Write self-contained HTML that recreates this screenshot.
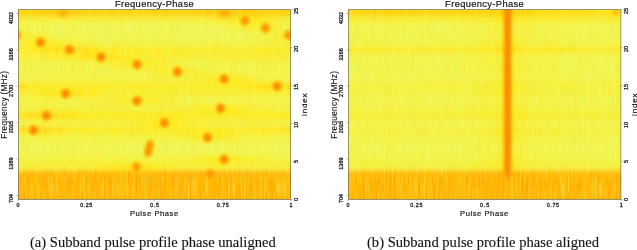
<!DOCTYPE html>
<html><head><meta charset="utf-8"><title>Subband pulse profile</title>
<style>
html,body{margin:0;padding:0;background:#fff;width:637px;height:250px;overflow:hidden}
svg{display:block;position:absolute;left:0;top:0}
.tx{will-change:transform}
.tx text{font-family:"Liberation Sans",sans-serif}
.tx .b{fill:#111;stroke:#111;stroke-width:.18px}
.tx .c{fill:#111;stroke:#111;stroke-width:.1px}
.tx .s{fill:#111;stroke:#111;stroke-width:.26px}
.tx line{stroke:#888;stroke-width:.6px}
.cap{will-change:transform;-webkit-text-stroke:0.12px #111;position:absolute;top:232px;font-family:"Liberation Serif",serif;font-size:14.58px;color:#111;white-space:nowrap;line-height:20px}
</style></head><body>
<svg width="637" height="250" viewBox="0 0 637 250">
<defs>
<filter id="vb" x="-2%" y="-10%" width="104%" height="120%"><feGaussianBlur stdDeviation="0.3 2.2"/></filter>
<linearGradient id="ln"><stop offset="0" stop-color="#ffc000" stop-opacity="0"/><stop offset="0.2" stop-color="#ffb000" stop-opacity="0.3"/><stop offset="0.33" stop-color="#fd9800" stop-opacity="0.8"/><stop offset="0.43" stop-color="#fb8c00"/><stop offset="0.57" stop-color="#fb8c00"/><stop offset="0.67" stop-color="#fd9800" stop-opacity="0.8"/><stop offset="0.8" stop-color="#ffb000" stop-opacity="0.3"/><stop offset="1" stop-color="#ffc000" stop-opacity="0"/></linearGradient>
<radialGradient id="bl"><stop offset="0" stop-color="#fa8a00"/><stop offset="0.28" stop-color="#fb9000" stop-opacity="0.95"/><stop offset="0.5" stop-color="#fda400" stop-opacity="0.7"/><stop offset="0.7" stop-color="#ffb800" stop-opacity="0.38"/><stop offset="0.86" stop-color="#ffc800" stop-opacity="0.13"/><stop offset="1" stop-color="#ffd000" stop-opacity="0"/></radialGradient>
<linearGradient id="bmg" x1="0" y1="0" x2="0" y2="1"><stop offset="0" stop-color="#fff" stop-opacity="0"/><stop offset="0.25" stop-color="#fff" stop-opacity="1"/></linearGradient><mask id="bm" maskUnits="userSpaceOnUse" x="0" y="0" width="637" height="250"><rect x="0" y="169.4" width="637" height="30.2" fill="url(#bmg)"/></mask>
<clipPath id="ca"><rect x="18.0" y="9.6" width="273.0" height="190.0"/></clipPath>
<clipPath id="cb"><rect x="348.0" y="9.6" width="273.2" height="190.0"/></clipPath>
<linearGradient id="a0"><stop offset="0.0%" stop-color="#ffd20d"/><stop offset="1.1%" stop-color="#ffd60f"/><stop offset="2.2%" stop-color="#ffd60f"/><stop offset="3.3%" stop-color="#ffd710"/><stop offset="4.4%" stop-color="#ffd40e"/><stop offset="5.5%" stop-color="#ffd10c"/><stop offset="6.6%" stop-color="#ffd30d"/><stop offset="7.7%" stop-color="#ffd20d"/><stop offset="8.8%" stop-color="#ffd30d"/><stop offset="9.9%" stop-color="#ffcd0a"/><stop offset="11.0%" stop-color="#ffd00c"/><stop offset="12.1%" stop-color="#ffcf0b"/><stop offset="13.2%" stop-color="#ffd10c"/><stop offset="14.3%" stop-color="#ffcf0b"/><stop offset="15.4%" stop-color="#ffd00b"/><stop offset="16.5%" stop-color="#ffce0a"/><stop offset="17.6%" stop-color="#ffce0a"/><stop offset="18.7%" stop-color="#ffcb08"/><stop offset="19.8%" stop-color="#ffcc09"/><stop offset="20.9%" stop-color="#ffcd0a"/><stop offset="22.0%" stop-color="#ffd40e"/><stop offset="23.1%" stop-color="#ffd00b"/><stop offset="24.2%" stop-color="#ffd20d"/><stop offset="25.3%" stop-color="#ffd10c"/><stop offset="26.4%" stop-color="#ffd710"/><stop offset="27.5%" stop-color="#ffd00c"/><stop offset="28.6%" stop-color="#ffd00b"/><stop offset="29.7%" stop-color="#ffd60f"/><stop offset="30.8%" stop-color="#ffd60f"/><stop offset="31.9%" stop-color="#ffd50e"/><stop offset="33.0%" stop-color="#ffd50f"/><stop offset="34.1%" stop-color="#ffd40e"/><stop offset="35.2%" stop-color="#ffd00c"/><stop offset="36.3%" stop-color="#ffd50e"/><stop offset="37.4%" stop-color="#ffd40e"/><stop offset="38.5%" stop-color="#ffd40e"/><stop offset="39.6%" stop-color="#ffd50e"/><stop offset="40.7%" stop-color="#ffd30d"/><stop offset="41.8%" stop-color="#ffd40e"/><stop offset="42.9%" stop-color="#ffd911"/><stop offset="44.0%" stop-color="#ffd50f"/><stop offset="45.1%" stop-color="#ffd60f"/><stop offset="46.2%" stop-color="#ffd30d"/><stop offset="47.3%" stop-color="#ffd50f"/><stop offset="48.4%" stop-color="#ffd60f"/><stop offset="49.5%" stop-color="#ffd60f"/><stop offset="50.5%" stop-color="#ffd30d"/><stop offset="51.6%" stop-color="#ffd60f"/><stop offset="52.7%" stop-color="#ffd60f"/><stop offset="53.8%" stop-color="#ffd30d"/><stop offset="54.9%" stop-color="#ffd10c"/><stop offset="56.0%" stop-color="#ffd60f"/><stop offset="57.1%" stop-color="#ffd50f"/><stop offset="58.2%" stop-color="#ffd60f"/><stop offset="59.3%" stop-color="#ffd710"/><stop offset="60.4%" stop-color="#ffd40e"/><stop offset="61.5%" stop-color="#ffd20d"/><stop offset="62.6%" stop-color="#ffd60f"/><stop offset="63.7%" stop-color="#ffd20c"/><stop offset="64.8%" stop-color="#ffd20c"/><stop offset="65.9%" stop-color="#ffd30d"/><stop offset="67.0%" stop-color="#ffd40e"/><stop offset="68.1%" stop-color="#ffd20d"/><stop offset="69.2%" stop-color="#ffce0b"/><stop offset="70.3%" stop-color="#ffd20d"/><stop offset="71.4%" stop-color="#ffd00b"/><stop offset="72.5%" stop-color="#ffce0a"/><stop offset="73.6%" stop-color="#ffcc09"/><stop offset="74.7%" stop-color="#ffcd0a"/><stop offset="75.8%" stop-color="#ffce0a"/><stop offset="76.9%" stop-color="#ffcd09"/><stop offset="78.0%" stop-color="#ffcc09"/><stop offset="79.1%" stop-color="#ffcb08"/><stop offset="80.2%" stop-color="#ffcc09"/><stop offset="81.3%" stop-color="#ffd20d"/><stop offset="82.4%" stop-color="#ffcf0b"/><stop offset="83.5%" stop-color="#ffd00b"/><stop offset="84.6%" stop-color="#ffd10c"/><stop offset="85.7%" stop-color="#ffd10c"/><stop offset="86.8%" stop-color="#ffd20d"/><stop offset="87.9%" stop-color="#ffcf0b"/><stop offset="89.0%" stop-color="#ffd20d"/><stop offset="90.1%" stop-color="#ffd00c"/><stop offset="91.2%" stop-color="#ffd30e"/><stop offset="92.3%" stop-color="#ffd40e"/><stop offset="93.4%" stop-color="#ffd40e"/><stop offset="94.5%" stop-color="#ffd60f"/><stop offset="95.6%" stop-color="#ffd20d"/><stop offset="96.7%" stop-color="#ffd20c"/><stop offset="97.8%" stop-color="#ffd20d"/><stop offset="98.9%" stop-color="#ffd50f"/><stop offset="100.0%" stop-color="#ffd60f"/></linearGradient>
<linearGradient id="a1"><stop offset="0.0%" stop-color="#f6ef39"/><stop offset="1.1%" stop-color="#f4f242"/><stop offset="2.2%" stop-color="#f4f141"/><stop offset="3.3%" stop-color="#f4f13f"/><stop offset="4.4%" stop-color="#f4f141"/><stop offset="5.5%" stop-color="#f6f03a"/><stop offset="6.6%" stop-color="#f2f347"/><stop offset="7.7%" stop-color="#f5f03d"/><stop offset="8.8%" stop-color="#f3f245"/><stop offset="9.9%" stop-color="#f5f03c"/><stop offset="11.0%" stop-color="#f4f243"/><stop offset="12.1%" stop-color="#f3f346"/><stop offset="13.2%" stop-color="#f4f140"/><stop offset="14.3%" stop-color="#f5f13e"/><stop offset="15.4%" stop-color="#f4f242"/><stop offset="16.5%" stop-color="#f5f13f"/><stop offset="17.6%" stop-color="#f6ef39"/><stop offset="18.7%" stop-color="#f4f140"/><stop offset="19.8%" stop-color="#f5f03d"/><stop offset="20.9%" stop-color="#f4f242"/><stop offset="22.0%" stop-color="#f2f347"/><stop offset="23.1%" stop-color="#f6f03a"/><stop offset="24.2%" stop-color="#f3f346"/><stop offset="25.3%" stop-color="#f5f13f"/><stop offset="26.4%" stop-color="#f4f141"/><stop offset="27.5%" stop-color="#f6f03b"/><stop offset="28.6%" stop-color="#f5f03c"/><stop offset="29.7%" stop-color="#f3f244"/><stop offset="30.8%" stop-color="#f4f140"/><stop offset="31.9%" stop-color="#f4f140"/><stop offset="33.0%" stop-color="#f3f243"/><stop offset="34.1%" stop-color="#f4f141"/><stop offset="35.2%" stop-color="#f5f13f"/><stop offset="36.3%" stop-color="#f4f140"/><stop offset="37.4%" stop-color="#f3f243"/><stop offset="38.5%" stop-color="#f4f140"/><stop offset="39.6%" stop-color="#f0f54f"/><stop offset="40.7%" stop-color="#f5f13f"/><stop offset="41.8%" stop-color="#f2f347"/><stop offset="42.9%" stop-color="#f4f140"/><stop offset="44.0%" stop-color="#f6f03b"/><stop offset="45.1%" stop-color="#f3f346"/><stop offset="46.2%" stop-color="#f4f141"/><stop offset="47.3%" stop-color="#f3f243"/><stop offset="48.4%" stop-color="#f3f244"/><stop offset="49.5%" stop-color="#f5f13e"/><stop offset="50.5%" stop-color="#f5f13f"/><stop offset="51.6%" stop-color="#f3f246"/><stop offset="52.7%" stop-color="#f4f141"/><stop offset="53.8%" stop-color="#f5f13e"/><stop offset="54.9%" stop-color="#f4f140"/><stop offset="56.0%" stop-color="#f2f347"/><stop offset="57.1%" stop-color="#f5f03d"/><stop offset="58.2%" stop-color="#f5f03c"/><stop offset="59.3%" stop-color="#f3f245"/><stop offset="60.4%" stop-color="#f3f245"/><stop offset="61.5%" stop-color="#f4f140"/><stop offset="62.6%" stop-color="#f2f348"/><stop offset="63.7%" stop-color="#f7ef37"/><stop offset="64.8%" stop-color="#f5f03d"/><stop offset="65.9%" stop-color="#f3f346"/><stop offset="67.0%" stop-color="#f4f140"/><stop offset="68.1%" stop-color="#f5f13f"/><stop offset="69.2%" stop-color="#f9ed30"/><stop offset="70.3%" stop-color="#f5f13f"/><stop offset="71.4%" stop-color="#f6ef39"/><stop offset="72.5%" stop-color="#f8ee31"/><stop offset="73.6%" stop-color="#f9ed30"/><stop offset="74.7%" stop-color="#faec2c"/><stop offset="75.8%" stop-color="#f9ed30"/><stop offset="76.9%" stop-color="#fceb26"/><stop offset="78.0%" stop-color="#fbeb28"/><stop offset="79.1%" stop-color="#fee91e"/><stop offset="80.2%" stop-color="#fbec2a"/><stop offset="81.3%" stop-color="#ffe81a"/><stop offset="82.4%" stop-color="#fdea23"/><stop offset="83.5%" stop-color="#fee91c"/><stop offset="84.6%" stop-color="#fcea24"/><stop offset="85.7%" stop-color="#fceb25"/><stop offset="86.8%" stop-color="#fceb25"/><stop offset="87.9%" stop-color="#fee91e"/><stop offset="89.0%" stop-color="#fcea24"/><stop offset="90.1%" stop-color="#fceb25"/><stop offset="91.2%" stop-color="#fbec29"/><stop offset="92.3%" stop-color="#f9ed31"/><stop offset="93.4%" stop-color="#f8ee32"/><stop offset="94.5%" stop-color="#f7ef36"/><stop offset="95.6%" stop-color="#f6f03b"/><stop offset="96.7%" stop-color="#f8ee35"/><stop offset="97.8%" stop-color="#f6f03a"/><stop offset="98.9%" stop-color="#f5f13e"/><stop offset="100.0%" stop-color="#f4f140"/></linearGradient>
<linearGradient id="a2"><stop offset="0.0%" stop-color="#f6ef39"/><stop offset="1.1%" stop-color="#f4f242"/><stop offset="2.2%" stop-color="#f3f246"/><stop offset="3.3%" stop-color="#f2f34a"/><stop offset="4.4%" stop-color="#f1f44b"/><stop offset="5.5%" stop-color="#f2f347"/><stop offset="6.6%" stop-color="#edf758"/><stop offset="7.7%" stop-color="#f1f44d"/><stop offset="8.8%" stop-color="#f1f44b"/><stop offset="9.9%" stop-color="#f1f44a"/><stop offset="11.0%" stop-color="#f2f349"/><stop offset="12.1%" stop-color="#f0f44e"/><stop offset="13.2%" stop-color="#eff552"/><stop offset="14.3%" stop-color="#f0f550"/><stop offset="15.4%" stop-color="#eef758"/><stop offset="16.5%" stop-color="#eff653"/><stop offset="17.6%" stop-color="#f2f347"/><stop offset="18.7%" stop-color="#eff654"/><stop offset="19.8%" stop-color="#f3f346"/><stop offset="20.9%" stop-color="#f0f551"/><stop offset="22.0%" stop-color="#f1f44c"/><stop offset="23.1%" stop-color="#f1f44c"/><stop offset="24.2%" stop-color="#eef757"/><stop offset="25.3%" stop-color="#eff653"/><stop offset="26.4%" stop-color="#f0f54f"/><stop offset="27.5%" stop-color="#eff653"/><stop offset="28.6%" stop-color="#f0f551"/><stop offset="29.7%" stop-color="#f0f54f"/><stop offset="30.8%" stop-color="#eff653"/><stop offset="31.9%" stop-color="#eff654"/><stop offset="33.0%" stop-color="#eff654"/><stop offset="34.1%" stop-color="#f1f44d"/><stop offset="35.2%" stop-color="#f0f550"/><stop offset="36.3%" stop-color="#f1f44b"/><stop offset="37.4%" stop-color="#f2f34a"/><stop offset="38.5%" stop-color="#f0f44e"/><stop offset="39.6%" stop-color="#edf85b"/><stop offset="40.7%" stop-color="#eff653"/><stop offset="41.8%" stop-color="#eff552"/><stop offset="42.9%" stop-color="#f0f550"/><stop offset="44.0%" stop-color="#f0f44e"/><stop offset="45.1%" stop-color="#f1f44c"/><stop offset="46.2%" stop-color="#eff653"/><stop offset="47.3%" stop-color="#f0f551"/><stop offset="48.4%" stop-color="#eff552"/><stop offset="49.5%" stop-color="#eff551"/><stop offset="50.5%" stop-color="#eff552"/><stop offset="51.6%" stop-color="#eff654"/><stop offset="52.7%" stop-color="#eff551"/><stop offset="53.8%" stop-color="#eff552"/><stop offset="54.9%" stop-color="#eff654"/><stop offset="56.0%" stop-color="#f0f54f"/><stop offset="57.1%" stop-color="#f0f54f"/><stop offset="58.2%" stop-color="#f3f243"/><stop offset="59.3%" stop-color="#f1f44d"/><stop offset="60.4%" stop-color="#eff654"/><stop offset="61.5%" stop-color="#f1f44c"/><stop offset="62.6%" stop-color="#eff654"/><stop offset="63.7%" stop-color="#f0f551"/><stop offset="64.8%" stop-color="#f1f44a"/><stop offset="65.9%" stop-color="#eef656"/><stop offset="67.0%" stop-color="#edf85b"/><stop offset="68.1%" stop-color="#f0f54f"/><stop offset="69.2%" stop-color="#f0f550"/><stop offset="70.3%" stop-color="#f0f44e"/><stop offset="71.4%" stop-color="#eff653"/><stop offset="72.5%" stop-color="#eff551"/><stop offset="73.6%" stop-color="#f3f245"/><stop offset="74.7%" stop-color="#eef656"/><stop offset="75.8%" stop-color="#f1f44c"/><stop offset="76.9%" stop-color="#f3f243"/><stop offset="78.0%" stop-color="#f2f349"/><stop offset="79.1%" stop-color="#f4f242"/><stop offset="80.2%" stop-color="#f3f246"/><stop offset="81.3%" stop-color="#f5f03c"/><stop offset="82.4%" stop-color="#f3f243"/><stop offset="83.5%" stop-color="#f8ee35"/><stop offset="84.6%" stop-color="#f7ee35"/><stop offset="85.7%" stop-color="#faec2c"/><stop offset="86.8%" stop-color="#f7ef37"/><stop offset="87.9%" stop-color="#f9ed2f"/><stop offset="89.0%" stop-color="#fbec29"/><stop offset="90.1%" stop-color="#faed2d"/><stop offset="91.2%" stop-color="#fbec2a"/><stop offset="92.3%" stop-color="#faec2d"/><stop offset="93.4%" stop-color="#faec2c"/><stop offset="94.5%" stop-color="#f7ef36"/><stop offset="95.6%" stop-color="#f7ef36"/><stop offset="96.7%" stop-color="#f5f13e"/><stop offset="97.8%" stop-color="#f4f141"/><stop offset="98.9%" stop-color="#f6ef39"/><stop offset="100.0%" stop-color="#f3f244"/></linearGradient>
<linearGradient id="a3"><stop offset="0.0%" stop-color="#faed2d"/><stop offset="1.1%" stop-color="#f6f03b"/><stop offset="2.2%" stop-color="#f9ed2f"/><stop offset="3.3%" stop-color="#f7ee35"/><stop offset="4.4%" stop-color="#f5f03c"/><stop offset="5.5%" stop-color="#f7ef37"/><stop offset="6.6%" stop-color="#f4f140"/><stop offset="7.7%" stop-color="#f5f03d"/><stop offset="8.8%" stop-color="#f2f347"/><stop offset="9.9%" stop-color="#f7ef36"/><stop offset="11.0%" stop-color="#f3f245"/><stop offset="12.1%" stop-color="#f1f44a"/><stop offset="13.2%" stop-color="#f1f44d"/><stop offset="14.3%" stop-color="#f0f54e"/><stop offset="15.4%" stop-color="#f1f44c"/><stop offset="16.5%" stop-color="#f0f550"/><stop offset="17.6%" stop-color="#f2f349"/><stop offset="18.7%" stop-color="#f1f44d"/><stop offset="19.8%" stop-color="#f2f348"/><stop offset="20.9%" stop-color="#f1f44d"/><stop offset="22.0%" stop-color="#f0f550"/><stop offset="23.1%" stop-color="#eff654"/><stop offset="24.2%" stop-color="#f1f44d"/><stop offset="25.3%" stop-color="#f0f44e"/><stop offset="26.4%" stop-color="#f0f550"/><stop offset="27.5%" stop-color="#f1f44c"/><stop offset="28.6%" stop-color="#f1f44d"/><stop offset="29.7%" stop-color="#eff552"/><stop offset="30.8%" stop-color="#eff654"/><stop offset="31.9%" stop-color="#f2f348"/><stop offset="33.0%" stop-color="#eff551"/><stop offset="34.1%" stop-color="#eff652"/><stop offset="35.2%" stop-color="#eff653"/><stop offset="36.3%" stop-color="#f0f54f"/><stop offset="37.4%" stop-color="#f2f34a"/><stop offset="38.5%" stop-color="#f1f44c"/><stop offset="39.6%" stop-color="#edf759"/><stop offset="40.7%" stop-color="#f2f348"/><stop offset="41.8%" stop-color="#f1f44c"/><stop offset="42.9%" stop-color="#f0f550"/><stop offset="44.0%" stop-color="#f1f44c"/><stop offset="45.1%" stop-color="#f2f34a"/><stop offset="46.2%" stop-color="#f0f54f"/><stop offset="47.3%" stop-color="#f0f54f"/><stop offset="48.4%" stop-color="#eff653"/><stop offset="49.5%" stop-color="#f1f44a"/><stop offset="50.5%" stop-color="#f1f44c"/><stop offset="51.6%" stop-color="#f3f346"/><stop offset="52.7%" stop-color="#eef757"/><stop offset="53.8%" stop-color="#f1f44a"/><stop offset="54.9%" stop-color="#f1f44c"/><stop offset="56.0%" stop-color="#eff653"/><stop offset="57.1%" stop-color="#f1f44d"/><stop offset="58.2%" stop-color="#f1f44b"/><stop offset="59.3%" stop-color="#f0f44e"/><stop offset="60.4%" stop-color="#eff654"/><stop offset="61.5%" stop-color="#f0f550"/><stop offset="62.6%" stop-color="#eff552"/><stop offset="63.7%" stop-color="#f2f349"/><stop offset="64.8%" stop-color="#f0f54e"/><stop offset="65.9%" stop-color="#eff653"/><stop offset="67.0%" stop-color="#f0f54f"/><stop offset="68.1%" stop-color="#f0f44e"/><stop offset="69.2%" stop-color="#eff552"/><stop offset="70.3%" stop-color="#edf75a"/><stop offset="71.4%" stop-color="#eff551"/><stop offset="72.5%" stop-color="#eff652"/><stop offset="73.6%" stop-color="#f0f54f"/><stop offset="74.7%" stop-color="#eff654"/><stop offset="75.8%" stop-color="#f0f54f"/><stop offset="76.9%" stop-color="#eff653"/><stop offset="78.0%" stop-color="#f1f44e"/><stop offset="79.1%" stop-color="#eff552"/><stop offset="80.2%" stop-color="#f0f54f"/><stop offset="81.3%" stop-color="#eff653"/><stop offset="82.4%" stop-color="#eef655"/><stop offset="83.5%" stop-color="#f2f347"/><stop offset="84.6%" stop-color="#f1f44d"/><stop offset="85.7%" stop-color="#f0f44e"/><stop offset="86.8%" stop-color="#f1f44d"/><stop offset="87.9%" stop-color="#f4f140"/><stop offset="89.0%" stop-color="#f4f142"/><stop offset="90.1%" stop-color="#f5f13f"/><stop offset="91.2%" stop-color="#f7ef37"/><stop offset="92.3%" stop-color="#f5f03c"/><stop offset="93.4%" stop-color="#f6f03b"/><stop offset="94.5%" stop-color="#f6ef39"/><stop offset="95.6%" stop-color="#f9ed30"/><stop offset="96.7%" stop-color="#fbec2a"/><stop offset="97.8%" stop-color="#f9ed2e"/><stop offset="98.9%" stop-color="#f9ed31"/><stop offset="100.0%" stop-color="#f9ed31"/></linearGradient>
<linearGradient id="a4"><stop offset="0.0%" stop-color="#faec2c"/><stop offset="1.1%" stop-color="#f7ef38"/><stop offset="2.2%" stop-color="#fbeb29"/><stop offset="3.3%" stop-color="#fbeb28"/><stop offset="4.4%" stop-color="#faec2a"/><stop offset="5.5%" stop-color="#fceb25"/><stop offset="6.6%" stop-color="#fbeb28"/><stop offset="7.7%" stop-color="#ffe81c"/><stop offset="8.8%" stop-color="#ffe81a"/><stop offset="9.9%" stop-color="#ffe81b"/><stop offset="11.0%" stop-color="#fcea24"/><stop offset="12.1%" stop-color="#f9ed30"/><stop offset="13.2%" stop-color="#fbec29"/><stop offset="14.3%" stop-color="#f9ed2e"/><stop offset="15.4%" stop-color="#f7ef37"/><stop offset="16.5%" stop-color="#f8ee32"/><stop offset="17.6%" stop-color="#f5f03c"/><stop offset="18.7%" stop-color="#f6f03c"/><stop offset="19.8%" stop-color="#f6f03a"/><stop offset="20.9%" stop-color="#f3f245"/><stop offset="22.0%" stop-color="#f5f13e"/><stop offset="23.1%" stop-color="#f6f03b"/><stop offset="24.2%" stop-color="#f2f349"/><stop offset="25.3%" stop-color="#f1f44c"/><stop offset="26.4%" stop-color="#f3f244"/><stop offset="27.5%" stop-color="#f3f246"/><stop offset="28.6%" stop-color="#f2f348"/><stop offset="29.7%" stop-color="#f2f349"/><stop offset="30.8%" stop-color="#f2f349"/><stop offset="31.9%" stop-color="#f3f346"/><stop offset="33.0%" stop-color="#f2f347"/><stop offset="34.1%" stop-color="#f2f347"/><stop offset="35.2%" stop-color="#f5f13f"/><stop offset="36.3%" stop-color="#f4f141"/><stop offset="37.4%" stop-color="#f3f245"/><stop offset="38.5%" stop-color="#f4f242"/><stop offset="39.6%" stop-color="#f2f349"/><stop offset="40.7%" stop-color="#f3f243"/><stop offset="41.8%" stop-color="#f0f54f"/><stop offset="42.9%" stop-color="#f2f349"/><stop offset="44.0%" stop-color="#f2f347"/><stop offset="45.1%" stop-color="#f4f140"/><stop offset="46.2%" stop-color="#f2f349"/><stop offset="47.3%" stop-color="#f2f348"/><stop offset="48.4%" stop-color="#f2f347"/><stop offset="49.5%" stop-color="#f4f142"/><stop offset="50.5%" stop-color="#f3f244"/><stop offset="51.6%" stop-color="#f2f347"/><stop offset="52.7%" stop-color="#f3f346"/><stop offset="53.8%" stop-color="#f2f347"/><stop offset="54.9%" stop-color="#f2f348"/><stop offset="56.0%" stop-color="#f1f44a"/><stop offset="57.1%" stop-color="#f3f246"/><stop offset="58.2%" stop-color="#f5f13f"/><stop offset="59.3%" stop-color="#f1f44a"/><stop offset="60.4%" stop-color="#f2f34a"/><stop offset="61.5%" stop-color="#f2f348"/><stop offset="62.6%" stop-color="#f1f44b"/><stop offset="63.7%" stop-color="#f1f44b"/><stop offset="64.8%" stop-color="#f2f34a"/><stop offset="65.9%" stop-color="#f1f44c"/><stop offset="67.0%" stop-color="#f3f246"/><stop offset="68.1%" stop-color="#f1f44a"/><stop offset="69.2%" stop-color="#f2f348"/><stop offset="70.3%" stop-color="#f0f550"/><stop offset="71.4%" stop-color="#f2f348"/><stop offset="72.5%" stop-color="#f4f141"/><stop offset="73.6%" stop-color="#f3f244"/><stop offset="74.7%" stop-color="#f1f44c"/><stop offset="75.8%" stop-color="#f2f347"/><stop offset="76.9%" stop-color="#f1f44b"/><stop offset="78.0%" stop-color="#f1f44b"/><stop offset="79.1%" stop-color="#f3f245"/><stop offset="80.2%" stop-color="#f2f34a"/><stop offset="81.3%" stop-color="#f2f347"/><stop offset="82.4%" stop-color="#f0f54f"/><stop offset="83.5%" stop-color="#f4f140"/><stop offset="84.6%" stop-color="#f4f141"/><stop offset="85.7%" stop-color="#f2f34a"/><stop offset="86.8%" stop-color="#f2f34a"/><stop offset="87.9%" stop-color="#f4f242"/><stop offset="89.0%" stop-color="#f4f242"/><stop offset="90.1%" stop-color="#f1f44a"/><stop offset="91.2%" stop-color="#f5f03d"/><stop offset="92.3%" stop-color="#f3f246"/><stop offset="93.4%" stop-color="#f4f140"/><stop offset="94.5%" stop-color="#f3f243"/><stop offset="95.6%" stop-color="#f4f243"/><stop offset="96.7%" stop-color="#f6f03a"/><stop offset="97.8%" stop-color="#f6f03a"/><stop offset="98.9%" stop-color="#f5f03c"/><stop offset="100.0%" stop-color="#f7ef36"/></linearGradient>
<linearGradient id="a5"><stop offset="0.0%" stop-color="#fdea21"/><stop offset="1.1%" stop-color="#f9ed30"/><stop offset="2.2%" stop-color="#fee91d"/><stop offset="3.3%" stop-color="#fdea21"/><stop offset="4.4%" stop-color="#fdea21"/><stop offset="5.5%" stop-color="#ffe81a"/><stop offset="6.6%" stop-color="#fceb24"/><stop offset="7.7%" stop-color="#ffe81a"/><stop offset="8.8%" stop-color="#ffe418"/><stop offset="9.9%" stop-color="#ffe015"/><stop offset="11.0%" stop-color="#ffe71a"/><stop offset="12.1%" stop-color="#ffe81a"/><stop offset="13.2%" stop-color="#ffe317"/><stop offset="14.3%" stop-color="#ffde14"/><stop offset="15.4%" stop-color="#ffe015"/><stop offset="16.5%" stop-color="#ffde14"/><stop offset="17.6%" stop-color="#ffdb12"/><stop offset="18.7%" stop-color="#ffde14"/><stop offset="19.8%" stop-color="#ffdb12"/><stop offset="20.9%" stop-color="#ffdb12"/><stop offset="22.0%" stop-color="#ffdd13"/><stop offset="23.1%" stop-color="#ffdc13"/><stop offset="24.2%" stop-color="#ffe015"/><stop offset="25.3%" stop-color="#ffe116"/><stop offset="26.4%" stop-color="#ffe418"/><stop offset="27.5%" stop-color="#ffe216"/><stop offset="28.6%" stop-color="#ffe015"/><stop offset="29.7%" stop-color="#fee91c"/><stop offset="30.8%" stop-color="#fcea24"/><stop offset="31.9%" stop-color="#fee91d"/><stop offset="33.0%" stop-color="#fde920"/><stop offset="34.1%" stop-color="#fee91e"/><stop offset="35.2%" stop-color="#fee81c"/><stop offset="36.3%" stop-color="#fceb25"/><stop offset="37.4%" stop-color="#fbeb27"/><stop offset="38.5%" stop-color="#fee91e"/><stop offset="39.6%" stop-color="#f9ed30"/><stop offset="40.7%" stop-color="#fee91e"/><stop offset="41.8%" stop-color="#fbeb28"/><stop offset="42.9%" stop-color="#fceb26"/><stop offset="44.0%" stop-color="#fdea22"/><stop offset="45.1%" stop-color="#fdea21"/><stop offset="46.2%" stop-color="#fcea23"/><stop offset="47.3%" stop-color="#faec2c"/><stop offset="48.4%" stop-color="#fcea24"/><stop offset="49.5%" stop-color="#fceb26"/><stop offset="50.5%" stop-color="#fdea21"/><stop offset="51.6%" stop-color="#fee91f"/><stop offset="52.7%" stop-color="#fceb26"/><stop offset="53.8%" stop-color="#fceb26"/><stop offset="54.9%" stop-color="#fbec29"/><stop offset="56.0%" stop-color="#fbec29"/><stop offset="57.1%" stop-color="#fdea21"/><stop offset="58.2%" stop-color="#fbeb27"/><stop offset="59.3%" stop-color="#fdea21"/><stop offset="60.4%" stop-color="#fceb26"/><stop offset="61.5%" stop-color="#fceb26"/><stop offset="62.6%" stop-color="#f9ed30"/><stop offset="63.7%" stop-color="#fcea23"/><stop offset="64.8%" stop-color="#fdea22"/><stop offset="65.9%" stop-color="#f9ed30"/><stop offset="67.0%" stop-color="#fdea21"/><stop offset="68.1%" stop-color="#fdea21"/><stop offset="69.2%" stop-color="#fdea22"/><stop offset="70.3%" stop-color="#fbeb28"/><stop offset="71.4%" stop-color="#fee91e"/><stop offset="72.5%" stop-color="#fee91f"/><stop offset="73.6%" stop-color="#fceb26"/><stop offset="74.7%" stop-color="#faec2b"/><stop offset="75.8%" stop-color="#fbeb27"/><stop offset="76.9%" stop-color="#fceb25"/><stop offset="78.0%" stop-color="#f9ed30"/><stop offset="79.1%" stop-color="#fee91f"/><stop offset="80.2%" stop-color="#faec2b"/><stop offset="81.3%" stop-color="#fcea24"/><stop offset="82.4%" stop-color="#fbeb28"/><stop offset="83.5%" stop-color="#fee91f"/><stop offset="84.6%" stop-color="#fbeb27"/><stop offset="85.7%" stop-color="#fbec29"/><stop offset="86.8%" stop-color="#fbeb27"/><stop offset="87.9%" stop-color="#fee91c"/><stop offset="89.0%" stop-color="#fceb25"/><stop offset="90.1%" stop-color="#fee91e"/><stop offset="91.2%" stop-color="#fdea22"/><stop offset="92.3%" stop-color="#fbeb27"/><stop offset="93.4%" stop-color="#fdea21"/><stop offset="94.5%" stop-color="#faec2a"/><stop offset="95.6%" stop-color="#fcea23"/><stop offset="96.7%" stop-color="#fcea24"/><stop offset="97.8%" stop-color="#fbeb27"/><stop offset="98.9%" stop-color="#faec2b"/><stop offset="100.0%" stop-color="#fbeb28"/></linearGradient>
<linearGradient id="a6"><stop offset="0.0%" stop-color="#fbeb28"/><stop offset="1.1%" stop-color="#f7ef36"/><stop offset="2.2%" stop-color="#f9ed30"/><stop offset="3.3%" stop-color="#f8ee34"/><stop offset="4.4%" stop-color="#f9ed30"/><stop offset="5.5%" stop-color="#f7ef37"/><stop offset="6.6%" stop-color="#f6f03a"/><stop offset="7.7%" stop-color="#f8ee32"/><stop offset="8.8%" stop-color="#f7ef36"/><stop offset="9.9%" stop-color="#faec2b"/><stop offset="11.0%" stop-color="#f9ed30"/><stop offset="12.1%" stop-color="#f9ed31"/><stop offset="13.2%" stop-color="#f9ed30"/><stop offset="14.3%" stop-color="#fbec29"/><stop offset="15.4%" stop-color="#faec2b"/><stop offset="16.5%" stop-color="#fbeb27"/><stop offset="17.6%" stop-color="#fbeb28"/><stop offset="18.7%" stop-color="#fbec29"/><stop offset="19.8%" stop-color="#fbeb27"/><stop offset="20.9%" stop-color="#fdea22"/><stop offset="22.0%" stop-color="#fceb25"/><stop offset="23.1%" stop-color="#ffe71a"/><stop offset="24.2%" stop-color="#ffe418"/><stop offset="25.3%" stop-color="#ffe317"/><stop offset="26.4%" stop-color="#ffe216"/><stop offset="27.5%" stop-color="#ffe317"/><stop offset="28.6%" stop-color="#ffdf14"/><stop offset="29.7%" stop-color="#ffe317"/><stop offset="30.8%" stop-color="#ffe015"/><stop offset="31.9%" stop-color="#ffe116"/><stop offset="33.0%" stop-color="#ffe216"/><stop offset="34.1%" stop-color="#ffdf15"/><stop offset="35.2%" stop-color="#ffe216"/><stop offset="36.3%" stop-color="#ffe116"/><stop offset="37.4%" stop-color="#ffe719"/><stop offset="38.5%" stop-color="#fee81c"/><stop offset="39.6%" stop-color="#fdea21"/><stop offset="40.7%" stop-color="#ffe81a"/><stop offset="41.8%" stop-color="#fbec2a"/><stop offset="42.9%" stop-color="#faec2c"/><stop offset="44.0%" stop-color="#f9ed2f"/><stop offset="45.1%" stop-color="#faec2b"/><stop offset="46.2%" stop-color="#faec2b"/><stop offset="47.3%" stop-color="#f8ee31"/><stop offset="48.4%" stop-color="#f8ee31"/><stop offset="49.5%" stop-color="#f7ef35"/><stop offset="50.5%" stop-color="#faec2b"/><stop offset="51.6%" stop-color="#faec2c"/><stop offset="52.7%" stop-color="#f9ed2e"/><stop offset="53.8%" stop-color="#faed2d"/><stop offset="54.9%" stop-color="#f7ef36"/><stop offset="56.0%" stop-color="#faec2c"/><stop offset="57.1%" stop-color="#f9ed30"/><stop offset="58.2%" stop-color="#f9ed30"/><stop offset="59.3%" stop-color="#f9ed2f"/><stop offset="60.4%" stop-color="#f6f03b"/><stop offset="61.5%" stop-color="#f9ed31"/><stop offset="62.6%" stop-color="#f7ef37"/><stop offset="63.7%" stop-color="#f9ed2e"/><stop offset="64.8%" stop-color="#faec2b"/><stop offset="65.9%" stop-color="#f8ee33"/><stop offset="67.0%" stop-color="#f7ef38"/><stop offset="68.1%" stop-color="#f8ee35"/><stop offset="69.2%" stop-color="#f9ed2e"/><stop offset="70.3%" stop-color="#f7ef35"/><stop offset="71.4%" stop-color="#f7ef38"/><stop offset="72.5%" stop-color="#f7ef36"/><stop offset="73.6%" stop-color="#faec2c"/><stop offset="74.7%" stop-color="#f8ee35"/><stop offset="75.8%" stop-color="#f8ee32"/><stop offset="76.9%" stop-color="#f7ef37"/><stop offset="78.0%" stop-color="#faec2b"/><stop offset="79.1%" stop-color="#f6ef39"/><stop offset="80.2%" stop-color="#f7ef35"/><stop offset="81.3%" stop-color="#fbeb28"/><stop offset="82.4%" stop-color="#f8ee34"/><stop offset="83.5%" stop-color="#faed2d"/><stop offset="84.6%" stop-color="#f7ef36"/><stop offset="85.7%" stop-color="#faec2d"/><stop offset="86.8%" stop-color="#f6f03a"/><stop offset="87.9%" stop-color="#faec2c"/><stop offset="89.0%" stop-color="#f9ed2f"/><stop offset="90.1%" stop-color="#f8ee33"/><stop offset="91.2%" stop-color="#faec2b"/><stop offset="92.3%" stop-color="#f7ef36"/><stop offset="93.4%" stop-color="#f7ef35"/><stop offset="94.5%" stop-color="#f8ee33"/><stop offset="95.6%" stop-color="#f8ee34"/><stop offset="96.7%" stop-color="#faec2c"/><stop offset="97.8%" stop-color="#f9ed31"/><stop offset="98.9%" stop-color="#f8ee34"/><stop offset="100.0%" stop-color="#f8ee34"/></linearGradient>
<linearGradient id="a7"><stop offset="0.0%" stop-color="#f3f245"/><stop offset="1.1%" stop-color="#f0f54f"/><stop offset="2.2%" stop-color="#f3f244"/><stop offset="3.3%" stop-color="#f1f44a"/><stop offset="4.4%" stop-color="#f2f348"/><stop offset="5.5%" stop-color="#f2f349"/><stop offset="6.6%" stop-color="#f0f550"/><stop offset="7.7%" stop-color="#f3f245"/><stop offset="8.8%" stop-color="#f0f44e"/><stop offset="9.9%" stop-color="#f4f140"/><stop offset="11.0%" stop-color="#f4f242"/><stop offset="12.1%" stop-color="#f1f44d"/><stop offset="13.2%" stop-color="#f2f349"/><stop offset="14.3%" stop-color="#f0f550"/><stop offset="15.4%" stop-color="#f1f44c"/><stop offset="16.5%" stop-color="#f0f54f"/><stop offset="17.6%" stop-color="#f2f348"/><stop offset="18.7%" stop-color="#f1f44b"/><stop offset="19.8%" stop-color="#f3f245"/><stop offset="20.9%" stop-color="#f4f242"/><stop offset="22.0%" stop-color="#f3f346"/><stop offset="23.1%" stop-color="#f4f141"/><stop offset="24.2%" stop-color="#f3f346"/><stop offset="25.3%" stop-color="#f2f349"/><stop offset="26.4%" stop-color="#f2f349"/><stop offset="27.5%" stop-color="#f1f44a"/><stop offset="28.6%" stop-color="#f5f13f"/><stop offset="29.7%" stop-color="#f5f03c"/><stop offset="30.8%" stop-color="#f5f13e"/><stop offset="31.9%" stop-color="#f5f03d"/><stop offset="33.0%" stop-color="#f7ef36"/><stop offset="34.1%" stop-color="#f6f03a"/><stop offset="35.2%" stop-color="#f8ee35"/><stop offset="36.3%" stop-color="#f8ee34"/><stop offset="37.4%" stop-color="#f9ed31"/><stop offset="38.5%" stop-color="#fbec29"/><stop offset="39.6%" stop-color="#fceb26"/><stop offset="40.7%" stop-color="#fcea23"/><stop offset="41.8%" stop-color="#fbec29"/><stop offset="42.9%" stop-color="#fbeb28"/><stop offset="44.0%" stop-color="#fdea22"/><stop offset="45.1%" stop-color="#fbeb28"/><stop offset="46.2%" stop-color="#fceb24"/><stop offset="47.3%" stop-color="#fceb26"/><stop offset="48.4%" stop-color="#fbeb28"/><stop offset="49.5%" stop-color="#fbec2a"/><stop offset="50.5%" stop-color="#f8ee31"/><stop offset="51.6%" stop-color="#f7ef38"/><stop offset="52.7%" stop-color="#f9ee31"/><stop offset="53.8%" stop-color="#f8ee33"/><stop offset="54.9%" stop-color="#f3f243"/><stop offset="56.0%" stop-color="#f4f140"/><stop offset="57.1%" stop-color="#f4f140"/><stop offset="58.2%" stop-color="#f4f13f"/><stop offset="59.3%" stop-color="#f3f244"/><stop offset="60.4%" stop-color="#f2f349"/><stop offset="61.5%" stop-color="#f3f245"/><stop offset="62.6%" stop-color="#f1f44c"/><stop offset="63.7%" stop-color="#f3f246"/><stop offset="64.8%" stop-color="#f0f44e"/><stop offset="65.9%" stop-color="#eef757"/><stop offset="67.0%" stop-color="#f1f44b"/><stop offset="68.1%" stop-color="#f0f551"/><stop offset="69.2%" stop-color="#f3f245"/><stop offset="70.3%" stop-color="#f2f34a"/><stop offset="71.4%" stop-color="#f2f349"/><stop offset="72.5%" stop-color="#f2f348"/><stop offset="73.6%" stop-color="#f3f245"/><stop offset="74.7%" stop-color="#f2f348"/><stop offset="75.8%" stop-color="#f1f44c"/><stop offset="76.9%" stop-color="#f3f244"/><stop offset="78.0%" stop-color="#f2f347"/><stop offset="79.1%" stop-color="#f3f243"/><stop offset="80.2%" stop-color="#f3f245"/><stop offset="81.3%" stop-color="#f1f44a"/><stop offset="82.4%" stop-color="#f2f347"/><stop offset="83.5%" stop-color="#f2f348"/><stop offset="84.6%" stop-color="#f1f44b"/><stop offset="85.7%" stop-color="#f1f44d"/><stop offset="86.8%" stop-color="#f1f44a"/><stop offset="87.9%" stop-color="#f2f348"/><stop offset="89.0%" stop-color="#f3f346"/><stop offset="90.1%" stop-color="#f1f44b"/><stop offset="91.2%" stop-color="#f4f141"/><stop offset="92.3%" stop-color="#f4f140"/><stop offset="93.4%" stop-color="#f2f349"/><stop offset="94.5%" stop-color="#f3f243"/><stop offset="95.6%" stop-color="#f2f348"/><stop offset="96.7%" stop-color="#f5f03c"/><stop offset="97.8%" stop-color="#f1f44b"/><stop offset="98.9%" stop-color="#f0f550"/><stop offset="100.0%" stop-color="#f3f243"/></linearGradient>
<linearGradient id="a8"><stop offset="0.0%" stop-color="#f3f244"/><stop offset="1.1%" stop-color="#eff552"/><stop offset="2.2%" stop-color="#f2f34a"/><stop offset="3.3%" stop-color="#f0f550"/><stop offset="4.4%" stop-color="#f2f34a"/><stop offset="5.5%" stop-color="#f1f44d"/><stop offset="6.6%" stop-color="#f2f347"/><stop offset="7.7%" stop-color="#f3f346"/><stop offset="8.8%" stop-color="#f0f551"/><stop offset="9.9%" stop-color="#f3f346"/><stop offset="11.0%" stop-color="#f2f34a"/><stop offset="12.1%" stop-color="#f0f550"/><stop offset="13.2%" stop-color="#f2f349"/><stop offset="14.3%" stop-color="#f2f34a"/><stop offset="15.4%" stop-color="#f1f44e"/><stop offset="16.5%" stop-color="#f1f44b"/><stop offset="17.6%" stop-color="#f3f245"/><stop offset="18.7%" stop-color="#f3f243"/><stop offset="19.8%" stop-color="#f4f140"/><stop offset="20.9%" stop-color="#f2f348"/><stop offset="22.0%" stop-color="#f3f245"/><stop offset="23.1%" stop-color="#f2f347"/><stop offset="24.2%" stop-color="#f3f245"/><stop offset="25.3%" stop-color="#f1f44d"/><stop offset="26.4%" stop-color="#f3f246"/><stop offset="27.5%" stop-color="#f1f44c"/><stop offset="28.6%" stop-color="#f2f347"/><stop offset="29.7%" stop-color="#f2f349"/><stop offset="30.8%" stop-color="#f3f346"/><stop offset="31.9%" stop-color="#f1f44b"/><stop offset="33.0%" stop-color="#f1f44c"/><stop offset="34.1%" stop-color="#f2f348"/><stop offset="35.2%" stop-color="#f3f245"/><stop offset="36.3%" stop-color="#f2f34a"/><stop offset="37.4%" stop-color="#f2f347"/><stop offset="38.5%" stop-color="#f2f347"/><stop offset="39.6%" stop-color="#f2f348"/><stop offset="40.7%" stop-color="#f4f142"/><stop offset="41.8%" stop-color="#f1f44d"/><stop offset="42.9%" stop-color="#f0f551"/><stop offset="44.0%" stop-color="#f4f142"/><stop offset="45.1%" stop-color="#f6f03b"/><stop offset="46.2%" stop-color="#f5f13f"/><stop offset="47.3%" stop-color="#f6f03b"/><stop offset="48.4%" stop-color="#f6f03b"/><stop offset="49.5%" stop-color="#f6f03b"/><stop offset="50.5%" stop-color="#faec2c"/><stop offset="51.6%" stop-color="#faed2d"/><stop offset="52.7%" stop-color="#fbeb29"/><stop offset="53.8%" stop-color="#faec2b"/><stop offset="54.9%" stop-color="#fceb26"/><stop offset="56.0%" stop-color="#fbeb28"/><stop offset="57.1%" stop-color="#fee91e"/><stop offset="58.2%" stop-color="#fdea23"/><stop offset="59.3%" stop-color="#fceb25"/><stop offset="60.4%" stop-color="#fbeb27"/><stop offset="61.5%" stop-color="#fde920"/><stop offset="62.6%" stop-color="#faed2d"/><stop offset="63.7%" stop-color="#faec2c"/><stop offset="64.8%" stop-color="#f9ed31"/><stop offset="65.9%" stop-color="#f6ef39"/><stop offset="67.0%" stop-color="#f9ed2f"/><stop offset="68.1%" stop-color="#f4f141"/><stop offset="69.2%" stop-color="#f5f03d"/><stop offset="70.3%" stop-color="#f4f140"/><stop offset="71.4%" stop-color="#f5f13e"/><stop offset="72.5%" stop-color="#f4f141"/><stop offset="73.6%" stop-color="#f5f13e"/><stop offset="74.7%" stop-color="#f2f347"/><stop offset="75.8%" stop-color="#f3f243"/><stop offset="76.9%" stop-color="#f3f246"/><stop offset="78.0%" stop-color="#f4f242"/><stop offset="79.1%" stop-color="#f4f243"/><stop offset="80.2%" stop-color="#f3f244"/><stop offset="81.3%" stop-color="#f1f44b"/><stop offset="82.4%" stop-color="#f2f347"/><stop offset="83.5%" stop-color="#f2f34a"/><stop offset="84.6%" stop-color="#f0f44e"/><stop offset="85.7%" stop-color="#f2f347"/><stop offset="86.8%" stop-color="#f0f54f"/><stop offset="87.9%" stop-color="#f4f242"/><stop offset="89.0%" stop-color="#f1f44a"/><stop offset="90.1%" stop-color="#f4f140"/><stop offset="91.2%" stop-color="#f3f245"/><stop offset="92.3%" stop-color="#f1f44c"/><stop offset="93.4%" stop-color="#f2f349"/><stop offset="94.5%" stop-color="#f3f346"/><stop offset="95.6%" stop-color="#f1f44d"/><stop offset="96.7%" stop-color="#f4f243"/><stop offset="97.8%" stop-color="#f3f243"/><stop offset="98.9%" stop-color="#f3f346"/><stop offset="100.0%" stop-color="#f2f349"/></linearGradient>
<linearGradient id="a9"><stop offset="0.0%" stop-color="#f5f13e"/><stop offset="1.1%" stop-color="#f3f244"/><stop offset="2.2%" stop-color="#f3f245"/><stop offset="3.3%" stop-color="#f1f44d"/><stop offset="4.4%" stop-color="#f3f244"/><stop offset="5.5%" stop-color="#f3f245"/><stop offset="6.6%" stop-color="#f5f13e"/><stop offset="7.7%" stop-color="#f4f140"/><stop offset="8.8%" stop-color="#f3f346"/><stop offset="9.9%" stop-color="#f5f03d"/><stop offset="11.0%" stop-color="#f5f13e"/><stop offset="12.1%" stop-color="#f3f244"/><stop offset="13.2%" stop-color="#f3f243"/><stop offset="14.3%" stop-color="#f4f242"/><stop offset="15.4%" stop-color="#f4f242"/><stop offset="16.5%" stop-color="#f4f141"/><stop offset="17.6%" stop-color="#f5f13f"/><stop offset="18.7%" stop-color="#f6f03c"/><stop offset="19.8%" stop-color="#f7ef37"/><stop offset="20.9%" stop-color="#f2f347"/><stop offset="22.0%" stop-color="#f7ef36"/><stop offset="23.1%" stop-color="#f5f03c"/><stop offset="24.2%" stop-color="#f6f03a"/><stop offset="25.3%" stop-color="#f3f244"/><stop offset="26.4%" stop-color="#f5f13f"/><stop offset="27.5%" stop-color="#f5f13e"/><stop offset="28.6%" stop-color="#f6f03b"/><stop offset="29.7%" stop-color="#f5f03d"/><stop offset="30.8%" stop-color="#f5f13e"/><stop offset="31.9%" stop-color="#f4f242"/><stop offset="33.0%" stop-color="#f4f243"/><stop offset="34.1%" stop-color="#f5f13e"/><stop offset="35.2%" stop-color="#f6f03b"/><stop offset="36.3%" stop-color="#f4f140"/><stop offset="37.4%" stop-color="#f4f141"/><stop offset="38.5%" stop-color="#f5f13f"/><stop offset="39.6%" stop-color="#f1f44b"/><stop offset="40.7%" stop-color="#f4f243"/><stop offset="41.8%" stop-color="#f5f03c"/><stop offset="42.9%" stop-color="#f3f245"/><stop offset="44.0%" stop-color="#f5f13f"/><stop offset="45.1%" stop-color="#f4f141"/><stop offset="46.2%" stop-color="#f5f03c"/><stop offset="47.3%" stop-color="#f6f03c"/><stop offset="48.4%" stop-color="#f4f141"/><stop offset="49.5%" stop-color="#f5f13e"/><stop offset="50.5%" stop-color="#f4f140"/><stop offset="51.6%" stop-color="#f7ef37"/><stop offset="52.7%" stop-color="#f6f03c"/><stop offset="53.8%" stop-color="#f4f140"/><stop offset="54.9%" stop-color="#f6f03b"/><stop offset="56.0%" stop-color="#f4f140"/><stop offset="57.1%" stop-color="#f6f03b"/><stop offset="58.2%" stop-color="#f6f03b"/><stop offset="59.3%" stop-color="#f4f140"/><stop offset="60.4%" stop-color="#f5f13f"/><stop offset="61.5%" stop-color="#f7ef37"/><stop offset="62.6%" stop-color="#f5f13e"/><stop offset="63.7%" stop-color="#f7ef38"/><stop offset="64.8%" stop-color="#fbec2a"/><stop offset="65.9%" stop-color="#f8ee34"/><stop offset="67.0%" stop-color="#f9ed2e"/><stop offset="68.1%" stop-color="#f9ed2e"/><stop offset="69.2%" stop-color="#fdea21"/><stop offset="70.3%" stop-color="#fcea23"/><stop offset="71.4%" stop-color="#fdea20"/><stop offset="72.5%" stop-color="#ffe719"/><stop offset="73.6%" stop-color="#fee91e"/><stop offset="74.7%" stop-color="#fdea20"/><stop offset="75.8%" stop-color="#fee91d"/><stop offset="76.9%" stop-color="#ffe81a"/><stop offset="78.0%" stop-color="#ffe81c"/><stop offset="79.1%" stop-color="#fdea23"/><stop offset="80.2%" stop-color="#ffe719"/><stop offset="81.3%" stop-color="#fbeb27"/><stop offset="82.4%" stop-color="#fbec29"/><stop offset="83.5%" stop-color="#fceb25"/><stop offset="84.6%" stop-color="#faec2b"/><stop offset="85.7%" stop-color="#f8ee32"/><stop offset="86.8%" stop-color="#f3f244"/><stop offset="87.9%" stop-color="#f7ef38"/><stop offset="89.0%" stop-color="#f8ee35"/><stop offset="90.1%" stop-color="#f5f03d"/><stop offset="91.2%" stop-color="#f5f13e"/><stop offset="92.3%" stop-color="#f3f346"/><stop offset="93.4%" stop-color="#f6f03b"/><stop offset="94.5%" stop-color="#f5f13f"/><stop offset="95.6%" stop-color="#f3f245"/><stop offset="96.7%" stop-color="#f5f03d"/><stop offset="97.8%" stop-color="#f3f244"/><stop offset="98.9%" stop-color="#f3f246"/><stop offset="100.0%" stop-color="#f4f242"/></linearGradient>
<linearGradient id="a10"><stop offset="0.0%" stop-color="#ffdf14"/><stop offset="1.1%" stop-color="#ffe518"/><stop offset="2.2%" stop-color="#ffe216"/><stop offset="3.3%" stop-color="#ffe619"/><stop offset="4.4%" stop-color="#ffe81c"/><stop offset="5.5%" stop-color="#ffe81b"/><stop offset="6.6%" stop-color="#fceb26"/><stop offset="7.7%" stop-color="#fceb26"/><stop offset="8.8%" stop-color="#fdea20"/><stop offset="9.9%" stop-color="#fee91e"/><stop offset="11.0%" stop-color="#fceb25"/><stop offset="12.1%" stop-color="#fceb25"/><stop offset="13.2%" stop-color="#faec2d"/><stop offset="14.3%" stop-color="#fbeb27"/><stop offset="15.4%" stop-color="#fbec29"/><stop offset="16.5%" stop-color="#faec2a"/><stop offset="17.6%" stop-color="#fceb26"/><stop offset="18.7%" stop-color="#faec2d"/><stop offset="19.8%" stop-color="#f9ed30"/><stop offset="20.9%" stop-color="#faec2b"/><stop offset="22.0%" stop-color="#faec2d"/><stop offset="23.1%" stop-color="#fdea22"/><stop offset="24.2%" stop-color="#fbeb27"/><stop offset="25.3%" stop-color="#faec2d"/><stop offset="26.4%" stop-color="#fbec2a"/><stop offset="27.5%" stop-color="#fdea23"/><stop offset="28.6%" stop-color="#fdea20"/><stop offset="29.7%" stop-color="#fbeb28"/><stop offset="30.8%" stop-color="#fbeb28"/><stop offset="31.9%" stop-color="#fbeb28"/><stop offset="33.0%" stop-color="#faec2c"/><stop offset="34.1%" stop-color="#fbeb28"/><stop offset="35.2%" stop-color="#fbeb28"/><stop offset="36.3%" stop-color="#fbeb27"/><stop offset="37.4%" stop-color="#faed2d"/><stop offset="38.5%" stop-color="#f9ed2e"/><stop offset="39.6%" stop-color="#f7ef36"/><stop offset="40.7%" stop-color="#fbec29"/><stop offset="41.8%" stop-color="#fceb26"/><stop offset="42.9%" stop-color="#fbeb29"/><stop offset="44.0%" stop-color="#faec2d"/><stop offset="45.1%" stop-color="#f9ed2e"/><stop offset="46.2%" stop-color="#fbeb27"/><stop offset="47.3%" stop-color="#fbec2a"/><stop offset="48.4%" stop-color="#f9ed2f"/><stop offset="49.5%" stop-color="#fceb25"/><stop offset="50.5%" stop-color="#fceb25"/><stop offset="51.6%" stop-color="#fdea22"/><stop offset="52.7%" stop-color="#fbeb28"/><stop offset="53.8%" stop-color="#fcea23"/><stop offset="54.9%" stop-color="#fbeb29"/><stop offset="56.0%" stop-color="#f9ed2f"/><stop offset="57.1%" stop-color="#fbec29"/><stop offset="58.2%" stop-color="#faec2b"/><stop offset="59.3%" stop-color="#fbeb27"/><stop offset="60.4%" stop-color="#f9ed2f"/><stop offset="61.5%" stop-color="#f9ed2f"/><stop offset="62.6%" stop-color="#faec2c"/><stop offset="63.7%" stop-color="#fcea23"/><stop offset="64.8%" stop-color="#fdea23"/><stop offset="65.9%" stop-color="#fbec29"/><stop offset="67.0%" stop-color="#f9ed2f"/><stop offset="68.1%" stop-color="#f9ed2e"/><stop offset="69.2%" stop-color="#fbec2a"/><stop offset="70.3%" stop-color="#f9ed2e"/><stop offset="71.4%" stop-color="#f8ee34"/><stop offset="72.5%" stop-color="#fbeb27"/><stop offset="73.6%" stop-color="#fceb25"/><stop offset="74.7%" stop-color="#f8ee31"/><stop offset="75.8%" stop-color="#fbec29"/><stop offset="76.9%" stop-color="#fdea22"/><stop offset="78.0%" stop-color="#fbeb28"/><stop offset="79.1%" stop-color="#fee91e"/><stop offset="80.2%" stop-color="#fcea23"/><stop offset="81.3%" stop-color="#fde920"/><stop offset="82.4%" stop-color="#fdea21"/><stop offset="83.5%" stop-color="#fee81c"/><stop offset="84.6%" stop-color="#ffe619"/><stop offset="85.7%" stop-color="#ffe81a"/><stop offset="86.8%" stop-color="#ffe81b"/><stop offset="87.9%" stop-color="#ffe116"/><stop offset="89.0%" stop-color="#ffe317"/><stop offset="90.1%" stop-color="#ffdf15"/><stop offset="91.2%" stop-color="#ffdd13"/><stop offset="92.3%" stop-color="#ffde14"/><stop offset="93.4%" stop-color="#ffde14"/><stop offset="94.5%" stop-color="#ffdd13"/><stop offset="95.6%" stop-color="#ffdd13"/><stop offset="96.7%" stop-color="#ffdf15"/><stop offset="97.8%" stop-color="#ffe317"/><stop offset="98.9%" stop-color="#ffde14"/><stop offset="100.0%" stop-color="#ffe116"/></linearGradient>
<linearGradient id="a11"><stop offset="0.0%" stop-color="#f7ef36"/><stop offset="1.1%" stop-color="#f5f03d"/><stop offset="2.2%" stop-color="#f9ed2f"/><stop offset="3.3%" stop-color="#f8ee34"/><stop offset="4.4%" stop-color="#faec2c"/><stop offset="5.5%" stop-color="#faec2b"/><stop offset="6.6%" stop-color="#faec2b"/><stop offset="7.7%" stop-color="#fbec2a"/><stop offset="8.8%" stop-color="#fdea21"/><stop offset="9.9%" stop-color="#ffe317"/><stop offset="11.0%" stop-color="#fee91d"/><stop offset="12.1%" stop-color="#ffe518"/><stop offset="13.2%" stop-color="#ffe418"/><stop offset="14.3%" stop-color="#ffe417"/><stop offset="15.4%" stop-color="#ffe518"/><stop offset="16.5%" stop-color="#ffe518"/><stop offset="17.6%" stop-color="#ffe417"/><stop offset="18.7%" stop-color="#ffe216"/><stop offset="19.8%" stop-color="#ffe116"/><stop offset="20.9%" stop-color="#ffe317"/><stop offset="22.0%" stop-color="#ffe418"/><stop offset="23.1%" stop-color="#ffe418"/><stop offset="24.2%" stop-color="#fee91c"/><stop offset="25.3%" stop-color="#fceb25"/><stop offset="26.4%" stop-color="#fdea22"/><stop offset="27.5%" stop-color="#fdea23"/><stop offset="28.6%" stop-color="#fcea24"/><stop offset="29.7%" stop-color="#f8ee32"/><stop offset="30.8%" stop-color="#f9ed30"/><stop offset="31.9%" stop-color="#f8ee33"/><stop offset="33.0%" stop-color="#f8ee32"/><stop offset="34.1%" stop-color="#f7ef37"/><stop offset="35.2%" stop-color="#f8ee31"/><stop offset="36.3%" stop-color="#f9ed31"/><stop offset="37.4%" stop-color="#f8ee33"/><stop offset="38.5%" stop-color="#faed2d"/><stop offset="39.6%" stop-color="#f5f13f"/><stop offset="40.7%" stop-color="#f6f03b"/><stop offset="41.8%" stop-color="#f8ee33"/><stop offset="42.9%" stop-color="#f8ee33"/><stop offset="44.0%" stop-color="#f9ed2e"/><stop offset="45.1%" stop-color="#f8ee32"/><stop offset="46.2%" stop-color="#f8ee34"/><stop offset="47.3%" stop-color="#f7ef37"/><stop offset="48.4%" stop-color="#f6f03a"/><stop offset="49.5%" stop-color="#f7ef37"/><stop offset="50.5%" stop-color="#f9ed30"/><stop offset="51.6%" stop-color="#f7ef35"/><stop offset="52.7%" stop-color="#faed2d"/><stop offset="53.8%" stop-color="#f6ef38"/><stop offset="54.9%" stop-color="#f7ef37"/><stop offset="56.0%" stop-color="#f8ee33"/><stop offset="57.1%" stop-color="#f7ef36"/><stop offset="58.2%" stop-color="#f7ef38"/><stop offset="59.3%" stop-color="#f6f03b"/><stop offset="60.4%" stop-color="#f6f039"/><stop offset="61.5%" stop-color="#f9ed2e"/><stop offset="62.6%" stop-color="#f6ef39"/><stop offset="63.7%" stop-color="#f8ee31"/><stop offset="64.8%" stop-color="#f7ef36"/><stop offset="65.9%" stop-color="#f7ef35"/><stop offset="67.0%" stop-color="#f8ee34"/><stop offset="68.1%" stop-color="#f6f03b"/><stop offset="69.2%" stop-color="#f7ee35"/><stop offset="70.3%" stop-color="#f6ef39"/><stop offset="71.4%" stop-color="#f8ee32"/><stop offset="72.5%" stop-color="#f8ee33"/><stop offset="73.6%" stop-color="#f9ed30"/><stop offset="74.7%" stop-color="#f8ee32"/><stop offset="75.8%" stop-color="#f6ef39"/><stop offset="76.9%" stop-color="#f6ef39"/><stop offset="78.0%" stop-color="#f8ee32"/><stop offset="79.1%" stop-color="#f9ed2f"/><stop offset="80.2%" stop-color="#f7ef38"/><stop offset="81.3%" stop-color="#f8ee33"/><stop offset="82.4%" stop-color="#f6ef38"/><stop offset="83.5%" stop-color="#f9ed2f"/><stop offset="84.6%" stop-color="#f7ef36"/><stop offset="85.7%" stop-color="#f8ee32"/><stop offset="86.8%" stop-color="#f5f03d"/><stop offset="87.9%" stop-color="#f8ee34"/><stop offset="89.0%" stop-color="#f8ee33"/><stop offset="90.1%" stop-color="#f7ee35"/><stop offset="91.2%" stop-color="#f9ed2f"/><stop offset="92.3%" stop-color="#f8ee34"/><stop offset="93.4%" stop-color="#f7ef38"/><stop offset="94.5%" stop-color="#f7ef35"/><stop offset="95.6%" stop-color="#f7ef38"/><stop offset="96.7%" stop-color="#f7ef37"/><stop offset="97.8%" stop-color="#f6f03b"/><stop offset="98.9%" stop-color="#f7ef38"/><stop offset="100.0%" stop-color="#f7ee35"/></linearGradient>
<linearGradient id="a12"><stop offset="0.0%" stop-color="#f5f13f"/><stop offset="1.1%" stop-color="#f3f346"/><stop offset="2.2%" stop-color="#f4f141"/><stop offset="3.3%" stop-color="#f5f13e"/><stop offset="4.4%" stop-color="#f4f140"/><stop offset="5.5%" stop-color="#f3f245"/><stop offset="6.6%" stop-color="#f4f242"/><stop offset="7.7%" stop-color="#f4f140"/><stop offset="8.8%" stop-color="#f2f348"/><stop offset="9.9%" stop-color="#f6f03b"/><stop offset="11.0%" stop-color="#f5f13f"/><stop offset="12.1%" stop-color="#f3f244"/><stop offset="13.2%" stop-color="#f4f141"/><stop offset="14.3%" stop-color="#f3f244"/><stop offset="15.4%" stop-color="#f3f244"/><stop offset="16.5%" stop-color="#f3f346"/><stop offset="17.6%" stop-color="#f4f141"/><stop offset="18.7%" stop-color="#f3f346"/><stop offset="19.8%" stop-color="#f5f13f"/><stop offset="20.9%" stop-color="#f1f44b"/><stop offset="22.0%" stop-color="#f4f242"/><stop offset="23.1%" stop-color="#f6f03b"/><stop offset="24.2%" stop-color="#f4f13f"/><stop offset="25.3%" stop-color="#f3f244"/><stop offset="26.4%" stop-color="#f4f140"/><stop offset="27.5%" stop-color="#f4f243"/><stop offset="28.6%" stop-color="#f5f13e"/><stop offset="29.7%" stop-color="#f4f140"/><stop offset="30.8%" stop-color="#f5f03d"/><stop offset="31.9%" stop-color="#f8ee33"/><stop offset="33.0%" stop-color="#f5f03c"/><stop offset="34.1%" stop-color="#f9ed30"/><stop offset="35.2%" stop-color="#f8ee34"/><stop offset="36.3%" stop-color="#f9ed2f"/><stop offset="37.4%" stop-color="#fbec29"/><stop offset="38.5%" stop-color="#fde920"/><stop offset="39.6%" stop-color="#faec2c"/><stop offset="40.7%" stop-color="#fbeb27"/><stop offset="41.8%" stop-color="#fde91f"/><stop offset="42.9%" stop-color="#fdea22"/><stop offset="44.0%" stop-color="#fdea21"/><stop offset="45.1%" stop-color="#fdea21"/><stop offset="46.2%" stop-color="#fcea24"/><stop offset="47.3%" stop-color="#fcea24"/><stop offset="48.4%" stop-color="#fdea22"/><stop offset="49.5%" stop-color="#f9ed2e"/><stop offset="50.5%" stop-color="#fde91f"/><stop offset="51.6%" stop-color="#faed2e"/><stop offset="52.7%" stop-color="#f8ee33"/><stop offset="53.8%" stop-color="#f9ed30"/><stop offset="54.9%" stop-color="#f6ef39"/><stop offset="56.0%" stop-color="#f8ee34"/><stop offset="57.1%" stop-color="#f7ef37"/><stop offset="58.2%" stop-color="#f5f13f"/><stop offset="59.3%" stop-color="#f4f242"/><stop offset="60.4%" stop-color="#f3f245"/><stop offset="61.5%" stop-color="#f3f243"/><stop offset="62.6%" stop-color="#f3f346"/><stop offset="63.7%" stop-color="#f3f244"/><stop offset="64.8%" stop-color="#f5f03c"/><stop offset="65.9%" stop-color="#f2f348"/><stop offset="67.0%" stop-color="#f3f244"/><stop offset="68.1%" stop-color="#f4f242"/><stop offset="69.2%" stop-color="#f2f34a"/><stop offset="70.3%" stop-color="#f1f44c"/><stop offset="71.4%" stop-color="#f3f244"/><stop offset="72.5%" stop-color="#f4f242"/><stop offset="73.6%" stop-color="#f4f141"/><stop offset="74.7%" stop-color="#f2f347"/><stop offset="75.8%" stop-color="#f2f348"/><stop offset="76.9%" stop-color="#f3f244"/><stop offset="78.0%" stop-color="#f1f44b"/><stop offset="79.1%" stop-color="#f2f348"/><stop offset="80.2%" stop-color="#f4f242"/><stop offset="81.3%" stop-color="#f2f347"/><stop offset="82.4%" stop-color="#f2f349"/><stop offset="83.5%" stop-color="#f6f03b"/><stop offset="84.6%" stop-color="#f4f140"/><stop offset="85.7%" stop-color="#f2f347"/><stop offset="86.8%" stop-color="#f1f44a"/><stop offset="87.9%" stop-color="#f4f141"/><stop offset="89.0%" stop-color="#f3f346"/><stop offset="90.1%" stop-color="#f4f140"/><stop offset="91.2%" stop-color="#f4f141"/><stop offset="92.3%" stop-color="#f4f243"/><stop offset="93.4%" stop-color="#f4f243"/><stop offset="94.5%" stop-color="#f3f243"/><stop offset="95.6%" stop-color="#f5f13f"/><stop offset="96.7%" stop-color="#f6f03b"/><stop offset="97.8%" stop-color="#f0f44e"/><stop offset="98.9%" stop-color="#f4f242"/><stop offset="100.0%" stop-color="#f2f349"/></linearGradient>
<linearGradient id="a13"><stop offset="0.0%" stop-color="#f4f141"/><stop offset="1.1%" stop-color="#f3f243"/><stop offset="2.2%" stop-color="#f4f242"/><stop offset="3.3%" stop-color="#f4f243"/><stop offset="4.4%" stop-color="#f5f03d"/><stop offset="5.5%" stop-color="#f3f243"/><stop offset="6.6%" stop-color="#f2f348"/><stop offset="7.7%" stop-color="#f4f140"/><stop offset="8.8%" stop-color="#f5f03d"/><stop offset="9.9%" stop-color="#f7ef37"/><stop offset="11.0%" stop-color="#f3f246"/><stop offset="12.1%" stop-color="#f3f244"/><stop offset="13.2%" stop-color="#f4f141"/><stop offset="14.3%" stop-color="#f6f03a"/><stop offset="15.4%" stop-color="#f5f13f"/><stop offset="16.5%" stop-color="#f5f13e"/><stop offset="17.6%" stop-color="#f6f03a"/><stop offset="18.7%" stop-color="#f4f242"/><stop offset="19.8%" stop-color="#f5f03c"/><stop offset="20.9%" stop-color="#f5f13f"/><stop offset="22.0%" stop-color="#f3f244"/><stop offset="23.1%" stop-color="#f5f03d"/><stop offset="24.2%" stop-color="#f5f03d"/><stop offset="25.3%" stop-color="#f3f246"/><stop offset="26.4%" stop-color="#f5f13e"/><stop offset="27.5%" stop-color="#f5f03c"/><stop offset="28.6%" stop-color="#f7ef38"/><stop offset="29.7%" stop-color="#f3f244"/><stop offset="30.8%" stop-color="#f4f140"/><stop offset="31.9%" stop-color="#f6ef38"/><stop offset="33.0%" stop-color="#f5f13f"/><stop offset="34.1%" stop-color="#f3f244"/><stop offset="35.2%" stop-color="#f5f03d"/><stop offset="36.3%" stop-color="#f6f039"/><stop offset="37.4%" stop-color="#f4f140"/><stop offset="38.5%" stop-color="#f5f03d"/><stop offset="39.6%" stop-color="#f5f03d"/><stop offset="40.7%" stop-color="#f5f13e"/><stop offset="41.8%" stop-color="#f4f243"/><stop offset="42.9%" stop-color="#f2f348"/><stop offset="44.0%" stop-color="#f4f242"/><stop offset="45.1%" stop-color="#f6ef39"/><stop offset="46.2%" stop-color="#f4f242"/><stop offset="47.3%" stop-color="#f2f347"/><stop offset="48.4%" stop-color="#f3f244"/><stop offset="49.5%" stop-color="#f4f140"/><stop offset="50.5%" stop-color="#f6f03a"/><stop offset="51.6%" stop-color="#f4f141"/><stop offset="52.7%" stop-color="#f5f03d"/><stop offset="53.8%" stop-color="#f5f13f"/><stop offset="54.9%" stop-color="#f5f13e"/><stop offset="56.0%" stop-color="#f5f13f"/><stop offset="57.1%" stop-color="#f6f03a"/><stop offset="58.2%" stop-color="#f5f03d"/><stop offset="59.3%" stop-color="#f5f03d"/><stop offset="60.4%" stop-color="#f6f03a"/><stop offset="61.5%" stop-color="#f5f03c"/><stop offset="62.6%" stop-color="#f6f03a"/><stop offset="63.7%" stop-color="#f9ed2f"/><stop offset="64.8%" stop-color="#faec2a"/><stop offset="65.9%" stop-color="#f9ed30"/><stop offset="67.0%" stop-color="#fbec29"/><stop offset="68.1%" stop-color="#fbeb27"/><stop offset="69.2%" stop-color="#fcea23"/><stop offset="70.3%" stop-color="#fceb25"/><stop offset="71.4%" stop-color="#fee91d"/><stop offset="72.5%" stop-color="#ffe71a"/><stop offset="73.6%" stop-color="#ffe81c"/><stop offset="74.7%" stop-color="#fdea20"/><stop offset="75.8%" stop-color="#fcea24"/><stop offset="76.9%" stop-color="#ffe71a"/><stop offset="78.0%" stop-color="#fdea22"/><stop offset="79.1%" stop-color="#fee91d"/><stop offset="80.2%" stop-color="#faec2c"/><stop offset="81.3%" stop-color="#fbeb28"/><stop offset="82.4%" stop-color="#faec2d"/><stop offset="83.5%" stop-color="#fbeb28"/><stop offset="84.6%" stop-color="#f7ef38"/><stop offset="85.7%" stop-color="#f8ee33"/><stop offset="86.8%" stop-color="#f5f03c"/><stop offset="87.9%" stop-color="#f6ef39"/><stop offset="89.0%" stop-color="#f7ef38"/><stop offset="90.1%" stop-color="#f5f03c"/><stop offset="91.2%" stop-color="#f5f03c"/><stop offset="92.3%" stop-color="#f4f141"/><stop offset="93.4%" stop-color="#f4f140"/><stop offset="94.5%" stop-color="#f4f141"/><stop offset="95.6%" stop-color="#f4f242"/><stop offset="96.7%" stop-color="#f4f141"/><stop offset="97.8%" stop-color="#f3f246"/><stop offset="98.9%" stop-color="#f4f140"/><stop offset="100.0%" stop-color="#f5f03c"/></linearGradient>
<linearGradient id="a14"><stop offset="0.0%" stop-color="#ffe317"/><stop offset="1.1%" stop-color="#ffe418"/><stop offset="2.2%" stop-color="#ffe216"/><stop offset="3.3%" stop-color="#ffe317"/><stop offset="4.4%" stop-color="#ffdf14"/><stop offset="5.5%" stop-color="#ffe015"/><stop offset="6.6%" stop-color="#ffde14"/><stop offset="7.7%" stop-color="#ffda11"/><stop offset="8.8%" stop-color="#ffdc13"/><stop offset="9.9%" stop-color="#ffd710"/><stop offset="11.0%" stop-color="#ffd60f"/><stop offset="12.1%" stop-color="#ffdb12"/><stop offset="13.2%" stop-color="#ffdb12"/><stop offset="14.3%" stop-color="#ffdc13"/><stop offset="15.4%" stop-color="#ffdf15"/><stop offset="16.5%" stop-color="#ffe015"/><stop offset="17.6%" stop-color="#ffe015"/><stop offset="18.7%" stop-color="#ffe719"/><stop offset="19.8%" stop-color="#ffe015"/><stop offset="20.9%" stop-color="#ffe71a"/><stop offset="22.0%" stop-color="#ffe81b"/><stop offset="23.1%" stop-color="#ffe518"/><stop offset="24.2%" stop-color="#ffe81a"/><stop offset="25.3%" stop-color="#fcea23"/><stop offset="26.4%" stop-color="#fee91e"/><stop offset="27.5%" stop-color="#fdea22"/><stop offset="28.6%" stop-color="#fee91e"/><stop offset="29.7%" stop-color="#fbeb27"/><stop offset="30.8%" stop-color="#fceb25"/><stop offset="31.9%" stop-color="#fee91d"/><stop offset="33.0%" stop-color="#fcea23"/><stop offset="34.1%" stop-color="#fdea21"/><stop offset="35.2%" stop-color="#fee81c"/><stop offset="36.3%" stop-color="#fdea21"/><stop offset="37.4%" stop-color="#fcea24"/><stop offset="38.5%" stop-color="#fdea21"/><stop offset="39.6%" stop-color="#fdea22"/><stop offset="40.7%" stop-color="#fee91f"/><stop offset="41.8%" stop-color="#fdea23"/><stop offset="42.9%" stop-color="#fceb26"/><stop offset="44.0%" stop-color="#fde920"/><stop offset="45.1%" stop-color="#fee91e"/><stop offset="46.2%" stop-color="#fdea23"/><stop offset="47.3%" stop-color="#fceb25"/><stop offset="48.4%" stop-color="#fceb25"/><stop offset="49.5%" stop-color="#fceb25"/><stop offset="50.5%" stop-color="#fee91d"/><stop offset="51.6%" stop-color="#fee91d"/><stop offset="52.7%" stop-color="#fee91e"/><stop offset="53.8%" stop-color="#fee91f"/><stop offset="54.9%" stop-color="#fceb25"/><stop offset="56.0%" stop-color="#fdea21"/><stop offset="57.1%" stop-color="#fee91e"/><stop offset="58.2%" stop-color="#fceb26"/><stop offset="59.3%" stop-color="#fee91f"/><stop offset="60.4%" stop-color="#fdea21"/><stop offset="61.5%" stop-color="#ffe81b"/><stop offset="62.6%" stop-color="#faec2c"/><stop offset="63.7%" stop-color="#fceb25"/><stop offset="64.8%" stop-color="#fee91e"/><stop offset="65.9%" stop-color="#faec2d"/><stop offset="67.0%" stop-color="#fceb24"/><stop offset="68.1%" stop-color="#fbeb28"/><stop offset="69.2%" stop-color="#fcea24"/><stop offset="70.3%" stop-color="#f9ed2e"/><stop offset="71.4%" stop-color="#fceb25"/><stop offset="72.5%" stop-color="#fee91c"/><stop offset="73.6%" stop-color="#fee91d"/><stop offset="74.7%" stop-color="#fceb25"/><stop offset="75.8%" stop-color="#fcea24"/><stop offset="76.9%" stop-color="#ffe81b"/><stop offset="78.0%" stop-color="#fdea21"/><stop offset="79.1%" stop-color="#ffe81a"/><stop offset="80.2%" stop-color="#faec2b"/><stop offset="81.3%" stop-color="#fde920"/><stop offset="82.4%" stop-color="#fbeb29"/><stop offset="83.5%" stop-color="#fee91d"/><stop offset="84.6%" stop-color="#fdea21"/><stop offset="85.7%" stop-color="#fbeb27"/><stop offset="86.8%" stop-color="#fceb25"/><stop offset="87.9%" stop-color="#ffe81a"/><stop offset="89.0%" stop-color="#fee91d"/><stop offset="90.1%" stop-color="#fee91d"/><stop offset="91.2%" stop-color="#fdea21"/><stop offset="92.3%" stop-color="#fdea22"/><stop offset="93.4%" stop-color="#fceb25"/><stop offset="94.5%" stop-color="#fde91f"/><stop offset="95.6%" stop-color="#ffe81a"/><stop offset="96.7%" stop-color="#ffe619"/><stop offset="97.8%" stop-color="#fee91c"/><stop offset="98.9%" stop-color="#fee91c"/><stop offset="100.0%" stop-color="#ffe518"/></linearGradient>
<linearGradient id="a15"><stop offset="0.0%" stop-color="#f5f03d"/><stop offset="1.1%" stop-color="#f0f44e"/><stop offset="2.2%" stop-color="#f3f346"/><stop offset="3.3%" stop-color="#f3f243"/><stop offset="4.4%" stop-color="#f3f245"/><stop offset="5.5%" stop-color="#f6f03a"/><stop offset="6.6%" stop-color="#f3f245"/><stop offset="7.7%" stop-color="#f3f245"/><stop offset="8.8%" stop-color="#f3f244"/><stop offset="9.9%" stop-color="#f8ee33"/><stop offset="11.0%" stop-color="#f3f244"/><stop offset="12.1%" stop-color="#f5f13e"/><stop offset="13.2%" stop-color="#f5f13f"/><stop offset="14.3%" stop-color="#f5f03c"/><stop offset="15.4%" stop-color="#f4f141"/><stop offset="16.5%" stop-color="#f4f243"/><stop offset="17.6%" stop-color="#f5f03d"/><stop offset="18.7%" stop-color="#f4f141"/><stop offset="19.8%" stop-color="#f6f03a"/><stop offset="20.9%" stop-color="#f4f141"/><stop offset="22.0%" stop-color="#f6ef39"/><stop offset="23.1%" stop-color="#f5f03d"/><stop offset="24.2%" stop-color="#f5f03d"/><stop offset="25.3%" stop-color="#f3f244"/><stop offset="26.4%" stop-color="#f4f140"/><stop offset="27.5%" stop-color="#f5f13f"/><stop offset="28.6%" stop-color="#f6f03b"/><stop offset="29.7%" stop-color="#f5f03d"/><stop offset="30.8%" stop-color="#f4f243"/><stop offset="31.9%" stop-color="#f4f141"/><stop offset="33.0%" stop-color="#f5f03d"/><stop offset="34.1%" stop-color="#f4f141"/><stop offset="35.2%" stop-color="#f5f13f"/><stop offset="36.3%" stop-color="#f7ef38"/><stop offset="37.4%" stop-color="#f6f03a"/><stop offset="38.5%" stop-color="#f3f245"/><stop offset="39.6%" stop-color="#f4f242"/><stop offset="40.7%" stop-color="#f8ee33"/><stop offset="41.8%" stop-color="#f7ee35"/><stop offset="42.9%" stop-color="#f6ef39"/><stop offset="44.0%" stop-color="#fbec2a"/><stop offset="45.1%" stop-color="#f9ed2e"/><stop offset="46.2%" stop-color="#faec2b"/><stop offset="47.3%" stop-color="#fbeb28"/><stop offset="48.4%" stop-color="#fdea23"/><stop offset="49.5%" stop-color="#fee91d"/><stop offset="50.5%" stop-color="#ffe619"/><stop offset="51.6%" stop-color="#ffe81a"/><stop offset="52.7%" stop-color="#ffe518"/><stop offset="53.8%" stop-color="#ffe81a"/><stop offset="54.9%" stop-color="#fee81c"/><stop offset="56.0%" stop-color="#ffe719"/><stop offset="57.1%" stop-color="#fee91c"/><stop offset="58.2%" stop-color="#ffe81b"/><stop offset="59.3%" stop-color="#fceb26"/><stop offset="60.4%" stop-color="#faec2a"/><stop offset="61.5%" stop-color="#faec2b"/><stop offset="62.6%" stop-color="#f8ee33"/><stop offset="63.7%" stop-color="#f8ee31"/><stop offset="64.8%" stop-color="#f8ee33"/><stop offset="65.9%" stop-color="#f7ef38"/><stop offset="67.0%" stop-color="#f8ee34"/><stop offset="68.1%" stop-color="#f5f03d"/><stop offset="69.2%" stop-color="#f7ef38"/><stop offset="70.3%" stop-color="#f5f13f"/><stop offset="71.4%" stop-color="#f3f245"/><stop offset="72.5%" stop-color="#f3f243"/><stop offset="73.6%" stop-color="#f7ef36"/><stop offset="74.7%" stop-color="#f4f13f"/><stop offset="75.8%" stop-color="#f4f141"/><stop offset="76.9%" stop-color="#f5f13e"/><stop offset="78.0%" stop-color="#f3f245"/><stop offset="79.1%" stop-color="#f4f242"/><stop offset="80.2%" stop-color="#f4f242"/><stop offset="81.3%" stop-color="#f3f245"/><stop offset="82.4%" stop-color="#f5f13f"/><stop offset="83.5%" stop-color="#f4f140"/><stop offset="84.6%" stop-color="#f5f13f"/><stop offset="85.7%" stop-color="#f6f03a"/><stop offset="86.8%" stop-color="#f5f03d"/><stop offset="87.9%" stop-color="#f5f03d"/><stop offset="89.0%" stop-color="#f6f03a"/><stop offset="90.1%" stop-color="#f4f243"/><stop offset="91.2%" stop-color="#f4f140"/><stop offset="92.3%" stop-color="#f5f13e"/><stop offset="93.4%" stop-color="#f5f03c"/><stop offset="94.5%" stop-color="#f3f244"/><stop offset="95.6%" stop-color="#f4f140"/><stop offset="96.7%" stop-color="#f5f03d"/><stop offset="97.8%" stop-color="#f2f349"/><stop offset="98.9%" stop-color="#f4f242"/><stop offset="100.0%" stop-color="#f6f03b"/></linearGradient>
<linearGradient id="a16"><stop offset="0.0%" stop-color="#ffdd13"/><stop offset="1.1%" stop-color="#ffdf15"/><stop offset="2.2%" stop-color="#ffda12"/><stop offset="3.3%" stop-color="#ffdd13"/><stop offset="4.4%" stop-color="#ffd911"/><stop offset="5.5%" stop-color="#ffd810"/><stop offset="6.6%" stop-color="#ffda11"/><stop offset="7.7%" stop-color="#ffd911"/><stop offset="8.8%" stop-color="#ffdd14"/><stop offset="9.9%" stop-color="#ffda12"/><stop offset="11.0%" stop-color="#ffdf15"/><stop offset="12.1%" stop-color="#ffe216"/><stop offset="13.2%" stop-color="#ffe317"/><stop offset="14.3%" stop-color="#ffe216"/><stop offset="15.4%" stop-color="#ffe317"/><stop offset="16.5%" stop-color="#ffe719"/><stop offset="17.6%" stop-color="#ffe518"/><stop offset="18.7%" stop-color="#fee91f"/><stop offset="19.8%" stop-color="#ffe81b"/><stop offset="20.9%" stop-color="#fdea21"/><stop offset="22.0%" stop-color="#fceb25"/><stop offset="23.1%" stop-color="#ffe81c"/><stop offset="24.2%" stop-color="#fee91e"/><stop offset="25.3%" stop-color="#fcea23"/><stop offset="26.4%" stop-color="#fcea23"/><stop offset="27.5%" stop-color="#fcea24"/><stop offset="28.6%" stop-color="#fee91d"/><stop offset="29.7%" stop-color="#fcea24"/><stop offset="30.8%" stop-color="#fdea21"/><stop offset="31.9%" stop-color="#fcea24"/><stop offset="33.0%" stop-color="#fdea23"/><stop offset="34.1%" stop-color="#fdea20"/><stop offset="35.2%" stop-color="#ffe81b"/><stop offset="36.3%" stop-color="#fee91c"/><stop offset="37.4%" stop-color="#fdea21"/><stop offset="38.5%" stop-color="#fdea23"/><stop offset="39.6%" stop-color="#f9ed2f"/><stop offset="40.7%" stop-color="#fee91f"/><stop offset="41.8%" stop-color="#fee91e"/><stop offset="42.9%" stop-color="#fee91f"/><stop offset="44.0%" stop-color="#faec2b"/><stop offset="45.1%" stop-color="#fcea23"/><stop offset="46.2%" stop-color="#fcea24"/><stop offset="47.3%" stop-color="#fbeb28"/><stop offset="48.4%" stop-color="#fdea21"/><stop offset="49.5%" stop-color="#fdea22"/><stop offset="50.5%" stop-color="#fdea20"/><stop offset="51.6%" stop-color="#fde920"/><stop offset="52.7%" stop-color="#fbeb27"/><stop offset="53.8%" stop-color="#fcea23"/><stop offset="54.9%" stop-color="#fceb26"/><stop offset="56.0%" stop-color="#fdea20"/><stop offset="57.1%" stop-color="#fbeb27"/><stop offset="58.2%" stop-color="#fdea21"/><stop offset="59.3%" stop-color="#fee91f"/><stop offset="60.4%" stop-color="#fcea24"/><stop offset="61.5%" stop-color="#fee91e"/><stop offset="62.6%" stop-color="#fbec2a"/><stop offset="63.7%" stop-color="#fee91e"/><stop offset="64.8%" stop-color="#fee91d"/><stop offset="65.9%" stop-color="#fee91d"/><stop offset="67.0%" stop-color="#fee91f"/><stop offset="68.1%" stop-color="#fee91e"/><stop offset="69.2%" stop-color="#fde920"/><stop offset="70.3%" stop-color="#fceb26"/><stop offset="71.4%" stop-color="#fee91e"/><stop offset="72.5%" stop-color="#fee91e"/><stop offset="73.6%" stop-color="#ffe81a"/><stop offset="74.7%" stop-color="#fcea24"/><stop offset="75.8%" stop-color="#ffe81a"/><stop offset="76.9%" stop-color="#ffe719"/><stop offset="78.0%" stop-color="#fceb26"/><stop offset="79.1%" stop-color="#ffe619"/><stop offset="80.2%" stop-color="#fdea23"/><stop offset="81.3%" stop-color="#fee91f"/><stop offset="82.4%" stop-color="#fcea24"/><stop offset="83.5%" stop-color="#ffe81b"/><stop offset="84.6%" stop-color="#fceb25"/><stop offset="85.7%" stop-color="#fcea24"/><stop offset="86.8%" stop-color="#fbeb27"/><stop offset="87.9%" stop-color="#ffe81b"/><stop offset="89.0%" stop-color="#ffe81a"/><stop offset="90.1%" stop-color="#ffe81a"/><stop offset="91.2%" stop-color="#ffe719"/><stop offset="92.3%" stop-color="#fee81c"/><stop offset="93.4%" stop-color="#fdea21"/><stop offset="94.5%" stop-color="#ffe619"/><stop offset="95.6%" stop-color="#ffe518"/><stop offset="96.7%" stop-color="#ffe116"/><stop offset="97.8%" stop-color="#ffe116"/><stop offset="98.9%" stop-color="#ffe116"/><stop offset="100.0%" stop-color="#ffdf15"/></linearGradient>
<linearGradient id="a17"><stop offset="0.0%" stop-color="#f2f348"/><stop offset="1.1%" stop-color="#f2f348"/><stop offset="2.2%" stop-color="#f3f243"/><stop offset="3.3%" stop-color="#f2f348"/><stop offset="4.4%" stop-color="#f3f244"/><stop offset="5.5%" stop-color="#f2f349"/><stop offset="6.6%" stop-color="#f1f44b"/><stop offset="7.7%" stop-color="#f5f03d"/><stop offset="8.8%" stop-color="#f3f243"/><stop offset="9.9%" stop-color="#f6ef39"/><stop offset="11.0%" stop-color="#f4f141"/><stop offset="12.1%" stop-color="#f4f242"/><stop offset="13.2%" stop-color="#f3f244"/><stop offset="14.3%" stop-color="#f5f03d"/><stop offset="15.4%" stop-color="#f2f347"/><stop offset="16.5%" stop-color="#f4f242"/><stop offset="17.6%" stop-color="#f3f244"/><stop offset="18.7%" stop-color="#f3f346"/><stop offset="19.8%" stop-color="#f1f44b"/><stop offset="20.9%" stop-color="#f1f44c"/><stop offset="22.0%" stop-color="#f5f13e"/><stop offset="23.1%" stop-color="#f6f03b"/><stop offset="24.2%" stop-color="#f3f245"/><stop offset="25.3%" stop-color="#f3f245"/><stop offset="26.4%" stop-color="#f4f242"/><stop offset="27.5%" stop-color="#f2f347"/><stop offset="28.6%" stop-color="#f6ef39"/><stop offset="29.7%" stop-color="#f2f349"/><stop offset="30.8%" stop-color="#f2f348"/><stop offset="31.9%" stop-color="#f1f44d"/><stop offset="33.0%" stop-color="#f4f140"/><stop offset="34.1%" stop-color="#f3f245"/><stop offset="35.2%" stop-color="#f5f03c"/><stop offset="36.3%" stop-color="#f2f347"/><stop offset="37.4%" stop-color="#f4f243"/><stop offset="38.5%" stop-color="#f4f242"/><stop offset="39.6%" stop-color="#f2f34a"/><stop offset="40.7%" stop-color="#f6f03a"/><stop offset="41.8%" stop-color="#f5f13d"/><stop offset="42.9%" stop-color="#f4f243"/><stop offset="44.0%" stop-color="#f3f245"/><stop offset="45.1%" stop-color="#f5f13f"/><stop offset="46.2%" stop-color="#f4f140"/><stop offset="47.3%" stop-color="#f3f244"/><stop offset="48.4%" stop-color="#f4f141"/><stop offset="49.5%" stop-color="#f4f141"/><stop offset="50.5%" stop-color="#f3f243"/><stop offset="51.6%" stop-color="#f4f13f"/><stop offset="52.7%" stop-color="#f6f03b"/><stop offset="53.8%" stop-color="#f4f141"/><stop offset="54.9%" stop-color="#f5f13f"/><stop offset="56.0%" stop-color="#f6f03c"/><stop offset="57.1%" stop-color="#f5f13f"/><stop offset="58.2%" stop-color="#f7ef37"/><stop offset="59.3%" stop-color="#f5f03c"/><stop offset="60.4%" stop-color="#f7ef36"/><stop offset="61.5%" stop-color="#f8ee34"/><stop offset="62.6%" stop-color="#f8ee34"/><stop offset="63.7%" stop-color="#fbeb28"/><stop offset="64.8%" stop-color="#fceb24"/><stop offset="65.9%" stop-color="#fceb26"/><stop offset="67.0%" stop-color="#fbec29"/><stop offset="68.1%" stop-color="#ffe81a"/><stop offset="69.2%" stop-color="#fee91d"/><stop offset="70.3%" stop-color="#fbeb27"/><stop offset="71.4%" stop-color="#fcea24"/><stop offset="72.5%" stop-color="#fee91e"/><stop offset="73.6%" stop-color="#fceb25"/><stop offset="74.7%" stop-color="#faed2d"/><stop offset="75.8%" stop-color="#faed2d"/><stop offset="76.9%" stop-color="#faec2b"/><stop offset="78.0%" stop-color="#f7ef35"/><stop offset="79.1%" stop-color="#f9ed2f"/><stop offset="80.2%" stop-color="#f6ef39"/><stop offset="81.3%" stop-color="#f6f03a"/><stop offset="82.4%" stop-color="#f6f03a"/><stop offset="83.5%" stop-color="#f6f03b"/><stop offset="84.6%" stop-color="#f3f244"/><stop offset="85.7%" stop-color="#f4f141"/><stop offset="86.8%" stop-color="#f3f245"/><stop offset="87.9%" stop-color="#f5f13f"/><stop offset="89.0%" stop-color="#f4f141"/><stop offset="90.1%" stop-color="#f6ef39"/><stop offset="91.2%" stop-color="#f4f140"/><stop offset="92.3%" stop-color="#f4f141"/><stop offset="93.4%" stop-color="#f2f347"/><stop offset="94.5%" stop-color="#f4f141"/><stop offset="95.6%" stop-color="#f3f346"/><stop offset="96.7%" stop-color="#f3f244"/><stop offset="97.8%" stop-color="#f1f44c"/><stop offset="98.9%" stop-color="#f3f244"/><stop offset="100.0%" stop-color="#f4f242"/></linearGradient>
<linearGradient id="a18"><stop offset="0.0%" stop-color="#f1f44d"/><stop offset="1.1%" stop-color="#eff655"/><stop offset="2.2%" stop-color="#f2f348"/><stop offset="3.3%" stop-color="#f2f349"/><stop offset="4.4%" stop-color="#eff552"/><stop offset="5.5%" stop-color="#f0f44e"/><stop offset="6.6%" stop-color="#f1f44d"/><stop offset="7.7%" stop-color="#f0f54f"/><stop offset="8.8%" stop-color="#f0f550"/><stop offset="9.9%" stop-color="#f3f346"/><stop offset="11.0%" stop-color="#f0f551"/><stop offset="12.1%" stop-color="#f1f44d"/><stop offset="13.2%" stop-color="#f1f44b"/><stop offset="14.3%" stop-color="#eff653"/><stop offset="15.4%" stop-color="#f0f44e"/><stop offset="16.5%" stop-color="#f2f348"/><stop offset="17.6%" stop-color="#f1f44a"/><stop offset="18.7%" stop-color="#f2f349"/><stop offset="19.8%" stop-color="#f1f44c"/><stop offset="20.9%" stop-color="#f2f347"/><stop offset="22.0%" stop-color="#f0f54f"/><stop offset="23.1%" stop-color="#f4f141"/><stop offset="24.2%" stop-color="#f1f44c"/><stop offset="25.3%" stop-color="#f0f550"/><stop offset="26.4%" stop-color="#f0f550"/><stop offset="27.5%" stop-color="#f1f44c"/><stop offset="28.6%" stop-color="#f2f349"/><stop offset="29.7%" stop-color="#f0f54f"/><stop offset="30.8%" stop-color="#f0f44e"/><stop offset="31.9%" stop-color="#f2f347"/><stop offset="33.0%" stop-color="#f1f44b"/><stop offset="34.1%" stop-color="#f0f44e"/><stop offset="35.2%" stop-color="#f3f245"/><stop offset="36.3%" stop-color="#f0f54f"/><stop offset="37.4%" stop-color="#f0f550"/><stop offset="38.5%" stop-color="#f0f54f"/><stop offset="39.6%" stop-color="#f0f550"/><stop offset="40.7%" stop-color="#f0f550"/><stop offset="41.8%" stop-color="#eff654"/><stop offset="42.9%" stop-color="#f1f44b"/><stop offset="44.0%" stop-color="#f3f245"/><stop offset="45.1%" stop-color="#f3f245"/><stop offset="46.2%" stop-color="#eff653"/><stop offset="47.3%" stop-color="#f0f54e"/><stop offset="48.4%" stop-color="#f2f349"/><stop offset="49.5%" stop-color="#f1f44c"/><stop offset="50.5%" stop-color="#f0f54f"/><stop offset="51.6%" stop-color="#f1f44c"/><stop offset="52.7%" stop-color="#eff552"/><stop offset="53.8%" stop-color="#f0f54e"/><stop offset="54.9%" stop-color="#f3f244"/><stop offset="56.0%" stop-color="#f1f44b"/><stop offset="57.1%" stop-color="#f0f550"/><stop offset="58.2%" stop-color="#f0f550"/><stop offset="59.3%" stop-color="#f1f44b"/><stop offset="60.4%" stop-color="#f0f550"/><stop offset="61.5%" stop-color="#f2f349"/><stop offset="62.6%" stop-color="#eff654"/><stop offset="63.7%" stop-color="#f1f44b"/><stop offset="64.8%" stop-color="#f2f34a"/><stop offset="65.9%" stop-color="#eff654"/><stop offset="67.0%" stop-color="#eff653"/><stop offset="68.1%" stop-color="#eff653"/><stop offset="69.2%" stop-color="#f1f44d"/><stop offset="70.3%" stop-color="#eff551"/><stop offset="71.4%" stop-color="#f0f54e"/><stop offset="72.5%" stop-color="#f1f44b"/><stop offset="73.6%" stop-color="#f2f347"/><stop offset="74.7%" stop-color="#eff654"/><stop offset="75.8%" stop-color="#f2f348"/><stop offset="76.9%" stop-color="#f3f243"/><stop offset="78.0%" stop-color="#f1f44c"/><stop offset="79.1%" stop-color="#f2f348"/><stop offset="80.2%" stop-color="#f2f34a"/><stop offset="81.3%" stop-color="#f2f349"/><stop offset="82.4%" stop-color="#f0f44e"/><stop offset="83.5%" stop-color="#f2f349"/><stop offset="84.6%" stop-color="#f0f54f"/><stop offset="85.7%" stop-color="#eff551"/><stop offset="86.8%" stop-color="#f1f44d"/><stop offset="87.9%" stop-color="#f3f243"/><stop offset="89.0%" stop-color="#f0f54e"/><stop offset="90.1%" stop-color="#f1f44b"/><stop offset="91.2%" stop-color="#f2f349"/><stop offset="92.3%" stop-color="#f1f44d"/><stop offset="93.4%" stop-color="#f0f550"/><stop offset="94.5%" stop-color="#f0f54f"/><stop offset="95.6%" stop-color="#eef656"/><stop offset="96.7%" stop-color="#f2f349"/><stop offset="97.8%" stop-color="#f0f551"/><stop offset="98.9%" stop-color="#f3f245"/><stop offset="100.0%" stop-color="#f2f349"/></linearGradient>
<linearGradient id="a19"><stop offset="0.0%" stop-color="#f2f349"/><stop offset="1.1%" stop-color="#eff552"/><stop offset="2.2%" stop-color="#f3f244"/><stop offset="3.3%" stop-color="#f2f347"/><stop offset="4.4%" stop-color="#f1f44c"/><stop offset="5.5%" stop-color="#f1f44d"/><stop offset="6.6%" stop-color="#eef656"/><stop offset="7.7%" stop-color="#f0f44e"/><stop offset="8.8%" stop-color="#f0f54f"/><stop offset="9.9%" stop-color="#f2f347"/><stop offset="11.0%" stop-color="#f3f245"/><stop offset="12.1%" stop-color="#eff654"/><stop offset="13.2%" stop-color="#f1f44d"/><stop offset="14.3%" stop-color="#f1f44c"/><stop offset="15.4%" stop-color="#f1f44d"/><stop offset="16.5%" stop-color="#f3f346"/><stop offset="17.6%" stop-color="#f0f550"/><stop offset="18.7%" stop-color="#f0f54f"/><stop offset="19.8%" stop-color="#f2f349"/><stop offset="20.9%" stop-color="#f1f44c"/><stop offset="22.0%" stop-color="#f1f44d"/><stop offset="23.1%" stop-color="#f1f44b"/><stop offset="24.2%" stop-color="#f2f347"/><stop offset="25.3%" stop-color="#eff551"/><stop offset="26.4%" stop-color="#f0f54f"/><stop offset="27.5%" stop-color="#f3f245"/><stop offset="28.6%" stop-color="#f4f141"/><stop offset="29.7%" stop-color="#f2f349"/><stop offset="30.8%" stop-color="#f0f550"/><stop offset="31.9%" stop-color="#f1f44d"/><stop offset="33.0%" stop-color="#eff552"/><stop offset="34.1%" stop-color="#f0f551"/><stop offset="35.2%" stop-color="#f1f44c"/><stop offset="36.3%" stop-color="#f3f246"/><stop offset="37.4%" stop-color="#f1f44b"/><stop offset="38.5%" stop-color="#f1f44d"/><stop offset="39.6%" stop-color="#eef656"/><stop offset="40.7%" stop-color="#f0f54e"/><stop offset="41.8%" stop-color="#f2f349"/><stop offset="42.9%" stop-color="#eef758"/><stop offset="44.0%" stop-color="#f1f44a"/><stop offset="45.1%" stop-color="#f0f550"/><stop offset="46.2%" stop-color="#eff551"/><stop offset="47.3%" stop-color="#eff654"/><stop offset="48.4%" stop-color="#f2f348"/><stop offset="49.5%" stop-color="#f1f44c"/><stop offset="50.5%" stop-color="#f5f13e"/><stop offset="51.6%" stop-color="#f0f54e"/><stop offset="52.7%" stop-color="#f0f550"/><stop offset="53.8%" stop-color="#f2f347"/><stop offset="54.9%" stop-color="#f1f44a"/><stop offset="56.0%" stop-color="#f0f54f"/><stop offset="57.1%" stop-color="#eff653"/><stop offset="58.2%" stop-color="#f3f245"/><stop offset="59.3%" stop-color="#f1f44a"/><stop offset="60.4%" stop-color="#f1f44c"/><stop offset="61.5%" stop-color="#f0f44e"/><stop offset="62.6%" stop-color="#f0f54f"/><stop offset="63.7%" stop-color="#f1f44d"/><stop offset="64.8%" stop-color="#f1f44b"/><stop offset="65.9%" stop-color="#f0f551"/><stop offset="67.0%" stop-color="#f2f347"/><stop offset="68.1%" stop-color="#f0f550"/><stop offset="69.2%" stop-color="#f1f44c"/><stop offset="70.3%" stop-color="#f1f44c"/><stop offset="71.4%" stop-color="#f1f44d"/><stop offset="72.5%" stop-color="#f1f44b"/><stop offset="73.6%" stop-color="#f1f44a"/><stop offset="74.7%" stop-color="#f1f44d"/><stop offset="75.8%" stop-color="#f0f550"/><stop offset="76.9%" stop-color="#f2f34a"/><stop offset="78.0%" stop-color="#f3f246"/><stop offset="79.1%" stop-color="#f2f347"/><stop offset="80.2%" stop-color="#eff552"/><stop offset="81.3%" stop-color="#f0f550"/><stop offset="82.4%" stop-color="#f0f44e"/><stop offset="83.5%" stop-color="#f0f44e"/><stop offset="84.6%" stop-color="#eff652"/><stop offset="85.7%" stop-color="#f0f550"/><stop offset="86.8%" stop-color="#eff654"/><stop offset="87.9%" stop-color="#f3f245"/><stop offset="89.0%" stop-color="#f0f550"/><stop offset="90.1%" stop-color="#f3f244"/><stop offset="91.2%" stop-color="#f1f44c"/><stop offset="92.3%" stop-color="#f1f44b"/><stop offset="93.4%" stop-color="#f1f44b"/><stop offset="94.5%" stop-color="#f1f44d"/><stop offset="95.6%" stop-color="#f1f44b"/><stop offset="96.7%" stop-color="#f1f44d"/><stop offset="97.8%" stop-color="#edf758"/><stop offset="98.9%" stop-color="#f0f54e"/><stop offset="100.0%" stop-color="#eff654"/></linearGradient>
<linearGradient id="a20"><stop offset="0.0%" stop-color="#f5f13e"/><stop offset="1.1%" stop-color="#f4f243"/><stop offset="2.2%" stop-color="#f4f140"/><stop offset="3.3%" stop-color="#f3f244"/><stop offset="4.4%" stop-color="#f3f346"/><stop offset="5.5%" stop-color="#f4f242"/><stop offset="6.6%" stop-color="#f3f346"/><stop offset="7.7%" stop-color="#f2f347"/><stop offset="8.8%" stop-color="#f4f142"/><stop offset="9.9%" stop-color="#f5f03d"/><stop offset="11.0%" stop-color="#f4f13f"/><stop offset="12.1%" stop-color="#f3f243"/><stop offset="13.2%" stop-color="#f5f13d"/><stop offset="14.3%" stop-color="#f5f13f"/><stop offset="15.4%" stop-color="#f3f243"/><stop offset="16.5%" stop-color="#f4f242"/><stop offset="17.6%" stop-color="#f5f13e"/><stop offset="18.7%" stop-color="#f5f03c"/><stop offset="19.8%" stop-color="#f6f03a"/><stop offset="20.9%" stop-color="#f4f141"/><stop offset="22.0%" stop-color="#f4f13f"/><stop offset="23.1%" stop-color="#f7ef37"/><stop offset="24.2%" stop-color="#f3f246"/><stop offset="25.3%" stop-color="#f4f140"/><stop offset="26.4%" stop-color="#f3f245"/><stop offset="27.5%" stop-color="#f6f03a"/><stop offset="28.6%" stop-color="#f5f13e"/><stop offset="29.7%" stop-color="#f4f142"/><stop offset="30.8%" stop-color="#f3f245"/><stop offset="31.9%" stop-color="#f5f13e"/><stop offset="33.0%" stop-color="#f4f13f"/><stop offset="34.1%" stop-color="#f6f03b"/><stop offset="35.2%" stop-color="#f3f243"/><stop offset="36.3%" stop-color="#f4f141"/><stop offset="37.4%" stop-color="#f9ee31"/><stop offset="38.5%" stop-color="#f6f03b"/><stop offset="39.6%" stop-color="#f2f347"/><stop offset="40.7%" stop-color="#f5f03c"/><stop offset="41.8%" stop-color="#f1f44d"/><stop offset="42.9%" stop-color="#f5f13e"/><stop offset="44.0%" stop-color="#f5f13f"/><stop offset="45.1%" stop-color="#f3f244"/><stop offset="46.2%" stop-color="#f5f03d"/><stop offset="47.3%" stop-color="#f3f245"/><stop offset="48.4%" stop-color="#f3f244"/><stop offset="49.5%" stop-color="#f5f13e"/><stop offset="50.5%" stop-color="#f6f03b"/><stop offset="51.6%" stop-color="#f4f140"/><stop offset="52.7%" stop-color="#f4f140"/><stop offset="53.8%" stop-color="#f4f243"/><stop offset="54.9%" stop-color="#f3f246"/><stop offset="56.0%" stop-color="#f5f13e"/><stop offset="57.1%" stop-color="#f7ef38"/><stop offset="58.2%" stop-color="#f6f03b"/><stop offset="59.3%" stop-color="#f5f03c"/><stop offset="60.4%" stop-color="#f5f13f"/><stop offset="61.5%" stop-color="#f6f03a"/><stop offset="62.6%" stop-color="#f4f142"/><stop offset="63.7%" stop-color="#faed2d"/><stop offset="64.8%" stop-color="#f8ee34"/><stop offset="65.9%" stop-color="#f8ee32"/><stop offset="67.0%" stop-color="#faec2c"/><stop offset="68.1%" stop-color="#f9ed31"/><stop offset="69.2%" stop-color="#fee91c"/><stop offset="70.3%" stop-color="#fbeb29"/><stop offset="71.4%" stop-color="#fceb25"/><stop offset="72.5%" stop-color="#ffe81b"/><stop offset="73.6%" stop-color="#fee81c"/><stop offset="74.7%" stop-color="#fee91f"/><stop offset="75.8%" stop-color="#fee91f"/><stop offset="76.9%" stop-color="#ffe719"/><stop offset="78.0%" stop-color="#fee91d"/><stop offset="79.1%" stop-color="#fde920"/><stop offset="80.2%" stop-color="#fde920"/><stop offset="81.3%" stop-color="#fcea23"/><stop offset="82.4%" stop-color="#f9ed2f"/><stop offset="83.5%" stop-color="#fbeb27"/><stop offset="84.6%" stop-color="#faed2d"/><stop offset="85.7%" stop-color="#faec2c"/><stop offset="86.8%" stop-color="#f5f03c"/><stop offset="87.9%" stop-color="#f9ed30"/><stop offset="89.0%" stop-color="#f7ef38"/><stop offset="90.1%" stop-color="#f7ef37"/><stop offset="91.2%" stop-color="#f6f03b"/><stop offset="92.3%" stop-color="#f5f03d"/><stop offset="93.4%" stop-color="#f5f13e"/><stop offset="94.5%" stop-color="#f3f246"/><stop offset="95.6%" stop-color="#f2f34a"/><stop offset="96.7%" stop-color="#f5f03d"/><stop offset="97.8%" stop-color="#f3f245"/><stop offset="98.9%" stop-color="#f4f141"/><stop offset="100.0%" stop-color="#f5f13e"/></linearGradient>
<linearGradient id="a21"><stop offset="0.0%" stop-color="#f9ee31"/><stop offset="1.1%" stop-color="#f7ef36"/><stop offset="2.2%" stop-color="#f8ee34"/><stop offset="3.3%" stop-color="#f7ef36"/><stop offset="4.4%" stop-color="#f8ee33"/><stop offset="5.5%" stop-color="#f8ee33"/><stop offset="6.6%" stop-color="#f6f03a"/><stop offset="7.7%" stop-color="#f7ee35"/><stop offset="8.8%" stop-color="#f6f03a"/><stop offset="9.9%" stop-color="#f9ed30"/><stop offset="11.0%" stop-color="#f8ee34"/><stop offset="12.1%" stop-color="#f8ee32"/><stop offset="13.2%" stop-color="#f7ef37"/><stop offset="14.3%" stop-color="#f8ee33"/><stop offset="15.4%" stop-color="#f9ed30"/><stop offset="16.5%" stop-color="#faed2d"/><stop offset="17.6%" stop-color="#f8ee33"/><stop offset="18.7%" stop-color="#f9ee31"/><stop offset="19.8%" stop-color="#f9ed30"/><stop offset="20.9%" stop-color="#f8ee32"/><stop offset="22.0%" stop-color="#f9ed31"/><stop offset="23.1%" stop-color="#f9ed2e"/><stop offset="24.2%" stop-color="#f9ed2f"/><stop offset="25.3%" stop-color="#f8ee34"/><stop offset="26.4%" stop-color="#f8ee34"/><stop offset="27.5%" stop-color="#f9ed30"/><stop offset="28.6%" stop-color="#faec2a"/><stop offset="29.7%" stop-color="#faec2b"/><stop offset="30.8%" stop-color="#faec2d"/><stop offset="31.9%" stop-color="#fbeb26"/><stop offset="33.0%" stop-color="#fceb26"/><stop offset="34.1%" stop-color="#faec2b"/><stop offset="35.2%" stop-color="#fcea23"/><stop offset="36.3%" stop-color="#fee91e"/><stop offset="37.4%" stop-color="#fee91e"/><stop offset="38.5%" stop-color="#fee91f"/><stop offset="39.6%" stop-color="#fee91c"/><stop offset="40.7%" stop-color="#ffe619"/><stop offset="41.8%" stop-color="#fee91d"/><stop offset="42.9%" stop-color="#ffe518"/><stop offset="44.0%" stop-color="#ffe81a"/><stop offset="45.1%" stop-color="#ffe619"/><stop offset="46.2%" stop-color="#ffe81c"/><stop offset="47.3%" stop-color="#fee81c"/><stop offset="48.4%" stop-color="#ffe81a"/><stop offset="49.5%" stop-color="#fdea22"/><stop offset="50.5%" stop-color="#fee91f"/><stop offset="51.6%" stop-color="#fcea23"/><stop offset="52.7%" stop-color="#faec2b"/><stop offset="53.8%" stop-color="#fdea23"/><stop offset="54.9%" stop-color="#faec2c"/><stop offset="56.0%" stop-color="#f9ee31"/><stop offset="57.1%" stop-color="#f9ed31"/><stop offset="58.2%" stop-color="#f9ed31"/><stop offset="59.3%" stop-color="#f8ee32"/><stop offset="60.4%" stop-color="#f7ef36"/><stop offset="61.5%" stop-color="#f9ed2e"/><stop offset="62.6%" stop-color="#f3f243"/><stop offset="63.7%" stop-color="#f6f03b"/><stop offset="64.8%" stop-color="#f8ee34"/><stop offset="65.9%" stop-color="#f4f13f"/><stop offset="67.0%" stop-color="#f8ee35"/><stop offset="68.1%" stop-color="#f6f039"/><stop offset="69.2%" stop-color="#f9ed31"/><stop offset="70.3%" stop-color="#f7ef38"/><stop offset="71.4%" stop-color="#f8ee32"/><stop offset="72.5%" stop-color="#f9ed2f"/><stop offset="73.6%" stop-color="#faed2d"/><stop offset="74.7%" stop-color="#f7ef38"/><stop offset="75.8%" stop-color="#f8ee32"/><stop offset="76.9%" stop-color="#f8ee32"/><stop offset="78.0%" stop-color="#f6ef38"/><stop offset="79.1%" stop-color="#f7ef36"/><stop offset="80.2%" stop-color="#f5f03c"/><stop offset="81.3%" stop-color="#f8ee32"/><stop offset="82.4%" stop-color="#f4f140"/><stop offset="83.5%" stop-color="#f9ed31"/><stop offset="84.6%" stop-color="#f7ef38"/><stop offset="85.7%" stop-color="#f8ee33"/><stop offset="86.8%" stop-color="#f7ef38"/><stop offset="87.9%" stop-color="#f8ee34"/><stop offset="89.0%" stop-color="#f8ee33"/><stop offset="90.1%" stop-color="#f5f03c"/><stop offset="91.2%" stop-color="#f9ee31"/><stop offset="92.3%" stop-color="#f8ee32"/><stop offset="93.4%" stop-color="#f5f03d"/><stop offset="94.5%" stop-color="#f8ee33"/><stop offset="95.6%" stop-color="#f7ef37"/><stop offset="96.7%" stop-color="#f9ed31"/><stop offset="97.8%" stop-color="#f5f13e"/><stop offset="98.9%" stop-color="#f8ee34"/><stop offset="100.0%" stop-color="#f8ee33"/></linearGradient>
<linearGradient id="a22"><stop offset="0.0%" stop-color="#ffb700"/><stop offset="1.1%" stop-color="#ffc404"/><stop offset="2.2%" stop-color="#ffb800"/><stop offset="3.3%" stop-color="#ffb800"/><stop offset="4.4%" stop-color="#ffba00"/><stop offset="5.5%" stop-color="#ffb800"/><stop offset="6.6%" stop-color="#ffc102"/><stop offset="7.7%" stop-color="#ffba00"/><stop offset="8.8%" stop-color="#ffbb00"/><stop offset="9.9%" stop-color="#ffb400"/><stop offset="11.0%" stop-color="#ffb200"/><stop offset="12.1%" stop-color="#ffba00"/><stop offset="13.2%" stop-color="#ffbd00"/><stop offset="14.3%" stop-color="#ffb900"/><stop offset="15.4%" stop-color="#ffc102"/><stop offset="16.5%" stop-color="#ffba00"/><stop offset="17.6%" stop-color="#ffb700"/><stop offset="18.7%" stop-color="#ffbc00"/><stop offset="19.8%" stop-color="#ffba00"/><stop offset="20.9%" stop-color="#ffbe01"/><stop offset="22.0%" stop-color="#ffba00"/><stop offset="23.1%" stop-color="#ffba00"/><stop offset="24.2%" stop-color="#ffb400"/><stop offset="25.3%" stop-color="#ffb900"/><stop offset="26.4%" stop-color="#ffbb00"/><stop offset="27.5%" stop-color="#ffbe01"/><stop offset="28.6%" stop-color="#ffb100"/><stop offset="29.7%" stop-color="#ffb700"/><stop offset="30.8%" stop-color="#ffb900"/><stop offset="31.9%" stop-color="#ffb800"/><stop offset="33.0%" stop-color="#ffbb00"/><stop offset="34.1%" stop-color="#ffbc00"/><stop offset="35.2%" stop-color="#ffb300"/><stop offset="36.3%" stop-color="#ffb900"/><stop offset="37.4%" stop-color="#ffbf01"/><stop offset="38.5%" stop-color="#ffbb00"/><stop offset="39.6%" stop-color="#ffcc09"/><stop offset="40.7%" stop-color="#ffb700"/><stop offset="41.8%" stop-color="#ffba00"/><stop offset="42.9%" stop-color="#ffb800"/><stop offset="44.0%" stop-color="#ffb400"/><stop offset="45.1%" stop-color="#ffbb00"/><stop offset="46.2%" stop-color="#ffba00"/><stop offset="47.3%" stop-color="#ffb900"/><stop offset="48.4%" stop-color="#ffb800"/><stop offset="49.5%" stop-color="#ffbc00"/><stop offset="50.5%" stop-color="#ffb500"/><stop offset="51.6%" stop-color="#ffb700"/><stop offset="52.7%" stop-color="#ffb600"/><stop offset="53.8%" stop-color="#ffb800"/><stop offset="54.9%" stop-color="#ffba00"/><stop offset="56.0%" stop-color="#ffbc00"/><stop offset="57.1%" stop-color="#ffb900"/><stop offset="58.2%" stop-color="#ffb900"/><stop offset="59.3%" stop-color="#ffb900"/><stop offset="60.4%" stop-color="#ffb700"/><stop offset="61.5%" stop-color="#ffb400"/><stop offset="62.6%" stop-color="#ffb600"/><stop offset="63.7%" stop-color="#ffb000"/><stop offset="64.8%" stop-color="#ffb100"/><stop offset="65.9%" stop-color="#ffb900"/><stop offset="67.0%" stop-color="#ffb100"/><stop offset="68.1%" stop-color="#ffb000"/><stop offset="69.2%" stop-color="#ffb400"/><stop offset="70.3%" stop-color="#ffb900"/><stop offset="71.4%" stop-color="#ffb600"/><stop offset="72.5%" stop-color="#ffb400"/><stop offset="73.6%" stop-color="#ffb100"/><stop offset="74.7%" stop-color="#ffba00"/><stop offset="75.8%" stop-color="#ffb400"/><stop offset="76.9%" stop-color="#ffb800"/><stop offset="78.0%" stop-color="#ffb700"/><stop offset="79.1%" stop-color="#ffb500"/><stop offset="80.2%" stop-color="#ffbc00"/><stop offset="81.3%" stop-color="#ffb400"/><stop offset="82.4%" stop-color="#ffba00"/><stop offset="83.5%" stop-color="#ffb500"/><stop offset="84.6%" stop-color="#ffba00"/><stop offset="85.7%" stop-color="#ffb800"/><stop offset="86.8%" stop-color="#ffbb00"/><stop offset="87.9%" stop-color="#ffb800"/><stop offset="89.0%" stop-color="#ffbf01"/><stop offset="90.1%" stop-color="#ffb700"/><stop offset="91.2%" stop-color="#ffb600"/><stop offset="92.3%" stop-color="#ffb900"/><stop offset="93.4%" stop-color="#ffbb00"/><stop offset="94.5%" stop-color="#ffbb00"/><stop offset="95.6%" stop-color="#ffbb00"/><stop offset="96.7%" stop-color="#ffbb00"/><stop offset="97.8%" stop-color="#ffbd00"/><stop offset="98.9%" stop-color="#ffbb00"/><stop offset="100.0%" stop-color="#ffbd00"/></linearGradient>
<linearGradient id="a23"><stop offset="0.0%" stop-color="#ffb800"/><stop offset="1.1%" stop-color="#ffb700"/><stop offset="2.2%" stop-color="#ffb600"/><stop offset="3.3%" stop-color="#ffba00"/><stop offset="4.4%" stop-color="#ffba00"/><stop offset="5.5%" stop-color="#ffc203"/><stop offset="6.6%" stop-color="#ffc103"/><stop offset="7.7%" stop-color="#ffb900"/><stop offset="8.8%" stop-color="#ffb600"/><stop offset="9.9%" stop-color="#ffb800"/><stop offset="11.0%" stop-color="#ffba00"/><stop offset="12.1%" stop-color="#ffb300"/><stop offset="13.2%" stop-color="#ffb700"/><stop offset="14.3%" stop-color="#ffb800"/><stop offset="15.4%" stop-color="#ffb600"/><stop offset="16.5%" stop-color="#ffb900"/><stop offset="17.6%" stop-color="#ffb800"/><stop offset="18.7%" stop-color="#ffb600"/><stop offset="19.8%" stop-color="#ffb400"/><stop offset="20.9%" stop-color="#ffbc00"/><stop offset="22.0%" stop-color="#ffb400"/><stop offset="23.1%" stop-color="#ffbb00"/><stop offset="24.2%" stop-color="#ffb900"/><stop offset="25.3%" stop-color="#ffb000"/><stop offset="26.4%" stop-color="#ffba00"/><stop offset="27.5%" stop-color="#ffb500"/><stop offset="28.6%" stop-color="#ffb800"/><stop offset="29.7%" stop-color="#ffba00"/><stop offset="30.8%" stop-color="#ffbb00"/><stop offset="31.9%" stop-color="#ffb800"/><stop offset="33.0%" stop-color="#ffb800"/><stop offset="34.1%" stop-color="#ffb400"/><stop offset="35.2%" stop-color="#ffb400"/><stop offset="36.3%" stop-color="#ffb300"/><stop offset="37.4%" stop-color="#ffba00"/><stop offset="38.5%" stop-color="#ffb300"/><stop offset="39.6%" stop-color="#ffbb00"/><stop offset="40.7%" stop-color="#ffb200"/><stop offset="41.8%" stop-color="#ffbb00"/><stop offset="42.9%" stop-color="#ffbc00"/><stop offset="44.0%" stop-color="#ffb400"/><stop offset="45.1%" stop-color="#ffb500"/><stop offset="46.2%" stop-color="#ffb900"/><stop offset="47.3%" stop-color="#ffbc00"/><stop offset="48.4%" stop-color="#ffb800"/><stop offset="49.5%" stop-color="#ffb700"/><stop offset="50.5%" stop-color="#ffb400"/><stop offset="51.6%" stop-color="#ffb900"/><stop offset="52.7%" stop-color="#ffb900"/><stop offset="53.8%" stop-color="#ffb500"/><stop offset="54.9%" stop-color="#ffbc00"/><stop offset="56.0%" stop-color="#ffb700"/><stop offset="57.1%" stop-color="#ffb700"/><stop offset="58.2%" stop-color="#ffb800"/><stop offset="59.3%" stop-color="#ffc103"/><stop offset="60.4%" stop-color="#ffbf01"/><stop offset="61.5%" stop-color="#ffbb00"/><stop offset="62.6%" stop-color="#ffbf01"/><stop offset="63.7%" stop-color="#ffba00"/><stop offset="64.8%" stop-color="#ffb600"/><stop offset="65.9%" stop-color="#ffbb00"/><stop offset="67.0%" stop-color="#ffb900"/><stop offset="68.1%" stop-color="#ffc203"/><stop offset="69.2%" stop-color="#ffb300"/><stop offset="70.3%" stop-color="#ffbd00"/><stop offset="71.4%" stop-color="#ffb800"/><stop offset="72.5%" stop-color="#ffb900"/><stop offset="73.6%" stop-color="#ffb600"/><stop offset="74.7%" stop-color="#ffba00"/><stop offset="75.8%" stop-color="#ffb900"/><stop offset="76.9%" stop-color="#ffb500"/><stop offset="78.0%" stop-color="#ffba00"/><stop offset="79.1%" stop-color="#ffb000"/><stop offset="80.2%" stop-color="#ffc203"/><stop offset="81.3%" stop-color="#ffb900"/><stop offset="82.4%" stop-color="#ffb700"/><stop offset="83.5%" stop-color="#ffb700"/><stop offset="84.6%" stop-color="#ffba00"/><stop offset="85.7%" stop-color="#ffbf01"/><stop offset="86.8%" stop-color="#ffb800"/><stop offset="87.9%" stop-color="#ffbb00"/><stop offset="89.0%" stop-color="#ffb600"/><stop offset="90.1%" stop-color="#ffb700"/><stop offset="91.2%" stop-color="#ffb400"/><stop offset="92.3%" stop-color="#ffb300"/><stop offset="93.4%" stop-color="#ffbc00"/><stop offset="94.5%" stop-color="#ffbc00"/><stop offset="95.6%" stop-color="#ffbb00"/><stop offset="96.7%" stop-color="#ffbb00"/><stop offset="97.8%" stop-color="#ffb900"/><stop offset="98.9%" stop-color="#ffbb00"/><stop offset="100.0%" stop-color="#ffb900"/></linearGradient>
<linearGradient id="a24"><stop offset="0.0%" stop-color="#ffb800"/><stop offset="1.1%" stop-color="#ffbd00"/><stop offset="2.2%" stop-color="#ffba00"/><stop offset="3.3%" stop-color="#ffba00"/><stop offset="4.4%" stop-color="#ffbc00"/><stop offset="5.5%" stop-color="#ffb600"/><stop offset="6.6%" stop-color="#ffbe01"/><stop offset="7.7%" stop-color="#ffc203"/><stop offset="8.8%" stop-color="#ffb800"/><stop offset="9.9%" stop-color="#ffb400"/><stop offset="11.0%" stop-color="#ffbb00"/><stop offset="12.1%" stop-color="#ffb200"/><stop offset="13.2%" stop-color="#ffb900"/><stop offset="14.3%" stop-color="#ffbe01"/><stop offset="15.4%" stop-color="#ffbc00"/><stop offset="16.5%" stop-color="#ffb800"/><stop offset="17.6%" stop-color="#ffb800"/><stop offset="18.7%" stop-color="#ffb500"/><stop offset="19.8%" stop-color="#ffb400"/><stop offset="20.9%" stop-color="#ffbb00"/><stop offset="22.0%" stop-color="#ffb800"/><stop offset="23.1%" stop-color="#ffb400"/><stop offset="24.2%" stop-color="#ffb900"/><stop offset="25.3%" stop-color="#ffbb00"/><stop offset="26.4%" stop-color="#ffb600"/><stop offset="27.5%" stop-color="#ffb600"/><stop offset="28.6%" stop-color="#ffb900"/><stop offset="29.7%" stop-color="#ffbb00"/><stop offset="30.8%" stop-color="#ffba00"/><stop offset="31.9%" stop-color="#ffb700"/><stop offset="33.0%" stop-color="#ffbc00"/><stop offset="34.1%" stop-color="#ffb500"/><stop offset="35.2%" stop-color="#ffba00"/><stop offset="36.3%" stop-color="#ffbb00"/><stop offset="37.4%" stop-color="#ffb800"/><stop offset="38.5%" stop-color="#ffbe01"/><stop offset="39.6%" stop-color="#ffc203"/><stop offset="40.7%" stop-color="#ffb500"/><stop offset="41.8%" stop-color="#ffbf01"/><stop offset="42.9%" stop-color="#ffbe01"/><stop offset="44.0%" stop-color="#ffb500"/><stop offset="45.1%" stop-color="#ffb600"/><stop offset="46.2%" stop-color="#ffb900"/><stop offset="47.3%" stop-color="#ffba00"/><stop offset="48.4%" stop-color="#ffba00"/><stop offset="49.5%" stop-color="#ffb800"/><stop offset="50.5%" stop-color="#ffb700"/><stop offset="51.6%" stop-color="#ffb000"/><stop offset="52.7%" stop-color="#ffb700"/><stop offset="53.8%" stop-color="#ffb800"/><stop offset="54.9%" stop-color="#ffb900"/><stop offset="56.0%" stop-color="#ffba00"/><stop offset="57.1%" stop-color="#ffbc00"/><stop offset="58.2%" stop-color="#ffba00"/><stop offset="59.3%" stop-color="#ffb400"/><stop offset="60.4%" stop-color="#ffbe01"/><stop offset="61.5%" stop-color="#ffba00"/><stop offset="62.6%" stop-color="#ffba00"/><stop offset="63.7%" stop-color="#ffb300"/><stop offset="64.8%" stop-color="#ffbb00"/><stop offset="65.9%" stop-color="#ffb700"/><stop offset="67.0%" stop-color="#ffb900"/><stop offset="68.1%" stop-color="#ffb500"/><stop offset="69.2%" stop-color="#ffb600"/><stop offset="70.3%" stop-color="#ffbd00"/><stop offset="71.4%" stop-color="#ffb800"/><stop offset="72.5%" stop-color="#ffb600"/><stop offset="73.6%" stop-color="#ffb900"/><stop offset="74.7%" stop-color="#ffb600"/><stop offset="75.8%" stop-color="#ffba00"/><stop offset="76.9%" stop-color="#ffb400"/><stop offset="78.0%" stop-color="#ffbb00"/><stop offset="79.1%" stop-color="#ffbb00"/><stop offset="80.2%" stop-color="#ffbe01"/><stop offset="81.3%" stop-color="#ffb800"/><stop offset="82.4%" stop-color="#ffb800"/><stop offset="83.5%" stop-color="#ffb100"/><stop offset="84.6%" stop-color="#ffb800"/><stop offset="85.7%" stop-color="#ffba00"/><stop offset="86.8%" stop-color="#ffc002"/><stop offset="87.9%" stop-color="#ffb600"/><stop offset="89.0%" stop-color="#ffb600"/><stop offset="90.1%" stop-color="#ffbe01"/><stop offset="91.2%" stop-color="#ffb300"/><stop offset="92.3%" stop-color="#ffb400"/><stop offset="93.4%" stop-color="#ffb300"/><stop offset="94.5%" stop-color="#ffbc00"/><stop offset="95.6%" stop-color="#ffba00"/><stop offset="96.7%" stop-color="#ffb600"/><stop offset="97.8%" stop-color="#ffc002"/><stop offset="98.9%" stop-color="#ffbc00"/><stop offset="100.0%" stop-color="#ffbc00"/></linearGradient>
<linearGradient id="a25"><stop offset="0.0%" stop-color="#ffb200"/><stop offset="1.1%" stop-color="#ffba00"/><stop offset="2.2%" stop-color="#ffb300"/><stop offset="3.3%" stop-color="#ffb900"/><stop offset="4.4%" stop-color="#ffbc00"/><stop offset="5.5%" stop-color="#ffb600"/><stop offset="6.6%" stop-color="#ffba00"/><stop offset="7.7%" stop-color="#ffb600"/><stop offset="8.8%" stop-color="#ffb500"/><stop offset="9.9%" stop-color="#ffb300"/><stop offset="11.0%" stop-color="#ffb500"/><stop offset="12.1%" stop-color="#ffbb00"/><stop offset="13.2%" stop-color="#ffb700"/><stop offset="14.3%" stop-color="#ffb600"/><stop offset="15.4%" stop-color="#ffb900"/><stop offset="16.5%" stop-color="#ffb700"/><stop offset="17.6%" stop-color="#ffbb00"/><stop offset="18.7%" stop-color="#ffba00"/><stop offset="19.8%" stop-color="#ffb500"/><stop offset="20.9%" stop-color="#ffbb00"/><stop offset="22.0%" stop-color="#ffba00"/><stop offset="23.1%" stop-color="#ffad00"/><stop offset="24.2%" stop-color="#ffb600"/><stop offset="25.3%" stop-color="#ffbb00"/><stop offset="26.4%" stop-color="#ffbb00"/><stop offset="27.5%" stop-color="#ffb200"/><stop offset="28.6%" stop-color="#ffbc00"/><stop offset="29.7%" stop-color="#ffb900"/><stop offset="30.8%" stop-color="#ffb600"/><stop offset="31.9%" stop-color="#ffb700"/><stop offset="33.0%" stop-color="#ffb700"/><stop offset="34.1%" stop-color="#ffbb00"/><stop offset="35.2%" stop-color="#ffb600"/><stop offset="36.3%" stop-color="#ffb600"/><stop offset="37.4%" stop-color="#ffb700"/><stop offset="38.5%" stop-color="#ffb600"/><stop offset="39.6%" stop-color="#ffbc00"/><stop offset="40.7%" stop-color="#ffb200"/><stop offset="41.8%" stop-color="#ffba00"/><stop offset="42.9%" stop-color="#ffbc00"/><stop offset="44.0%" stop-color="#ffb800"/><stop offset="45.1%" stop-color="#ffb700"/><stop offset="46.2%" stop-color="#ffbd00"/><stop offset="47.3%" stop-color="#ffc002"/><stop offset="48.4%" stop-color="#ffbc00"/><stop offset="49.5%" stop-color="#ffb700"/><stop offset="50.5%" stop-color="#ffb700"/><stop offset="51.6%" stop-color="#ffb800"/><stop offset="52.7%" stop-color="#ffaf00"/><stop offset="53.8%" stop-color="#ffb200"/><stop offset="54.9%" stop-color="#ffb900"/><stop offset="56.0%" stop-color="#ffbb00"/><stop offset="57.1%" stop-color="#ffb300"/><stop offset="58.2%" stop-color="#ffb900"/><stop offset="59.3%" stop-color="#ffb400"/><stop offset="60.4%" stop-color="#ffb700"/><stop offset="61.5%" stop-color="#ffb300"/><stop offset="62.6%" stop-color="#ffbf01"/><stop offset="63.7%" stop-color="#ffb400"/><stop offset="64.8%" stop-color="#ffbc00"/><stop offset="65.9%" stop-color="#ffbb00"/><stop offset="67.0%" stop-color="#ffb400"/><stop offset="68.1%" stop-color="#ffb700"/><stop offset="69.2%" stop-color="#ffbc00"/><stop offset="70.3%" stop-color="#ffb900"/><stop offset="71.4%" stop-color="#ffb800"/><stop offset="72.5%" stop-color="#ffb700"/><stop offset="73.6%" stop-color="#ffb800"/><stop offset="74.7%" stop-color="#ffbc00"/><stop offset="75.8%" stop-color="#ffba00"/><stop offset="76.9%" stop-color="#ffb400"/><stop offset="78.0%" stop-color="#ffb700"/><stop offset="79.1%" stop-color="#ffb200"/><stop offset="80.2%" stop-color="#ffb800"/><stop offset="81.3%" stop-color="#ffbb00"/><stop offset="82.4%" stop-color="#ffb900"/><stop offset="83.5%" stop-color="#ffaf00"/><stop offset="84.6%" stop-color="#ffbb00"/><stop offset="85.7%" stop-color="#ffb700"/><stop offset="86.8%" stop-color="#ffbd00"/><stop offset="87.9%" stop-color="#ffb700"/><stop offset="89.0%" stop-color="#ffb600"/><stop offset="90.1%" stop-color="#ffb400"/><stop offset="91.2%" stop-color="#ffb300"/><stop offset="92.3%" stop-color="#ffb600"/><stop offset="93.4%" stop-color="#ffb600"/><stop offset="94.5%" stop-color="#ffbe01"/><stop offset="95.6%" stop-color="#ffb700"/><stop offset="96.7%" stop-color="#ffb400"/><stop offset="97.8%" stop-color="#ffbb00"/><stop offset="98.9%" stop-color="#ffb900"/><stop offset="100.0%" stop-color="#ffbb00"/></linearGradient>
<linearGradient id="b0"><stop offset="0.0%" stop-color="#ffd50f"/><stop offset="1.1%" stop-color="#ffd710"/><stop offset="2.2%" stop-color="#ffd710"/><stop offset="3.3%" stop-color="#ffd60f"/><stop offset="4.4%" stop-color="#ffd810"/><stop offset="5.5%" stop-color="#ffd60f"/><stop offset="6.6%" stop-color="#ffd30d"/><stop offset="7.7%" stop-color="#ffd810"/><stop offset="8.8%" stop-color="#ffd20d"/><stop offset="9.9%" stop-color="#ffd00c"/><stop offset="11.0%" stop-color="#ffda12"/><stop offset="12.1%" stop-color="#ffd60f"/><stop offset="13.2%" stop-color="#ffd30d"/><stop offset="14.3%" stop-color="#ffd20c"/><stop offset="15.4%" stop-color="#ffd00c"/><stop offset="16.5%" stop-color="#ffda11"/><stop offset="17.6%" stop-color="#ffd710"/><stop offset="18.7%" stop-color="#ffd70f"/><stop offset="19.8%" stop-color="#ffd50f"/><stop offset="20.9%" stop-color="#ffd810"/><stop offset="22.0%" stop-color="#ffd60f"/><stop offset="23.1%" stop-color="#ffd40e"/><stop offset="24.2%" stop-color="#ffd30e"/><stop offset="25.3%" stop-color="#ffd911"/><stop offset="26.4%" stop-color="#ffd50e"/><stop offset="27.5%" stop-color="#ffd60f"/><stop offset="28.6%" stop-color="#ffd810"/><stop offset="29.6%" stop-color="#ffd70f"/><stop offset="30.7%" stop-color="#ffd60f"/><stop offset="31.8%" stop-color="#ffd30d"/><stop offset="32.9%" stop-color="#ffd810"/><stop offset="34.0%" stop-color="#ffd40e"/><stop offset="35.1%" stop-color="#ffd50f"/><stop offset="36.2%" stop-color="#ffd810"/><stop offset="37.3%" stop-color="#ffd60f"/><stop offset="38.4%" stop-color="#ffd60f"/><stop offset="39.5%" stop-color="#ffd911"/><stop offset="40.6%" stop-color="#ffd710"/><stop offset="41.7%" stop-color="#ffd810"/><stop offset="42.8%" stop-color="#ffd810"/><stop offset="43.9%" stop-color="#ffd911"/><stop offset="45.0%" stop-color="#ffd50e"/><stop offset="46.1%" stop-color="#ffd60f"/><stop offset="47.2%" stop-color="#ffd911"/><stop offset="48.3%" stop-color="#ffd20d"/><stop offset="49.4%" stop-color="#ffd710"/><stop offset="50.5%" stop-color="#ffd40e"/><stop offset="51.6%" stop-color="#ffd30d"/><stop offset="52.7%" stop-color="#ffd30d"/><stop offset="53.8%" stop-color="#ffd710"/><stop offset="54.9%" stop-color="#ffd20d"/><stop offset="56.0%" stop-color="#ffd00c"/><stop offset="57.1%" stop-color="#ffb200"/><stop offset="58.2%" stop-color="#fc7f00"/><stop offset="59.3%" stop-color="#fe9a00"/><stop offset="60.4%" stop-color="#ffcb09"/><stop offset="61.5%" stop-color="#ffd50e"/><stop offset="62.6%" stop-color="#ffd40e"/><stop offset="63.7%" stop-color="#ffd40e"/><stop offset="64.8%" stop-color="#ffdb12"/><stop offset="65.9%" stop-color="#ffd50e"/><stop offset="67.0%" stop-color="#ffdb12"/><stop offset="68.1%" stop-color="#ffd810"/><stop offset="69.2%" stop-color="#ffdf15"/><stop offset="70.3%" stop-color="#ffdd13"/><stop offset="71.4%" stop-color="#ffde14"/><stop offset="72.5%" stop-color="#ffdc13"/><stop offset="73.6%" stop-color="#ffdc13"/><stop offset="74.7%" stop-color="#ffde14"/><stop offset="75.8%" stop-color="#ffdd14"/><stop offset="76.9%" stop-color="#ffde14"/><stop offset="78.0%" stop-color="#ffe317"/><stop offset="79.1%" stop-color="#ffe116"/><stop offset="80.2%" stop-color="#ffe116"/><stop offset="81.3%" stop-color="#ffde14"/><stop offset="82.4%" stop-color="#ffe015"/><stop offset="83.5%" stop-color="#ffe116"/><stop offset="84.6%" stop-color="#ffdf15"/><stop offset="85.7%" stop-color="#ffe116"/><stop offset="86.7%" stop-color="#ffdf15"/><stop offset="87.8%" stop-color="#ffe418"/><stop offset="88.9%" stop-color="#ffdf14"/><stop offset="90.0%" stop-color="#ffde14"/><stop offset="91.1%" stop-color="#ffe217"/><stop offset="92.2%" stop-color="#ffe418"/><stop offset="93.3%" stop-color="#ffe216"/><stop offset="94.4%" stop-color="#ffe317"/><stop offset="95.5%" stop-color="#ffe317"/><stop offset="96.6%" stop-color="#ffe417"/><stop offset="97.7%" stop-color="#ffe518"/><stop offset="98.8%" stop-color="#ffdf15"/><stop offset="99.9%" stop-color="#ffe418"/><stop offset="100.0%" stop-color="#ffe619"/></linearGradient>
<linearGradient id="b1"><stop offset="0.0%" stop-color="#f7ef38"/><stop offset="1.1%" stop-color="#f6f03b"/><stop offset="2.2%" stop-color="#f6f03b"/><stop offset="3.3%" stop-color="#f7ef35"/><stop offset="4.4%" stop-color="#f8ee33"/><stop offset="5.5%" stop-color="#f5f13e"/><stop offset="6.6%" stop-color="#f7ef37"/><stop offset="7.7%" stop-color="#f4f141"/><stop offset="8.8%" stop-color="#f7ef38"/><stop offset="9.9%" stop-color="#f8ee32"/><stop offset="11.0%" stop-color="#f5f13f"/><stop offset="12.1%" stop-color="#f5f03c"/><stop offset="13.2%" stop-color="#f6f03a"/><stop offset="14.3%" stop-color="#f6f03c"/><stop offset="15.4%" stop-color="#f8ee32"/><stop offset="16.5%" stop-color="#f8ee33"/><stop offset="17.6%" stop-color="#f5f03c"/><stop offset="18.7%" stop-color="#f8ee33"/><stop offset="19.8%" stop-color="#f6f03b"/><stop offset="20.9%" stop-color="#f4f140"/><stop offset="22.0%" stop-color="#f6f03a"/><stop offset="23.1%" stop-color="#f7ef35"/><stop offset="24.2%" stop-color="#f7ef36"/><stop offset="25.3%" stop-color="#f5f03d"/><stop offset="26.4%" stop-color="#f9ed31"/><stop offset="27.5%" stop-color="#f6f03c"/><stop offset="28.6%" stop-color="#f6ef39"/><stop offset="29.6%" stop-color="#f5f03d"/><stop offset="30.7%" stop-color="#f6f03a"/><stop offset="31.8%" stop-color="#f5f13f"/><stop offset="32.9%" stop-color="#f4f141"/><stop offset="34.0%" stop-color="#f6f03c"/><stop offset="35.1%" stop-color="#f6f03b"/><stop offset="36.2%" stop-color="#f5f13f"/><stop offset="37.3%" stop-color="#f5f03c"/><stop offset="38.4%" stop-color="#f8ee32"/><stop offset="39.5%" stop-color="#f4f13f"/><stop offset="40.6%" stop-color="#f6f03a"/><stop offset="41.7%" stop-color="#f6f03a"/><stop offset="42.8%" stop-color="#f8ee34"/><stop offset="43.9%" stop-color="#f4f141"/><stop offset="45.0%" stop-color="#f8ee34"/><stop offset="46.1%" stop-color="#f6ef39"/><stop offset="47.2%" stop-color="#f8ee32"/><stop offset="48.3%" stop-color="#f7ee35"/><stop offset="49.4%" stop-color="#f9ed30"/><stop offset="50.5%" stop-color="#f8ee32"/><stop offset="51.6%" stop-color="#f9ed30"/><stop offset="52.7%" stop-color="#f8ee34"/><stop offset="53.8%" stop-color="#fbec2a"/><stop offset="54.9%" stop-color="#fcea24"/><stop offset="56.0%" stop-color="#fdea22"/><stop offset="57.1%" stop-color="#ffc404"/><stop offset="58.2%" stop-color="#fd8e00"/><stop offset="59.3%" stop-color="#ffac00"/><stop offset="60.4%" stop-color="#ffe518"/><stop offset="61.5%" stop-color="#fdea23"/><stop offset="62.6%" stop-color="#faed2e"/><stop offset="63.7%" stop-color="#faec2c"/><stop offset="64.8%" stop-color="#f9ed2e"/><stop offset="65.9%" stop-color="#faec2d"/><stop offset="67.0%" stop-color="#f9ed30"/><stop offset="68.1%" stop-color="#faec2c"/><stop offset="69.2%" stop-color="#f8ee35"/><stop offset="70.3%" stop-color="#f7ef37"/><stop offset="71.4%" stop-color="#f8ee33"/><stop offset="72.5%" stop-color="#f7ef35"/><stop offset="73.6%" stop-color="#f5f13e"/><stop offset="74.7%" stop-color="#f9ed30"/><stop offset="75.8%" stop-color="#f7ef36"/><stop offset="76.9%" stop-color="#f7ef37"/><stop offset="78.0%" stop-color="#f6f03b"/><stop offset="79.1%" stop-color="#f6f03a"/><stop offset="80.2%" stop-color="#f5f13e"/><stop offset="81.3%" stop-color="#f7ef38"/><stop offset="82.4%" stop-color="#f8ee33"/><stop offset="83.5%" stop-color="#f9ed31"/><stop offset="84.6%" stop-color="#f8ee32"/><stop offset="85.7%" stop-color="#f5f13e"/><stop offset="86.7%" stop-color="#f6f03b"/><stop offset="87.8%" stop-color="#f6f03a"/><stop offset="88.9%" stop-color="#f9ed2f"/><stop offset="90.0%" stop-color="#f6ef39"/><stop offset="91.1%" stop-color="#f5f03d"/><stop offset="92.2%" stop-color="#f3f244"/><stop offset="93.3%" stop-color="#f8ee34"/><stop offset="94.4%" stop-color="#f5f13e"/><stop offset="95.5%" stop-color="#f6ef38"/><stop offset="96.6%" stop-color="#f7ef36"/><stop offset="97.7%" stop-color="#f9ed2e"/><stop offset="98.8%" stop-color="#f8ee34"/><stop offset="99.9%" stop-color="#f6f03b"/><stop offset="100.0%" stop-color="#f6f03b"/></linearGradient>
<linearGradient id="b2"><stop offset="0.0%" stop-color="#f2f348"/><stop offset="1.1%" stop-color="#f2f349"/><stop offset="2.2%" stop-color="#f1f44d"/><stop offset="3.3%" stop-color="#f0f54f"/><stop offset="4.4%" stop-color="#eef656"/><stop offset="5.5%" stop-color="#f1f44b"/><stop offset="6.6%" stop-color="#f1f44c"/><stop offset="7.7%" stop-color="#f2f347"/><stop offset="8.8%" stop-color="#eff551"/><stop offset="9.9%" stop-color="#f3f346"/><stop offset="11.0%" stop-color="#eff652"/><stop offset="12.1%" stop-color="#f0f54f"/><stop offset="13.2%" stop-color="#f4f243"/><stop offset="14.3%" stop-color="#f2f348"/><stop offset="15.4%" stop-color="#f2f348"/><stop offset="16.5%" stop-color="#f1f44b"/><stop offset="17.6%" stop-color="#f0f44e"/><stop offset="18.7%" stop-color="#f0f44e"/><stop offset="19.8%" stop-color="#f0f550"/><stop offset="20.9%" stop-color="#f3f346"/><stop offset="22.0%" stop-color="#f0f54e"/><stop offset="23.1%" stop-color="#f2f349"/><stop offset="24.2%" stop-color="#f3f346"/><stop offset="25.3%" stop-color="#f0f54f"/><stop offset="26.4%" stop-color="#f1f44b"/><stop offset="27.5%" stop-color="#eff654"/><stop offset="28.6%" stop-color="#f1f44d"/><stop offset="29.6%" stop-color="#eff551"/><stop offset="30.7%" stop-color="#f1f44b"/><stop offset="31.8%" stop-color="#f3f246"/><stop offset="32.9%" stop-color="#eff654"/><stop offset="34.0%" stop-color="#f1f44b"/><stop offset="35.1%" stop-color="#eef655"/><stop offset="36.2%" stop-color="#f0f54f"/><stop offset="37.3%" stop-color="#f1f44d"/><stop offset="38.4%" stop-color="#f3f245"/><stop offset="39.5%" stop-color="#f0f550"/><stop offset="40.6%" stop-color="#eff653"/><stop offset="41.7%" stop-color="#eff654"/><stop offset="42.8%" stop-color="#f4f141"/><stop offset="43.9%" stop-color="#f1f44c"/><stop offset="45.0%" stop-color="#f2f347"/><stop offset="46.1%" stop-color="#f5f13e"/><stop offset="47.2%" stop-color="#f2f349"/><stop offset="48.3%" stop-color="#f1f44d"/><stop offset="49.4%" stop-color="#f2f347"/><stop offset="50.5%" stop-color="#f2f347"/><stop offset="51.6%" stop-color="#f6f03b"/><stop offset="52.7%" stop-color="#f3f346"/><stop offset="53.8%" stop-color="#f5f03d"/><stop offset="54.9%" stop-color="#f6f03c"/><stop offset="56.0%" stop-color="#f7ef37"/><stop offset="57.1%" stop-color="#ffd00b"/><stop offset="58.2%" stop-color="#fe9500"/><stop offset="59.3%" stop-color="#ffb400"/><stop offset="60.4%" stop-color="#f9ed2e"/><stop offset="61.5%" stop-color="#f4f140"/><stop offset="62.6%" stop-color="#f4f242"/><stop offset="63.7%" stop-color="#f4f141"/><stop offset="64.8%" stop-color="#f5f13f"/><stop offset="65.9%" stop-color="#f4f243"/><stop offset="67.0%" stop-color="#f4f242"/><stop offset="68.1%" stop-color="#f3f243"/><stop offset="69.2%" stop-color="#f4f141"/><stop offset="70.3%" stop-color="#f1f44b"/><stop offset="71.4%" stop-color="#f2f34a"/><stop offset="72.5%" stop-color="#f3f246"/><stop offset="73.6%" stop-color="#f1f44b"/><stop offset="74.7%" stop-color="#f2f348"/><stop offset="75.8%" stop-color="#f4f243"/><stop offset="76.9%" stop-color="#f2f349"/><stop offset="78.0%" stop-color="#f0f551"/><stop offset="79.1%" stop-color="#f2f348"/><stop offset="80.2%" stop-color="#f2f34a"/><stop offset="81.3%" stop-color="#f1f44c"/><stop offset="82.4%" stop-color="#f0f550"/><stop offset="83.5%" stop-color="#f2f349"/><stop offset="84.6%" stop-color="#f0f550"/><stop offset="85.7%" stop-color="#eff652"/><stop offset="86.7%" stop-color="#eff552"/><stop offset="87.8%" stop-color="#f0f550"/><stop offset="88.9%" stop-color="#f3f245"/><stop offset="90.0%" stop-color="#f0f54f"/><stop offset="91.1%" stop-color="#f0f54e"/><stop offset="92.2%" stop-color="#eff654"/><stop offset="93.3%" stop-color="#eff653"/><stop offset="94.4%" stop-color="#f1f44d"/><stop offset="95.5%" stop-color="#f1f44b"/><stop offset="96.6%" stop-color="#f1f44b"/><stop offset="97.7%" stop-color="#f1f44b"/><stop offset="98.8%" stop-color="#f2f349"/><stop offset="99.9%" stop-color="#edf759"/><stop offset="100.0%" stop-color="#f1f44c"/></linearGradient>
<linearGradient id="b3"><stop offset="0.0%" stop-color="#f3f244"/><stop offset="1.1%" stop-color="#f1f44a"/><stop offset="2.2%" stop-color="#f1f44c"/><stop offset="3.3%" stop-color="#f2f348"/><stop offset="4.4%" stop-color="#f4f243"/><stop offset="5.5%" stop-color="#f1f44b"/><stop offset="6.6%" stop-color="#f4f242"/><stop offset="7.7%" stop-color="#f2f349"/><stop offset="8.8%" stop-color="#f2f349"/><stop offset="9.9%" stop-color="#f2f348"/><stop offset="11.0%" stop-color="#f0f551"/><stop offset="12.1%" stop-color="#f0f550"/><stop offset="13.2%" stop-color="#f2f347"/><stop offset="14.3%" stop-color="#f1f44a"/><stop offset="15.4%" stop-color="#f1f44c"/><stop offset="16.5%" stop-color="#f0f551"/><stop offset="17.6%" stop-color="#f0f550"/><stop offset="18.7%" stop-color="#f3f346"/><stop offset="19.8%" stop-color="#f0f54e"/><stop offset="20.9%" stop-color="#f1f44d"/><stop offset="22.0%" stop-color="#eff655"/><stop offset="23.1%" stop-color="#f0f550"/><stop offset="24.2%" stop-color="#f3f346"/><stop offset="25.3%" stop-color="#f0f550"/><stop offset="26.4%" stop-color="#f2f34a"/><stop offset="27.5%" stop-color="#f3f346"/><stop offset="28.6%" stop-color="#f3f346"/><stop offset="29.6%" stop-color="#f0f54f"/><stop offset="30.7%" stop-color="#f2f348"/><stop offset="31.8%" stop-color="#f2f34a"/><stop offset="32.9%" stop-color="#f0f44e"/><stop offset="34.0%" stop-color="#f3f245"/><stop offset="35.1%" stop-color="#eff654"/><stop offset="36.2%" stop-color="#f1f44b"/><stop offset="37.3%" stop-color="#eff654"/><stop offset="38.4%" stop-color="#f0f550"/><stop offset="39.5%" stop-color="#f2f34a"/><stop offset="40.6%" stop-color="#f1f44d"/><stop offset="41.7%" stop-color="#f1f44d"/><stop offset="42.8%" stop-color="#f1f44b"/><stop offset="43.9%" stop-color="#f0f551"/><stop offset="45.0%" stop-color="#f1f44b"/><stop offset="46.1%" stop-color="#f2f348"/><stop offset="47.2%" stop-color="#f3f246"/><stop offset="48.3%" stop-color="#f5f13e"/><stop offset="49.4%" stop-color="#f4f243"/><stop offset="50.5%" stop-color="#f3f244"/><stop offset="51.6%" stop-color="#f2f347"/><stop offset="52.7%" stop-color="#f5f13f"/><stop offset="53.8%" stop-color="#f5f13f"/><stop offset="54.9%" stop-color="#f4f141"/><stop offset="56.0%" stop-color="#f9ed2f"/><stop offset="57.1%" stop-color="#ffd00b"/><stop offset="58.2%" stop-color="#fe9600"/><stop offset="59.3%" stop-color="#ffb400"/><stop offset="60.4%" stop-color="#faec2c"/><stop offset="61.5%" stop-color="#f6ef39"/><stop offset="62.6%" stop-color="#f4f142"/><stop offset="63.7%" stop-color="#f5f03d"/><stop offset="64.8%" stop-color="#f5f03d"/><stop offset="65.9%" stop-color="#f6f03b"/><stop offset="67.0%" stop-color="#f4f142"/><stop offset="68.1%" stop-color="#f4f242"/><stop offset="69.2%" stop-color="#f1f44a"/><stop offset="70.3%" stop-color="#f3f244"/><stop offset="71.4%" stop-color="#f4f141"/><stop offset="72.5%" stop-color="#f1f44c"/><stop offset="73.6%" stop-color="#f3f246"/><stop offset="74.7%" stop-color="#f2f349"/><stop offset="75.8%" stop-color="#f1f44d"/><stop offset="76.9%" stop-color="#f1f44d"/><stop offset="78.0%" stop-color="#f1f44c"/><stop offset="79.1%" stop-color="#f3f346"/><stop offset="80.2%" stop-color="#f2f348"/><stop offset="81.3%" stop-color="#f1f44b"/><stop offset="82.4%" stop-color="#f0f44e"/><stop offset="83.5%" stop-color="#f3f245"/><stop offset="84.6%" stop-color="#f2f348"/><stop offset="85.7%" stop-color="#eef655"/><stop offset="86.7%" stop-color="#f1f44b"/><stop offset="87.8%" stop-color="#eff654"/><stop offset="88.9%" stop-color="#f3f245"/><stop offset="90.0%" stop-color="#f1f44a"/><stop offset="91.1%" stop-color="#f2f349"/><stop offset="92.2%" stop-color="#f1f44b"/><stop offset="93.3%" stop-color="#f1f44a"/><stop offset="94.4%" stop-color="#f0f54f"/><stop offset="95.5%" stop-color="#eff551"/><stop offset="96.6%" stop-color="#f2f349"/><stop offset="97.7%" stop-color="#f1f44c"/><stop offset="98.8%" stop-color="#f0f44e"/><stop offset="99.9%" stop-color="#eef656"/><stop offset="100.0%" stop-color="#f1f44c"/></linearGradient>
<linearGradient id="b4"><stop offset="0.0%" stop-color="#f5f03d"/><stop offset="1.1%" stop-color="#f2f347"/><stop offset="2.2%" stop-color="#f1f44d"/><stop offset="3.3%" stop-color="#f2f347"/><stop offset="4.4%" stop-color="#eef655"/><stop offset="5.5%" stop-color="#f1f44d"/><stop offset="6.6%" stop-color="#f4f141"/><stop offset="7.7%" stop-color="#f3f245"/><stop offset="8.8%" stop-color="#f0f551"/><stop offset="9.9%" stop-color="#f5f13e"/><stop offset="11.0%" stop-color="#f2f349"/><stop offset="12.1%" stop-color="#f3f244"/><stop offset="13.2%" stop-color="#f2f347"/><stop offset="14.3%" stop-color="#f3f245"/><stop offset="15.4%" stop-color="#f2f348"/><stop offset="16.5%" stop-color="#f2f349"/><stop offset="17.6%" stop-color="#f3f243"/><stop offset="18.7%" stop-color="#f1f44c"/><stop offset="19.8%" stop-color="#f2f348"/><stop offset="20.9%" stop-color="#f1f44c"/><stop offset="22.0%" stop-color="#f2f348"/><stop offset="23.1%" stop-color="#f3f244"/><stop offset="24.2%" stop-color="#f0f550"/><stop offset="25.3%" stop-color="#f2f349"/><stop offset="26.4%" stop-color="#f4f242"/><stop offset="27.5%" stop-color="#f1f44c"/><stop offset="28.6%" stop-color="#f1f44c"/><stop offset="29.6%" stop-color="#f0f54f"/><stop offset="30.7%" stop-color="#f1f44a"/><stop offset="31.8%" stop-color="#f2f347"/><stop offset="32.9%" stop-color="#f4f243"/><stop offset="34.0%" stop-color="#f2f347"/><stop offset="35.1%" stop-color="#f3f245"/><stop offset="36.2%" stop-color="#f3f243"/><stop offset="37.3%" stop-color="#f3f243"/><stop offset="38.4%" stop-color="#f3f346"/><stop offset="39.5%" stop-color="#f3f244"/><stop offset="40.6%" stop-color="#f4f243"/><stop offset="41.7%" stop-color="#f3f245"/><stop offset="42.8%" stop-color="#f3f244"/><stop offset="43.9%" stop-color="#f1f44d"/><stop offset="45.0%" stop-color="#f2f348"/><stop offset="46.1%" stop-color="#f4f141"/><stop offset="47.2%" stop-color="#f3f245"/><stop offset="48.3%" stop-color="#f2f348"/><stop offset="49.4%" stop-color="#f4f140"/><stop offset="50.5%" stop-color="#f5f03d"/><stop offset="51.6%" stop-color="#f5f13e"/><stop offset="52.7%" stop-color="#f5f13f"/><stop offset="53.8%" stop-color="#f9ed31"/><stop offset="54.9%" stop-color="#f8ee32"/><stop offset="56.0%" stop-color="#f7ef37"/><stop offset="57.1%" stop-color="#ffcf0b"/><stop offset="58.2%" stop-color="#fe9300"/><stop offset="59.3%" stop-color="#ffb100"/><stop offset="60.4%" stop-color="#fcea24"/><stop offset="61.5%" stop-color="#f6ef39"/><stop offset="62.6%" stop-color="#f6f03b"/><stop offset="63.7%" stop-color="#f6f03b"/><stop offset="64.8%" stop-color="#f4f140"/><stop offset="65.9%" stop-color="#f5f03c"/><stop offset="67.0%" stop-color="#f1f44c"/><stop offset="68.1%" stop-color="#f4f141"/><stop offset="69.2%" stop-color="#f4f140"/><stop offset="70.3%" stop-color="#f2f347"/><stop offset="71.4%" stop-color="#f2f347"/><stop offset="72.5%" stop-color="#f5f13e"/><stop offset="73.6%" stop-color="#f4f140"/><stop offset="74.7%" stop-color="#f3f245"/><stop offset="75.8%" stop-color="#f3f245"/><stop offset="76.9%" stop-color="#f3f346"/><stop offset="78.0%" stop-color="#f1f44d"/><stop offset="79.1%" stop-color="#f2f349"/><stop offset="80.2%" stop-color="#f1f44a"/><stop offset="81.3%" stop-color="#f3f244"/><stop offset="82.4%" stop-color="#f2f34a"/><stop offset="83.5%" stop-color="#f1f44b"/><stop offset="84.6%" stop-color="#f1f44b"/><stop offset="85.7%" stop-color="#f1f44b"/><stop offset="86.7%" stop-color="#f0f44e"/><stop offset="87.8%" stop-color="#eef757"/><stop offset="88.9%" stop-color="#f5f13e"/><stop offset="90.0%" stop-color="#f2f347"/><stop offset="91.1%" stop-color="#f1f44b"/><stop offset="92.2%" stop-color="#f0f54e"/><stop offset="93.3%" stop-color="#f2f347"/><stop offset="94.4%" stop-color="#f4f242"/><stop offset="95.5%" stop-color="#f1f44c"/><stop offset="96.6%" stop-color="#f2f348"/><stop offset="97.7%" stop-color="#f1f44d"/><stop offset="98.8%" stop-color="#f4f243"/><stop offset="99.9%" stop-color="#f0f54f"/><stop offset="100.0%" stop-color="#eff653"/></linearGradient>
<linearGradient id="b5"><stop offset="0.0%" stop-color="#fbeb27"/><stop offset="1.1%" stop-color="#faec2c"/><stop offset="2.2%" stop-color="#faec2a"/><stop offset="3.3%" stop-color="#faec2d"/><stop offset="4.4%" stop-color="#fceb26"/><stop offset="5.5%" stop-color="#fbec2a"/><stop offset="6.6%" stop-color="#fde920"/><stop offset="7.7%" stop-color="#faec2c"/><stop offset="8.8%" stop-color="#fcea24"/><stop offset="9.9%" stop-color="#fceb25"/><stop offset="11.0%" stop-color="#faec2d"/><stop offset="12.1%" stop-color="#fceb25"/><stop offset="13.2%" stop-color="#f9ed2e"/><stop offset="14.3%" stop-color="#faec2b"/><stop offset="15.4%" stop-color="#fee91d"/><stop offset="16.5%" stop-color="#f8ee32"/><stop offset="17.6%" stop-color="#faec2b"/><stop offset="18.7%" stop-color="#fbeb28"/><stop offset="19.8%" stop-color="#fceb25"/><stop offset="20.9%" stop-color="#f9ed2e"/><stop offset="22.0%" stop-color="#faed2d"/><stop offset="23.1%" stop-color="#f9ed2e"/><stop offset="24.2%" stop-color="#fbec2a"/><stop offset="25.3%" stop-color="#fbeb28"/><stop offset="26.4%" stop-color="#fbeb27"/><stop offset="27.5%" stop-color="#faec2b"/><stop offset="28.6%" stop-color="#faec2b"/><stop offset="29.6%" stop-color="#f9ed2f"/><stop offset="30.7%" stop-color="#fbeb27"/><stop offset="31.8%" stop-color="#fbec2a"/><stop offset="32.9%" stop-color="#f9ed2f"/><stop offset="34.0%" stop-color="#fbeb28"/><stop offset="35.1%" stop-color="#f8ee31"/><stop offset="36.2%" stop-color="#fcea24"/><stop offset="37.3%" stop-color="#fdea21"/><stop offset="38.4%" stop-color="#fdea22"/><stop offset="39.5%" stop-color="#fde91f"/><stop offset="40.6%" stop-color="#f9ed30"/><stop offset="41.7%" stop-color="#faec2b"/><stop offset="42.8%" stop-color="#faec2b"/><stop offset="43.9%" stop-color="#f9ed2e"/><stop offset="45.0%" stop-color="#faed2d"/><stop offset="46.1%" stop-color="#fbec29"/><stop offset="47.2%" stop-color="#fcea24"/><stop offset="48.3%" stop-color="#fee91f"/><stop offset="49.4%" stop-color="#fee91d"/><stop offset="50.5%" stop-color="#ffe81b"/><stop offset="51.6%" stop-color="#fee91e"/><stop offset="52.7%" stop-color="#fdea21"/><stop offset="53.8%" stop-color="#fee81c"/><stop offset="54.9%" stop-color="#ffe518"/><stop offset="56.0%" stop-color="#ffe217"/><stop offset="57.1%" stop-color="#ffc102"/><stop offset="58.2%" stop-color="#fd8a00"/><stop offset="59.3%" stop-color="#ffa900"/><stop offset="60.4%" stop-color="#ffdc13"/><stop offset="61.5%" stop-color="#ffe719"/><stop offset="62.6%" stop-color="#fee91d"/><stop offset="63.7%" stop-color="#fee91e"/><stop offset="64.8%" stop-color="#ffe81b"/><stop offset="65.9%" stop-color="#fceb26"/><stop offset="67.0%" stop-color="#fdea22"/><stop offset="68.1%" stop-color="#fdea22"/><stop offset="69.2%" stop-color="#fbeb28"/><stop offset="70.3%" stop-color="#fcea24"/><stop offset="71.4%" stop-color="#fdea21"/><stop offset="72.5%" stop-color="#ffe81b"/><stop offset="73.6%" stop-color="#fceb25"/><stop offset="74.7%" stop-color="#fcea23"/><stop offset="75.8%" stop-color="#fbeb27"/><stop offset="76.9%" stop-color="#faed2d"/><stop offset="78.0%" stop-color="#fbeb28"/><stop offset="79.1%" stop-color="#fdea21"/><stop offset="80.2%" stop-color="#faec2d"/><stop offset="81.3%" stop-color="#fbeb28"/><stop offset="82.4%" stop-color="#fcea24"/><stop offset="83.5%" stop-color="#fceb25"/><stop offset="84.6%" stop-color="#f9ed31"/><stop offset="85.7%" stop-color="#fbeb28"/><stop offset="86.7%" stop-color="#faec2b"/><stop offset="87.8%" stop-color="#faec2b"/><stop offset="88.9%" stop-color="#fbec29"/><stop offset="90.0%" stop-color="#fceb26"/><stop offset="91.1%" stop-color="#fceb26"/><stop offset="92.2%" stop-color="#f9ed30"/><stop offset="93.3%" stop-color="#fbeb29"/><stop offset="94.4%" stop-color="#faec2b"/><stop offset="95.5%" stop-color="#faec2d"/><stop offset="96.6%" stop-color="#f9ed2e"/><stop offset="97.7%" stop-color="#faec2d"/><stop offset="98.8%" stop-color="#fbeb28"/><stop offset="99.9%" stop-color="#fceb26"/><stop offset="100.0%" stop-color="#f9ed2e"/></linearGradient>
<linearGradient id="b6"><stop offset="0.0%" stop-color="#f1f44a"/><stop offset="1.1%" stop-color="#f3f245"/><stop offset="2.2%" stop-color="#f2f34a"/><stop offset="3.3%" stop-color="#f3f244"/><stop offset="4.4%" stop-color="#f2f34a"/><stop offset="5.5%" stop-color="#f3f246"/><stop offset="6.6%" stop-color="#f3f245"/><stop offset="7.7%" stop-color="#f1f44c"/><stop offset="8.8%" stop-color="#f2f348"/><stop offset="9.9%" stop-color="#f4f243"/><stop offset="11.0%" stop-color="#f1f44b"/><stop offset="12.1%" stop-color="#f3f244"/><stop offset="13.2%" stop-color="#f1f44d"/><stop offset="14.3%" stop-color="#f3f244"/><stop offset="15.4%" stop-color="#f3f346"/><stop offset="16.5%" stop-color="#f1f44b"/><stop offset="17.6%" stop-color="#f3f245"/><stop offset="18.7%" stop-color="#f2f348"/><stop offset="19.8%" stop-color="#f1f44c"/><stop offset="20.9%" stop-color="#f2f347"/><stop offset="22.0%" stop-color="#f1f44c"/><stop offset="23.1%" stop-color="#f3f244"/><stop offset="24.2%" stop-color="#f4f142"/><stop offset="25.3%" stop-color="#f1f44c"/><stop offset="26.4%" stop-color="#f1f44b"/><stop offset="27.5%" stop-color="#f2f349"/><stop offset="28.6%" stop-color="#f2f347"/><stop offset="29.6%" stop-color="#f1f44d"/><stop offset="30.7%" stop-color="#f1f44a"/><stop offset="31.8%" stop-color="#f1f44d"/><stop offset="32.9%" stop-color="#f1f44d"/><stop offset="34.0%" stop-color="#f1f44d"/><stop offset="35.1%" stop-color="#f2f349"/><stop offset="36.2%" stop-color="#f2f347"/><stop offset="37.3%" stop-color="#f3f245"/><stop offset="38.4%" stop-color="#f2f347"/><stop offset="39.5%" stop-color="#f4f140"/><stop offset="40.6%" stop-color="#f1f44b"/><stop offset="41.7%" stop-color="#f2f348"/><stop offset="42.8%" stop-color="#f2f347"/><stop offset="43.9%" stop-color="#f2f348"/><stop offset="45.0%" stop-color="#f4f140"/><stop offset="46.1%" stop-color="#f5f13f"/><stop offset="47.2%" stop-color="#f4f141"/><stop offset="48.3%" stop-color="#f4f243"/><stop offset="49.4%" stop-color="#f5f13f"/><stop offset="50.5%" stop-color="#f7ef37"/><stop offset="51.6%" stop-color="#f5f13e"/><stop offset="52.7%" stop-color="#f5f03d"/><stop offset="53.8%" stop-color="#f6f03b"/><stop offset="54.9%" stop-color="#f7ef37"/><stop offset="56.0%" stop-color="#f9ed30"/><stop offset="57.1%" stop-color="#ffcb09"/><stop offset="58.2%" stop-color="#fe9300"/><stop offset="59.3%" stop-color="#ffb200"/><stop offset="60.4%" stop-color="#fbeb28"/><stop offset="61.5%" stop-color="#f5f03d"/><stop offset="62.6%" stop-color="#f9ed30"/><stop offset="63.7%" stop-color="#f6f03b"/><stop offset="64.8%" stop-color="#f6f03b"/><stop offset="65.9%" stop-color="#f4f140"/><stop offset="67.0%" stop-color="#f5f13f"/><stop offset="68.1%" stop-color="#f4f140"/><stop offset="69.2%" stop-color="#f3f244"/><stop offset="70.3%" stop-color="#f5f13e"/><stop offset="71.4%" stop-color="#f3f244"/><stop offset="72.5%" stop-color="#f3f244"/><stop offset="73.6%" stop-color="#f3f244"/><stop offset="74.7%" stop-color="#f4f242"/><stop offset="75.8%" stop-color="#f3f245"/><stop offset="76.9%" stop-color="#f3f243"/><stop offset="78.0%" stop-color="#f0f54f"/><stop offset="79.1%" stop-color="#f0f54f"/><stop offset="80.2%" stop-color="#f1f44c"/><stop offset="81.3%" stop-color="#f2f34a"/><stop offset="82.4%" stop-color="#f1f44c"/><stop offset="83.5%" stop-color="#f3f245"/><stop offset="84.6%" stop-color="#f4f141"/><stop offset="85.7%" stop-color="#f0f54f"/><stop offset="86.7%" stop-color="#f2f348"/><stop offset="87.8%" stop-color="#f1f44c"/><stop offset="88.9%" stop-color="#f2f347"/><stop offset="90.0%" stop-color="#f1f44c"/><stop offset="91.1%" stop-color="#f2f347"/><stop offset="92.2%" stop-color="#f1f44a"/><stop offset="93.3%" stop-color="#f1f44b"/><stop offset="94.4%" stop-color="#f2f348"/><stop offset="95.5%" stop-color="#f2f349"/><stop offset="96.6%" stop-color="#f0f54e"/><stop offset="97.7%" stop-color="#f2f349"/><stop offset="98.8%" stop-color="#f4f243"/><stop offset="99.9%" stop-color="#f4f243"/><stop offset="100.0%" stop-color="#f0f551"/></linearGradient>
<linearGradient id="b7"><stop offset="0.0%" stop-color="#f1f44d"/><stop offset="1.1%" stop-color="#f0f44e"/><stop offset="2.2%" stop-color="#eff552"/><stop offset="3.3%" stop-color="#f0f44e"/><stop offset="4.4%" stop-color="#f0f44e"/><stop offset="5.5%" stop-color="#f0f44e"/><stop offset="6.6%" stop-color="#f2f349"/><stop offset="7.7%" stop-color="#f1f44b"/><stop offset="8.8%" stop-color="#eff652"/><stop offset="9.9%" stop-color="#f3f245"/><stop offset="11.0%" stop-color="#edf758"/><stop offset="12.1%" stop-color="#f3f245"/><stop offset="13.2%" stop-color="#f3f346"/><stop offset="14.3%" stop-color="#f1f44b"/><stop offset="15.4%" stop-color="#f3f243"/><stop offset="16.5%" stop-color="#f0f54e"/><stop offset="17.6%" stop-color="#f2f349"/><stop offset="18.7%" stop-color="#f2f349"/><stop offset="19.8%" stop-color="#f1f44c"/><stop offset="20.9%" stop-color="#f0f44e"/><stop offset="22.0%" stop-color="#f1f44d"/><stop offset="23.1%" stop-color="#f1f44c"/><stop offset="24.2%" stop-color="#f1f44c"/><stop offset="25.3%" stop-color="#eff652"/><stop offset="26.4%" stop-color="#eff552"/><stop offset="27.5%" stop-color="#f2f347"/><stop offset="28.6%" stop-color="#f1f44b"/><stop offset="29.6%" stop-color="#eef758"/><stop offset="30.7%" stop-color="#f2f348"/><stop offset="31.8%" stop-color="#f2f34a"/><stop offset="32.9%" stop-color="#eef655"/><stop offset="34.0%" stop-color="#f0f550"/><stop offset="35.1%" stop-color="#f0f54f"/><stop offset="36.2%" stop-color="#f3f244"/><stop offset="37.3%" stop-color="#f2f348"/><stop offset="38.4%" stop-color="#f3f246"/><stop offset="39.5%" stop-color="#f2f34a"/><stop offset="40.6%" stop-color="#f1f44b"/><stop offset="41.7%" stop-color="#eff653"/><stop offset="42.8%" stop-color="#f2f347"/><stop offset="43.9%" stop-color="#f1f44b"/><stop offset="45.0%" stop-color="#f1f44d"/><stop offset="46.1%" stop-color="#f3f245"/><stop offset="47.2%" stop-color="#f3f244"/><stop offset="48.3%" stop-color="#f5f03d"/><stop offset="49.4%" stop-color="#f5f13f"/><stop offset="50.5%" stop-color="#f3f245"/><stop offset="51.6%" stop-color="#f3f243"/><stop offset="52.7%" stop-color="#f4f242"/><stop offset="53.8%" stop-color="#f6ef39"/><stop offset="54.9%" stop-color="#f5f03d"/><stop offset="56.0%" stop-color="#f6ef39"/><stop offset="57.1%" stop-color="#ffd30d"/><stop offset="58.2%" stop-color="#fe9500"/><stop offset="59.3%" stop-color="#ffb200"/><stop offset="60.4%" stop-color="#faec2b"/><stop offset="61.5%" stop-color="#f4f140"/><stop offset="62.6%" stop-color="#f5f13e"/><stop offset="63.7%" stop-color="#f7ef38"/><stop offset="64.8%" stop-color="#f3f245"/><stop offset="65.9%" stop-color="#f4f242"/><stop offset="67.0%" stop-color="#f3f243"/><stop offset="68.1%" stop-color="#f4f140"/><stop offset="69.2%" stop-color="#f3f244"/><stop offset="70.3%" stop-color="#f3f244"/><stop offset="71.4%" stop-color="#f3f244"/><stop offset="72.5%" stop-color="#f3f244"/><stop offset="73.6%" stop-color="#f3f244"/><stop offset="74.7%" stop-color="#f2f347"/><stop offset="75.8%" stop-color="#f3f245"/><stop offset="76.9%" stop-color="#f1f44d"/><stop offset="78.0%" stop-color="#f0f54f"/><stop offset="79.1%" stop-color="#f0f54f"/><stop offset="80.2%" stop-color="#f0f54f"/><stop offset="81.3%" stop-color="#f1f44b"/><stop offset="82.4%" stop-color="#eff552"/><stop offset="83.5%" stop-color="#f1f44b"/><stop offset="84.6%" stop-color="#f1f44b"/><stop offset="85.7%" stop-color="#f1f44d"/><stop offset="86.7%" stop-color="#f0f54f"/><stop offset="87.8%" stop-color="#f0f54f"/><stop offset="88.9%" stop-color="#f4f242"/><stop offset="90.0%" stop-color="#f2f349"/><stop offset="91.1%" stop-color="#f0f551"/><stop offset="92.2%" stop-color="#eef757"/><stop offset="93.3%" stop-color="#f0f551"/><stop offset="94.4%" stop-color="#f0f54f"/><stop offset="95.5%" stop-color="#eef655"/><stop offset="96.6%" stop-color="#eff654"/><stop offset="97.7%" stop-color="#eff654"/><stop offset="98.8%" stop-color="#f2f34a"/><stop offset="99.9%" stop-color="#f2f348"/><stop offset="100.0%" stop-color="#f2f349"/></linearGradient>
<linearGradient id="b8"><stop offset="0.0%" stop-color="#f0f44e"/><stop offset="1.1%" stop-color="#f0f550"/><stop offset="2.2%" stop-color="#eef655"/><stop offset="3.3%" stop-color="#eff653"/><stop offset="4.4%" stop-color="#f0f44e"/><stop offset="5.5%" stop-color="#f1f44c"/><stop offset="6.6%" stop-color="#f1f44b"/><stop offset="7.7%" stop-color="#f1f44a"/><stop offset="8.8%" stop-color="#f1f44e"/><stop offset="9.9%" stop-color="#f3f243"/><stop offset="11.0%" stop-color="#eff552"/><stop offset="12.1%" stop-color="#f2f348"/><stop offset="13.2%" stop-color="#f1f44b"/><stop offset="14.3%" stop-color="#f2f349"/><stop offset="15.4%" stop-color="#f3f245"/><stop offset="16.5%" stop-color="#eff653"/><stop offset="17.6%" stop-color="#f0f44e"/><stop offset="18.7%" stop-color="#f1f44d"/><stop offset="19.8%" stop-color="#f0f54f"/><stop offset="20.9%" stop-color="#f1f44d"/><stop offset="22.0%" stop-color="#eff653"/><stop offset="23.1%" stop-color="#f0f551"/><stop offset="24.2%" stop-color="#f1f44b"/><stop offset="25.3%" stop-color="#f0f44e"/><stop offset="26.4%" stop-color="#f0f44e"/><stop offset="27.5%" stop-color="#f2f349"/><stop offset="28.6%" stop-color="#f1f44c"/><stop offset="29.6%" stop-color="#f0f54f"/><stop offset="30.7%" stop-color="#f2f347"/><stop offset="31.8%" stop-color="#f0f54e"/><stop offset="32.9%" stop-color="#f3f245"/><stop offset="34.0%" stop-color="#f0f550"/><stop offset="35.1%" stop-color="#f0f44e"/><stop offset="36.2%" stop-color="#f2f348"/><stop offset="37.3%" stop-color="#f1f44b"/><stop offset="38.4%" stop-color="#f2f34a"/><stop offset="39.5%" stop-color="#f0f54e"/><stop offset="40.6%" stop-color="#f0f550"/><stop offset="41.7%" stop-color="#f0f54f"/><stop offset="42.8%" stop-color="#f3f244"/><stop offset="43.9%" stop-color="#f0f550"/><stop offset="45.0%" stop-color="#f3f246"/><stop offset="46.1%" stop-color="#f3f244"/><stop offset="47.2%" stop-color="#f2f34a"/><stop offset="48.3%" stop-color="#f3f346"/><stop offset="49.4%" stop-color="#f3f245"/><stop offset="50.5%" stop-color="#f2f349"/><stop offset="51.6%" stop-color="#f4f243"/><stop offset="52.7%" stop-color="#f5f13f"/><stop offset="53.8%" stop-color="#f4f140"/><stop offset="54.9%" stop-color="#f7ef37"/><stop offset="56.0%" stop-color="#f8ee33"/><stop offset="57.1%" stop-color="#ffd10c"/><stop offset="58.2%" stop-color="#fe9400"/><stop offset="59.3%" stop-color="#ffb300"/><stop offset="60.4%" stop-color="#fee91f"/><stop offset="61.5%" stop-color="#f4f141"/><stop offset="62.6%" stop-color="#f4f141"/><stop offset="63.7%" stop-color="#f4f140"/><stop offset="64.8%" stop-color="#f5f13e"/><stop offset="65.9%" stop-color="#f5f03d"/><stop offset="67.0%" stop-color="#f3f243"/><stop offset="68.1%" stop-color="#f3f243"/><stop offset="69.2%" stop-color="#f4f141"/><stop offset="70.3%" stop-color="#f3f243"/><stop offset="71.4%" stop-color="#f3f346"/><stop offset="72.5%" stop-color="#f1f44a"/><stop offset="73.6%" stop-color="#f0f44e"/><stop offset="74.7%" stop-color="#f2f348"/><stop offset="75.8%" stop-color="#f4f13f"/><stop offset="76.9%" stop-color="#f1f44d"/><stop offset="78.0%" stop-color="#eff655"/><stop offset="79.1%" stop-color="#f1f44b"/><stop offset="80.2%" stop-color="#eff654"/><stop offset="81.3%" stop-color="#f3f244"/><stop offset="82.4%" stop-color="#f0f551"/><stop offset="83.5%" stop-color="#f1f44a"/><stop offset="84.6%" stop-color="#f2f34a"/><stop offset="85.7%" stop-color="#f2f34a"/><stop offset="86.7%" stop-color="#f1f44c"/><stop offset="87.8%" stop-color="#eef758"/><stop offset="88.9%" stop-color="#f0f54f"/><stop offset="90.0%" stop-color="#f1f44b"/><stop offset="91.1%" stop-color="#eff655"/><stop offset="92.2%" stop-color="#f0f551"/><stop offset="93.3%" stop-color="#f0f550"/><stop offset="94.4%" stop-color="#f2f348"/><stop offset="95.5%" stop-color="#f2f348"/><stop offset="96.6%" stop-color="#eef757"/><stop offset="97.7%" stop-color="#f1f44c"/><stop offset="98.8%" stop-color="#f3f245"/><stop offset="99.9%" stop-color="#f0f551"/><stop offset="100.0%" stop-color="#eff552"/></linearGradient>
<linearGradient id="b9"><stop offset="0.0%" stop-color="#f1f44a"/><stop offset="1.1%" stop-color="#f1f44c"/><stop offset="2.2%" stop-color="#f1f44a"/><stop offset="3.3%" stop-color="#f3f243"/><stop offset="4.4%" stop-color="#f3f244"/><stop offset="5.5%" stop-color="#f2f34a"/><stop offset="6.6%" stop-color="#f2f348"/><stop offset="7.7%" stop-color="#f3f245"/><stop offset="8.8%" stop-color="#eff653"/><stop offset="9.9%" stop-color="#f2f349"/><stop offset="11.0%" stop-color="#f2f349"/><stop offset="12.1%" stop-color="#f5f13f"/><stop offset="13.2%" stop-color="#f2f349"/><stop offset="14.3%" stop-color="#f3f245"/><stop offset="15.4%" stop-color="#f2f348"/><stop offset="16.5%" stop-color="#f1f44a"/><stop offset="17.6%" stop-color="#f2f347"/><stop offset="18.7%" stop-color="#f1f44c"/><stop offset="19.8%" stop-color="#f2f348"/><stop offset="20.9%" stop-color="#f1f44b"/><stop offset="22.0%" stop-color="#f2f34a"/><stop offset="23.1%" stop-color="#f2f349"/><stop offset="24.2%" stop-color="#f1f44b"/><stop offset="25.3%" stop-color="#f1f44a"/><stop offset="26.4%" stop-color="#f3f243"/><stop offset="27.5%" stop-color="#f1f44d"/><stop offset="28.6%" stop-color="#f3f246"/><stop offset="29.6%" stop-color="#f1f44d"/><stop offset="30.7%" stop-color="#f2f347"/><stop offset="31.8%" stop-color="#f2f347"/><stop offset="32.9%" stop-color="#f1f44b"/><stop offset="34.0%" stop-color="#f1f44d"/><stop offset="35.1%" stop-color="#f2f348"/><stop offset="36.2%" stop-color="#f3f244"/><stop offset="37.3%" stop-color="#f1f44a"/><stop offset="38.4%" stop-color="#f2f347"/><stop offset="39.5%" stop-color="#f2f348"/><stop offset="40.6%" stop-color="#f2f348"/><stop offset="41.7%" stop-color="#f3f245"/><stop offset="42.8%" stop-color="#f2f348"/><stop offset="43.9%" stop-color="#f2f349"/><stop offset="45.0%" stop-color="#f3f245"/><stop offset="46.1%" stop-color="#f4f140"/><stop offset="47.2%" stop-color="#f4f141"/><stop offset="48.3%" stop-color="#f3f244"/><stop offset="49.4%" stop-color="#f2f349"/><stop offset="50.5%" stop-color="#f5f13f"/><stop offset="51.6%" stop-color="#f3f246"/><stop offset="52.7%" stop-color="#f7ef36"/><stop offset="53.8%" stop-color="#f5f03d"/><stop offset="54.9%" stop-color="#f7ef37"/><stop offset="56.0%" stop-color="#f9ed30"/><stop offset="57.1%" stop-color="#ffce0a"/><stop offset="58.2%" stop-color="#fe9400"/><stop offset="59.3%" stop-color="#ffb200"/><stop offset="60.4%" stop-color="#fdea21"/><stop offset="61.5%" stop-color="#f6f03a"/><stop offset="62.6%" stop-color="#f8ee33"/><stop offset="63.7%" stop-color="#f7ef38"/><stop offset="64.8%" stop-color="#f3f245"/><stop offset="65.9%" stop-color="#f6f03b"/><stop offset="67.0%" stop-color="#f2f347"/><stop offset="68.1%" stop-color="#f5f03d"/><stop offset="69.2%" stop-color="#f5f03c"/><stop offset="70.3%" stop-color="#f4f13f"/><stop offset="71.4%" stop-color="#f3f346"/><stop offset="72.5%" stop-color="#f2f349"/><stop offset="73.6%" stop-color="#f3f244"/><stop offset="74.7%" stop-color="#f5f13f"/><stop offset="75.8%" stop-color="#f3f245"/><stop offset="76.9%" stop-color="#f4f140"/><stop offset="78.0%" stop-color="#f1f44a"/><stop offset="79.1%" stop-color="#f2f348"/><stop offset="80.2%" stop-color="#f2f348"/><stop offset="81.3%" stop-color="#f4f13f"/><stop offset="82.4%" stop-color="#f1f44d"/><stop offset="83.5%" stop-color="#f2f348"/><stop offset="84.6%" stop-color="#f4f242"/><stop offset="85.7%" stop-color="#f2f347"/><stop offset="86.7%" stop-color="#f0f54f"/><stop offset="87.8%" stop-color="#f0f551"/><stop offset="88.9%" stop-color="#f2f349"/><stop offset="90.0%" stop-color="#f3f346"/><stop offset="91.1%" stop-color="#f1f44b"/><stop offset="92.2%" stop-color="#f3f346"/><stop offset="93.3%" stop-color="#f3f346"/><stop offset="94.4%" stop-color="#f3f346"/><stop offset="95.5%" stop-color="#f2f348"/><stop offset="96.6%" stop-color="#f2f347"/><stop offset="97.7%" stop-color="#f3f346"/><stop offset="98.8%" stop-color="#f3f244"/><stop offset="99.9%" stop-color="#f2f349"/><stop offset="100.0%" stop-color="#f2f349"/></linearGradient>
<linearGradient id="b10"><stop offset="0.0%" stop-color="#f6f03a"/><stop offset="1.1%" stop-color="#f6f03b"/><stop offset="2.2%" stop-color="#f4f141"/><stop offset="3.3%" stop-color="#f4f140"/><stop offset="4.4%" stop-color="#f5f03d"/><stop offset="5.5%" stop-color="#f7ef36"/><stop offset="6.6%" stop-color="#f8ee33"/><stop offset="7.7%" stop-color="#f3f243"/><stop offset="8.8%" stop-color="#f6f03b"/><stop offset="9.9%" stop-color="#f6f03a"/><stop offset="11.0%" stop-color="#f4f141"/><stop offset="12.1%" stop-color="#f5f03d"/><stop offset="13.2%" stop-color="#f6f03b"/><stop offset="14.3%" stop-color="#f6f03b"/><stop offset="15.4%" stop-color="#f6ef39"/><stop offset="16.5%" stop-color="#f5f13d"/><stop offset="17.6%" stop-color="#f4f140"/><stop offset="18.7%" stop-color="#f4f242"/><stop offset="19.8%" stop-color="#f4f242"/><stop offset="20.9%" stop-color="#f3f243"/><stop offset="22.0%" stop-color="#f5f13e"/><stop offset="23.1%" stop-color="#f4f140"/><stop offset="24.2%" stop-color="#f6f03b"/><stop offset="25.3%" stop-color="#f5f13f"/><stop offset="26.4%" stop-color="#f6ef38"/><stop offset="27.5%" stop-color="#f5f13e"/><stop offset="28.6%" stop-color="#f6f03b"/><stop offset="29.6%" stop-color="#f3f243"/><stop offset="30.7%" stop-color="#f6f039"/><stop offset="31.8%" stop-color="#f7ef38"/><stop offset="32.9%" stop-color="#f3f243"/><stop offset="34.0%" stop-color="#f5f03c"/><stop offset="35.1%" stop-color="#f6f03a"/><stop offset="36.2%" stop-color="#f6f03b"/><stop offset="37.3%" stop-color="#f5f13e"/><stop offset="38.4%" stop-color="#f8ee34"/><stop offset="39.5%" stop-color="#f6f03b"/><stop offset="40.6%" stop-color="#f6f03a"/><stop offset="41.7%" stop-color="#f2f349"/><stop offset="42.8%" stop-color="#f6f03a"/><stop offset="43.9%" stop-color="#f4f140"/><stop offset="45.0%" stop-color="#f7ef38"/><stop offset="46.1%" stop-color="#f8ee32"/><stop offset="47.2%" stop-color="#f6f03b"/><stop offset="48.3%" stop-color="#f7ef36"/><stop offset="49.4%" stop-color="#f4f140"/><stop offset="50.5%" stop-color="#f9ed2f"/><stop offset="51.6%" stop-color="#f9ed2f"/><stop offset="52.7%" stop-color="#f9ed30"/><stop offset="53.8%" stop-color="#f9ed30"/><stop offset="54.9%" stop-color="#fbec29"/><stop offset="56.0%" stop-color="#fdea22"/><stop offset="57.1%" stop-color="#ffc806"/><stop offset="58.2%" stop-color="#fd8d00"/><stop offset="59.3%" stop-color="#ffaf00"/><stop offset="60.4%" stop-color="#fee91f"/><stop offset="61.5%" stop-color="#faec2c"/><stop offset="62.6%" stop-color="#fbec29"/><stop offset="63.7%" stop-color="#f9ed30"/><stop offset="64.8%" stop-color="#f9ed30"/><stop offset="65.9%" stop-color="#f7ef35"/><stop offset="67.0%" stop-color="#f6f03a"/><stop offset="68.1%" stop-color="#f7ef36"/><stop offset="69.2%" stop-color="#f4f141"/><stop offset="70.3%" stop-color="#f7ef37"/><stop offset="71.4%" stop-color="#f8ee34"/><stop offset="72.5%" stop-color="#f7ef37"/><stop offset="73.6%" stop-color="#f5f03c"/><stop offset="74.7%" stop-color="#f6f03c"/><stop offset="75.8%" stop-color="#f5f13e"/><stop offset="76.9%" stop-color="#f5f13f"/><stop offset="78.0%" stop-color="#f5f03d"/><stop offset="79.1%" stop-color="#f8ee31"/><stop offset="80.2%" stop-color="#f4f140"/><stop offset="81.3%" stop-color="#f5f03c"/><stop offset="82.4%" stop-color="#f7ef38"/><stop offset="83.5%" stop-color="#f6f03b"/><stop offset="84.6%" stop-color="#f7ef38"/><stop offset="85.7%" stop-color="#f4f141"/><stop offset="86.7%" stop-color="#f4f13f"/><stop offset="87.8%" stop-color="#f5f13e"/><stop offset="88.9%" stop-color="#f6f03a"/><stop offset="90.0%" stop-color="#f4f242"/><stop offset="91.1%" stop-color="#f6f03a"/><stop offset="92.2%" stop-color="#f4f140"/><stop offset="93.3%" stop-color="#f4f140"/><stop offset="94.4%" stop-color="#f5f13f"/><stop offset="95.5%" stop-color="#f6f03c"/><stop offset="96.6%" stop-color="#f4f141"/><stop offset="97.7%" stop-color="#f5f13e"/><stop offset="98.8%" stop-color="#f8ee34"/><stop offset="99.9%" stop-color="#f5f13f"/><stop offset="100.0%" stop-color="#f5f03c"/></linearGradient>
<linearGradient id="b11"><stop offset="0.0%" stop-color="#f2f347"/><stop offset="1.1%" stop-color="#f3f244"/><stop offset="2.2%" stop-color="#f3f346"/><stop offset="3.3%" stop-color="#f5f03d"/><stop offset="4.4%" stop-color="#f3f346"/><stop offset="5.5%" stop-color="#f4f141"/><stop offset="6.6%" stop-color="#f4f242"/><stop offset="7.7%" stop-color="#f2f349"/><stop offset="8.8%" stop-color="#f2f348"/><stop offset="9.9%" stop-color="#f4f242"/><stop offset="11.0%" stop-color="#f3f245"/><stop offset="12.1%" stop-color="#f2f347"/><stop offset="13.2%" stop-color="#f4f242"/><stop offset="14.3%" stop-color="#f5f13e"/><stop offset="15.4%" stop-color="#f6f03b"/><stop offset="16.5%" stop-color="#f4f242"/><stop offset="17.6%" stop-color="#f5f03d"/><stop offset="18.7%" stop-color="#f2f349"/><stop offset="19.8%" stop-color="#f2f348"/><stop offset="20.9%" stop-color="#f3f245"/><stop offset="22.0%" stop-color="#f3f244"/><stop offset="23.1%" stop-color="#f4f242"/><stop offset="24.2%" stop-color="#f3f246"/><stop offset="25.3%" stop-color="#f2f348"/><stop offset="26.4%" stop-color="#f2f349"/><stop offset="27.5%" stop-color="#f4f243"/><stop offset="28.6%" stop-color="#f0f44e"/><stop offset="29.6%" stop-color="#f2f34a"/><stop offset="30.7%" stop-color="#f5f13e"/><stop offset="31.8%" stop-color="#f5f13f"/><stop offset="32.9%" stop-color="#f1f44c"/><stop offset="34.0%" stop-color="#f3f245"/><stop offset="35.1%" stop-color="#f2f349"/><stop offset="36.2%" stop-color="#f3f244"/><stop offset="37.3%" stop-color="#f5f13e"/><stop offset="38.4%" stop-color="#f4f242"/><stop offset="39.5%" stop-color="#f2f349"/><stop offset="40.6%" stop-color="#f1f44b"/><stop offset="41.7%" stop-color="#f3f244"/><stop offset="42.8%" stop-color="#f4f141"/><stop offset="43.9%" stop-color="#f1f44b"/><stop offset="45.0%" stop-color="#f2f347"/><stop offset="46.1%" stop-color="#f4f141"/><stop offset="47.2%" stop-color="#f3f244"/><stop offset="48.3%" stop-color="#f6f03a"/><stop offset="49.4%" stop-color="#f5f13f"/><stop offset="50.5%" stop-color="#f7ef38"/><stop offset="51.6%" stop-color="#f7ef37"/><stop offset="52.7%" stop-color="#f5f13f"/><stop offset="53.8%" stop-color="#f6ef39"/><stop offset="54.9%" stop-color="#faec2c"/><stop offset="56.0%" stop-color="#f9ed2f"/><stop offset="57.1%" stop-color="#ffcc09"/><stop offset="58.2%" stop-color="#fe9100"/><stop offset="59.3%" stop-color="#ffb100"/><stop offset="60.4%" stop-color="#fdea23"/><stop offset="61.5%" stop-color="#f6f03c"/><stop offset="62.6%" stop-color="#f8ee34"/><stop offset="63.7%" stop-color="#f7ef38"/><stop offset="64.8%" stop-color="#f6f03a"/><stop offset="65.9%" stop-color="#f3f245"/><stop offset="67.0%" stop-color="#f6ef39"/><stop offset="68.1%" stop-color="#f7ef38"/><stop offset="69.2%" stop-color="#f3f244"/><stop offset="70.3%" stop-color="#f6f03b"/><stop offset="71.4%" stop-color="#f2f348"/><stop offset="72.5%" stop-color="#f4f243"/><stop offset="73.6%" stop-color="#f2f347"/><stop offset="74.7%" stop-color="#f7ef36"/><stop offset="75.8%" stop-color="#f2f349"/><stop offset="76.9%" stop-color="#f3f346"/><stop offset="78.0%" stop-color="#f1f44b"/><stop offset="79.1%" stop-color="#f4f141"/><stop offset="80.2%" stop-color="#f4f140"/><stop offset="81.3%" stop-color="#f4f141"/><stop offset="82.4%" stop-color="#f3f245"/><stop offset="83.5%" stop-color="#f7ef38"/><stop offset="84.6%" stop-color="#f3f245"/><stop offset="85.7%" stop-color="#f3f346"/><stop offset="86.7%" stop-color="#f5f13f"/><stop offset="87.8%" stop-color="#f0f54e"/><stop offset="88.9%" stop-color="#f3f244"/><stop offset="90.0%" stop-color="#f4f141"/><stop offset="91.1%" stop-color="#f3f243"/><stop offset="92.2%" stop-color="#f1f44e"/><stop offset="93.3%" stop-color="#f3f246"/><stop offset="94.4%" stop-color="#f5f03c"/><stop offset="95.5%" stop-color="#f2f347"/><stop offset="96.6%" stop-color="#f4f243"/><stop offset="97.7%" stop-color="#f3f246"/><stop offset="98.8%" stop-color="#f3f243"/><stop offset="99.9%" stop-color="#f4f140"/><stop offset="100.0%" stop-color="#f3f244"/></linearGradient>
<linearGradient id="b12"><stop offset="0.0%" stop-color="#f4f141"/><stop offset="1.1%" stop-color="#f1f44b"/><stop offset="2.2%" stop-color="#f1f44c"/><stop offset="3.3%" stop-color="#f2f348"/><stop offset="4.4%" stop-color="#f2f348"/><stop offset="5.5%" stop-color="#f1f44a"/><stop offset="6.6%" stop-color="#f2f347"/><stop offset="7.7%" stop-color="#f3f244"/><stop offset="8.8%" stop-color="#f1f44d"/><stop offset="9.9%" stop-color="#f3f245"/><stop offset="11.0%" stop-color="#f1f44d"/><stop offset="12.1%" stop-color="#f2f34a"/><stop offset="13.2%" stop-color="#f1f44b"/><stop offset="14.3%" stop-color="#f2f348"/><stop offset="15.4%" stop-color="#f4f140"/><stop offset="16.5%" stop-color="#f1f44c"/><stop offset="17.6%" stop-color="#f1f44a"/><stop offset="18.7%" stop-color="#f4f242"/><stop offset="19.8%" stop-color="#f0f54f"/><stop offset="20.9%" stop-color="#f3f346"/><stop offset="22.0%" stop-color="#f1f44b"/><stop offset="23.1%" stop-color="#f1f44d"/><stop offset="24.2%" stop-color="#f2f349"/><stop offset="25.3%" stop-color="#f1f44d"/><stop offset="26.4%" stop-color="#f4f242"/><stop offset="27.5%" stop-color="#f3f346"/><stop offset="28.6%" stop-color="#f1f44c"/><stop offset="29.6%" stop-color="#eff653"/><stop offset="30.7%" stop-color="#f1f44d"/><stop offset="31.8%" stop-color="#f2f348"/><stop offset="32.9%" stop-color="#f0f54f"/><stop offset="34.0%" stop-color="#f1f44a"/><stop offset="35.1%" stop-color="#f1f44c"/><stop offset="36.2%" stop-color="#f3f346"/><stop offset="37.3%" stop-color="#f3f245"/><stop offset="38.4%" stop-color="#f2f347"/><stop offset="39.5%" stop-color="#f3f346"/><stop offset="40.6%" stop-color="#f1f44c"/><stop offset="41.7%" stop-color="#f2f347"/><stop offset="42.8%" stop-color="#f4f243"/><stop offset="43.9%" stop-color="#f3f244"/><stop offset="45.0%" stop-color="#f4f140"/><stop offset="46.1%" stop-color="#f3f246"/><stop offset="47.2%" stop-color="#f1f44c"/><stop offset="48.3%" stop-color="#f5f13e"/><stop offset="49.4%" stop-color="#f5f03d"/><stop offset="50.5%" stop-color="#f4f141"/><stop offset="51.6%" stop-color="#f6f03a"/><stop offset="52.7%" stop-color="#f5f03c"/><stop offset="53.8%" stop-color="#f6f03b"/><stop offset="54.9%" stop-color="#f8ee35"/><stop offset="56.0%" stop-color="#f7ef37"/><stop offset="57.1%" stop-color="#ffd10c"/><stop offset="58.2%" stop-color="#fe9400"/><stop offset="59.3%" stop-color="#ffb300"/><stop offset="60.4%" stop-color="#fceb25"/><stop offset="61.5%" stop-color="#f6f039"/><stop offset="62.6%" stop-color="#f3f244"/><stop offset="63.7%" stop-color="#f5f03d"/><stop offset="64.8%" stop-color="#f6f03a"/><stop offset="65.9%" stop-color="#f2f348"/><stop offset="67.0%" stop-color="#f4f242"/><stop offset="68.1%" stop-color="#f3f244"/><stop offset="69.2%" stop-color="#f1f44d"/><stop offset="70.3%" stop-color="#f4f140"/><stop offset="71.4%" stop-color="#f5f13e"/><stop offset="72.5%" stop-color="#f2f348"/><stop offset="73.6%" stop-color="#f2f347"/><stop offset="74.7%" stop-color="#f4f140"/><stop offset="75.8%" stop-color="#f5f13e"/><stop offset="76.9%" stop-color="#f3f245"/><stop offset="78.0%" stop-color="#f2f349"/><stop offset="79.1%" stop-color="#f2f348"/><stop offset="80.2%" stop-color="#f2f349"/><stop offset="81.3%" stop-color="#f3f244"/><stop offset="82.4%" stop-color="#f2f349"/><stop offset="83.5%" stop-color="#f4f242"/><stop offset="84.6%" stop-color="#f2f347"/><stop offset="85.7%" stop-color="#f1f44d"/><stop offset="86.7%" stop-color="#f1f44c"/><stop offset="87.8%" stop-color="#f1f44c"/><stop offset="88.9%" stop-color="#f4f141"/><stop offset="90.0%" stop-color="#f2f347"/><stop offset="91.1%" stop-color="#f1f44d"/><stop offset="92.2%" stop-color="#f1f44a"/><stop offset="93.3%" stop-color="#f1f44d"/><stop offset="94.4%" stop-color="#f1f44c"/><stop offset="95.5%" stop-color="#f1f44b"/><stop offset="96.6%" stop-color="#f2f347"/><stop offset="97.7%" stop-color="#f2f348"/><stop offset="98.8%" stop-color="#f4f242"/><stop offset="99.9%" stop-color="#f3f245"/><stop offset="100.0%" stop-color="#f2f349"/></linearGradient>
<linearGradient id="b13"><stop offset="0.0%" stop-color="#f3f244"/><stop offset="1.1%" stop-color="#f3f244"/><stop offset="2.2%" stop-color="#f2f34a"/><stop offset="3.3%" stop-color="#f3f244"/><stop offset="4.4%" stop-color="#f3f244"/><stop offset="5.5%" stop-color="#f3f245"/><stop offset="6.6%" stop-color="#f2f347"/><stop offset="7.7%" stop-color="#f3f346"/><stop offset="8.8%" stop-color="#f3f346"/><stop offset="9.9%" stop-color="#f4f140"/><stop offset="11.0%" stop-color="#f2f34a"/><stop offset="12.1%" stop-color="#f2f348"/><stop offset="13.2%" stop-color="#f2f349"/><stop offset="14.3%" stop-color="#f5f13f"/><stop offset="15.4%" stop-color="#f5f03d"/><stop offset="16.5%" stop-color="#f3f245"/><stop offset="17.6%" stop-color="#f3f244"/><stop offset="18.7%" stop-color="#f5f03d"/><stop offset="19.8%" stop-color="#f3f243"/><stop offset="20.9%" stop-color="#f2f346"/><stop offset="22.0%" stop-color="#f3f245"/><stop offset="23.1%" stop-color="#f3f244"/><stop offset="24.2%" stop-color="#f4f140"/><stop offset="25.3%" stop-color="#f3f346"/><stop offset="26.4%" stop-color="#f4f141"/><stop offset="27.5%" stop-color="#f3f346"/><stop offset="28.6%" stop-color="#f2f349"/><stop offset="29.6%" stop-color="#f2f349"/><stop offset="30.7%" stop-color="#f5f13e"/><stop offset="31.8%" stop-color="#f2f347"/><stop offset="32.9%" stop-color="#f2f348"/><stop offset="34.0%" stop-color="#f2f34a"/><stop offset="35.1%" stop-color="#f3f244"/><stop offset="36.2%" stop-color="#f3f244"/><stop offset="37.3%" stop-color="#f4f141"/><stop offset="38.4%" stop-color="#f3f346"/><stop offset="39.5%" stop-color="#f4f141"/><stop offset="40.6%" stop-color="#f2f349"/><stop offset="41.7%" stop-color="#f2f349"/><stop offset="42.8%" stop-color="#f4f140"/><stop offset="43.9%" stop-color="#f2f348"/><stop offset="45.0%" stop-color="#f3f243"/><stop offset="46.1%" stop-color="#f6f03b"/><stop offset="47.2%" stop-color="#f3f243"/><stop offset="48.3%" stop-color="#f7ef38"/><stop offset="49.4%" stop-color="#f8ee33"/><stop offset="50.5%" stop-color="#f5f03d"/><stop offset="51.6%" stop-color="#f5f03d"/><stop offset="52.7%" stop-color="#f5f13f"/><stop offset="53.8%" stop-color="#f6f03b"/><stop offset="54.9%" stop-color="#f9ed30"/><stop offset="56.0%" stop-color="#faec2c"/><stop offset="57.1%" stop-color="#ffcc09"/><stop offset="58.2%" stop-color="#fe9200"/><stop offset="59.3%" stop-color="#ffb200"/><stop offset="60.4%" stop-color="#fbeb28"/><stop offset="61.5%" stop-color="#f8ee31"/><stop offset="62.6%" stop-color="#f7ef35"/><stop offset="63.7%" stop-color="#f8ee31"/><stop offset="64.8%" stop-color="#f7ef38"/><stop offset="65.9%" stop-color="#f7ef38"/><stop offset="67.0%" stop-color="#f5f13f"/><stop offset="68.1%" stop-color="#f6f03b"/><stop offset="69.2%" stop-color="#f4f242"/><stop offset="70.3%" stop-color="#f5f13f"/><stop offset="71.4%" stop-color="#f6ef38"/><stop offset="72.5%" stop-color="#f4f140"/><stop offset="73.6%" stop-color="#f1f44c"/><stop offset="74.7%" stop-color="#f4f141"/><stop offset="75.8%" stop-color="#f5f13f"/><stop offset="76.9%" stop-color="#f5f13e"/><stop offset="78.0%" stop-color="#f2f347"/><stop offset="79.1%" stop-color="#f2f347"/><stop offset="80.2%" stop-color="#f2f347"/><stop offset="81.3%" stop-color="#f3f244"/><stop offset="82.4%" stop-color="#f3f346"/><stop offset="83.5%" stop-color="#f6f03b"/><stop offset="84.6%" stop-color="#f4f140"/><stop offset="85.7%" stop-color="#f2f347"/><stop offset="86.7%" stop-color="#f4f242"/><stop offset="87.8%" stop-color="#f4f141"/><stop offset="88.9%" stop-color="#f4f141"/><stop offset="90.0%" stop-color="#f3f245"/><stop offset="91.1%" stop-color="#f3f346"/><stop offset="92.2%" stop-color="#f1f44d"/><stop offset="93.3%" stop-color="#f2f348"/><stop offset="94.4%" stop-color="#f2f347"/><stop offset="95.5%" stop-color="#f3f244"/><stop offset="96.6%" stop-color="#f3f244"/><stop offset="97.7%" stop-color="#f4f243"/><stop offset="98.8%" stop-color="#f3f243"/><stop offset="99.9%" stop-color="#f4f242"/><stop offset="100.0%" stop-color="#f1f44c"/></linearGradient>
<linearGradient id="b14"><stop offset="0.0%" stop-color="#f7ef37"/><stop offset="1.1%" stop-color="#f7ef36"/><stop offset="2.2%" stop-color="#f7ef38"/><stop offset="3.3%" stop-color="#f7ee35"/><stop offset="4.4%" stop-color="#f8ee32"/><stop offset="5.5%" stop-color="#f7ef35"/><stop offset="6.6%" stop-color="#f7ef37"/><stop offset="7.7%" stop-color="#f6f03a"/><stop offset="8.8%" stop-color="#f5f03c"/><stop offset="9.9%" stop-color="#f8ee33"/><stop offset="11.0%" stop-color="#f5f13f"/><stop offset="12.1%" stop-color="#f6f03b"/><stop offset="13.2%" stop-color="#f6f03a"/><stop offset="14.3%" stop-color="#f5f03c"/><stop offset="15.4%" stop-color="#faec2a"/><stop offset="16.5%" stop-color="#f7ef37"/><stop offset="17.6%" stop-color="#f4f140"/><stop offset="18.7%" stop-color="#f7ef38"/><stop offset="19.8%" stop-color="#f5f03c"/><stop offset="20.9%" stop-color="#f3f243"/><stop offset="22.0%" stop-color="#f5f03d"/><stop offset="23.1%" stop-color="#f7ef37"/><stop offset="24.2%" stop-color="#f7ee35"/><stop offset="25.3%" stop-color="#f7ef37"/><stop offset="26.4%" stop-color="#f6f03b"/><stop offset="27.5%" stop-color="#f6f03b"/><stop offset="28.6%" stop-color="#f6ef39"/><stop offset="29.6%" stop-color="#f5f03d"/><stop offset="30.7%" stop-color="#f7ee35"/><stop offset="31.8%" stop-color="#f7ef37"/><stop offset="32.9%" stop-color="#f7ee35"/><stop offset="34.0%" stop-color="#f5f13f"/><stop offset="35.1%" stop-color="#f4f242"/><stop offset="36.2%" stop-color="#f9ed31"/><stop offset="37.3%" stop-color="#f7ef37"/><stop offset="38.4%" stop-color="#f8ee33"/><stop offset="39.5%" stop-color="#f7ef37"/><stop offset="40.6%" stop-color="#f5f03d"/><stop offset="41.7%" stop-color="#f5f03d"/><stop offset="42.8%" stop-color="#f7ef36"/><stop offset="43.9%" stop-color="#f5f03c"/><stop offset="45.0%" stop-color="#f7ef36"/><stop offset="46.1%" stop-color="#f8ee33"/><stop offset="47.2%" stop-color="#f8ee34"/><stop offset="48.3%" stop-color="#f9ed2e"/><stop offset="49.4%" stop-color="#faec2b"/><stop offset="50.5%" stop-color="#f8ee31"/><stop offset="51.6%" stop-color="#f9ed30"/><stop offset="52.7%" stop-color="#fbec29"/><stop offset="53.8%" stop-color="#fbec29"/><stop offset="54.9%" stop-color="#f9ed2f"/><stop offset="56.0%" stop-color="#fde920"/><stop offset="57.1%" stop-color="#ffc706"/><stop offset="58.2%" stop-color="#fd8f00"/><stop offset="59.3%" stop-color="#ffad00"/><stop offset="60.4%" stop-color="#ffe719"/><stop offset="61.5%" stop-color="#fceb25"/><stop offset="62.6%" stop-color="#fbeb28"/><stop offset="63.7%" stop-color="#fbec29"/><stop offset="64.8%" stop-color="#fbeb28"/><stop offset="65.9%" stop-color="#faec2b"/><stop offset="67.0%" stop-color="#f8ee34"/><stop offset="68.1%" stop-color="#f8ee33"/><stop offset="69.2%" stop-color="#f6ef39"/><stop offset="70.3%" stop-color="#f8ee31"/><stop offset="71.4%" stop-color="#f8ee32"/><stop offset="72.5%" stop-color="#f8ee32"/><stop offset="73.6%" stop-color="#f8ee33"/><stop offset="74.7%" stop-color="#f7ef36"/><stop offset="75.8%" stop-color="#f7ef38"/><stop offset="76.9%" stop-color="#f7ef36"/><stop offset="78.0%" stop-color="#f8ee33"/><stop offset="79.1%" stop-color="#f6f03b"/><stop offset="80.2%" stop-color="#f6f03b"/><stop offset="81.3%" stop-color="#f7ef37"/><stop offset="82.4%" stop-color="#f8ee32"/><stop offset="83.5%" stop-color="#f8ee34"/><stop offset="84.6%" stop-color="#f6f03a"/><stop offset="85.7%" stop-color="#f5f13e"/><stop offset="86.7%" stop-color="#f6f03a"/><stop offset="87.8%" stop-color="#f5f03d"/><stop offset="88.9%" stop-color="#f9ed31"/><stop offset="90.0%" stop-color="#f9ed2f"/><stop offset="91.1%" stop-color="#f8ee34"/><stop offset="92.2%" stop-color="#f6f03a"/><stop offset="93.3%" stop-color="#f6f03a"/><stop offset="94.4%" stop-color="#f6f03b"/><stop offset="95.5%" stop-color="#f7ef37"/><stop offset="96.6%" stop-color="#f8ee35"/><stop offset="97.7%" stop-color="#f7ef37"/><stop offset="98.8%" stop-color="#f8ee35"/><stop offset="99.9%" stop-color="#f7ef37"/><stop offset="100.0%" stop-color="#f5f03d"/></linearGradient>
<linearGradient id="b15"><stop offset="0.0%" stop-color="#f3f346"/><stop offset="1.1%" stop-color="#f1f44b"/><stop offset="2.2%" stop-color="#f1f44b"/><stop offset="3.3%" stop-color="#f2f348"/><stop offset="4.4%" stop-color="#f3f245"/><stop offset="5.5%" stop-color="#f2f348"/><stop offset="6.6%" stop-color="#f3f245"/><stop offset="7.7%" stop-color="#f3f244"/><stop offset="8.8%" stop-color="#f3f245"/><stop offset="9.9%" stop-color="#f5f13e"/><stop offset="11.0%" stop-color="#f0f54e"/><stop offset="12.1%" stop-color="#f4f242"/><stop offset="13.2%" stop-color="#f3f245"/><stop offset="14.3%" stop-color="#f2f349"/><stop offset="15.4%" stop-color="#f3f244"/><stop offset="16.5%" stop-color="#f0f54e"/><stop offset="17.6%" stop-color="#f1f44b"/><stop offset="18.7%" stop-color="#f2f34a"/><stop offset="19.8%" stop-color="#f3f246"/><stop offset="20.9%" stop-color="#f0f54f"/><stop offset="22.0%" stop-color="#f1f44a"/><stop offset="23.1%" stop-color="#f2f348"/><stop offset="24.2%" stop-color="#f4f140"/><stop offset="25.3%" stop-color="#f2f34a"/><stop offset="26.4%" stop-color="#f3f244"/><stop offset="27.5%" stop-color="#f3f244"/><stop offset="28.6%" stop-color="#f0f54f"/><stop offset="29.6%" stop-color="#f0f550"/><stop offset="30.7%" stop-color="#f1f44b"/><stop offset="31.8%" stop-color="#f2f34a"/><stop offset="32.9%" stop-color="#f2f348"/><stop offset="34.0%" stop-color="#f2f34a"/><stop offset="35.1%" stop-color="#f2f34a"/><stop offset="36.2%" stop-color="#f2f348"/><stop offset="37.3%" stop-color="#f1f44b"/><stop offset="38.4%" stop-color="#f2f347"/><stop offset="39.5%" stop-color="#f1f44b"/><stop offset="40.6%" stop-color="#f0f54f"/><stop offset="41.7%" stop-color="#f0f551"/><stop offset="42.8%" stop-color="#f3f346"/><stop offset="43.9%" stop-color="#f2f348"/><stop offset="45.0%" stop-color="#f2f349"/><stop offset="46.1%" stop-color="#f3f244"/><stop offset="47.2%" stop-color="#f0f54f"/><stop offset="48.3%" stop-color="#f3f245"/><stop offset="49.4%" stop-color="#f4f141"/><stop offset="50.5%" stop-color="#f3f243"/><stop offset="51.6%" stop-color="#f5f13e"/><stop offset="52.7%" stop-color="#f5f13e"/><stop offset="53.8%" stop-color="#f6ef39"/><stop offset="54.9%" stop-color="#f7ef38"/><stop offset="56.0%" stop-color="#f7ef37"/><stop offset="57.1%" stop-color="#ffce0a"/><stop offset="58.2%" stop-color="#fe9300"/><stop offset="59.3%" stop-color="#ffb200"/><stop offset="60.4%" stop-color="#fcea24"/><stop offset="61.5%" stop-color="#f5f03c"/><stop offset="62.6%" stop-color="#f6f03b"/><stop offset="63.7%" stop-color="#f7ee35"/><stop offset="64.8%" stop-color="#f5f03c"/><stop offset="65.9%" stop-color="#f4f242"/><stop offset="67.0%" stop-color="#f5f13e"/><stop offset="68.1%" stop-color="#f5f13e"/><stop offset="69.2%" stop-color="#f2f347"/><stop offset="70.3%" stop-color="#f4f141"/><stop offset="71.4%" stop-color="#f1f44d"/><stop offset="72.5%" stop-color="#f3f244"/><stop offset="73.6%" stop-color="#f5f03d"/><stop offset="74.7%" stop-color="#f3f244"/><stop offset="75.8%" stop-color="#f1f44a"/><stop offset="76.9%" stop-color="#f4f140"/><stop offset="78.0%" stop-color="#f4f242"/><stop offset="79.1%" stop-color="#f3f346"/><stop offset="80.2%" stop-color="#f1f44c"/><stop offset="81.3%" stop-color="#f2f349"/><stop offset="82.4%" stop-color="#f2f348"/><stop offset="83.5%" stop-color="#f3f243"/><stop offset="84.6%" stop-color="#f4f141"/><stop offset="85.7%" stop-color="#f2f349"/><stop offset="86.7%" stop-color="#eff652"/><stop offset="87.8%" stop-color="#f0f54e"/><stop offset="88.9%" stop-color="#f3f245"/><stop offset="90.0%" stop-color="#f4f142"/><stop offset="91.1%" stop-color="#f1f44b"/><stop offset="92.2%" stop-color="#eff551"/><stop offset="93.3%" stop-color="#f1f44b"/><stop offset="94.4%" stop-color="#f2f346"/><stop offset="95.5%" stop-color="#f0f550"/><stop offset="96.6%" stop-color="#f3f245"/><stop offset="97.7%" stop-color="#f1f44a"/><stop offset="98.8%" stop-color="#f4f141"/><stop offset="99.9%" stop-color="#f2f347"/><stop offset="100.0%" stop-color="#f2f34a"/></linearGradient>
<linearGradient id="b16"><stop offset="0.0%" stop-color="#f7ee35"/><stop offset="1.1%" stop-color="#f6ef38"/><stop offset="2.2%" stop-color="#f4f242"/><stop offset="3.3%" stop-color="#f5f03d"/><stop offset="4.4%" stop-color="#f6f03a"/><stop offset="5.5%" stop-color="#f5f03d"/><stop offset="6.6%" stop-color="#f5f03c"/><stop offset="7.7%" stop-color="#f5f03d"/><stop offset="8.8%" stop-color="#f4f140"/><stop offset="9.9%" stop-color="#f6f03a"/><stop offset="11.0%" stop-color="#f1f44d"/><stop offset="12.1%" stop-color="#f6f03c"/><stop offset="13.2%" stop-color="#f8ee33"/><stop offset="14.3%" stop-color="#f7ef37"/><stop offset="15.4%" stop-color="#f7ef35"/><stop offset="16.5%" stop-color="#f5f13e"/><stop offset="17.6%" stop-color="#f5f13e"/><stop offset="18.7%" stop-color="#f6f03b"/><stop offset="19.8%" stop-color="#f5f13e"/><stop offset="20.9%" stop-color="#f5f13f"/><stop offset="22.0%" stop-color="#f4f13f"/><stop offset="23.1%" stop-color="#f5f13e"/><stop offset="24.2%" stop-color="#f6f03b"/><stop offset="25.3%" stop-color="#f5f03d"/><stop offset="26.4%" stop-color="#f7ef37"/><stop offset="27.5%" stop-color="#f5f13e"/><stop offset="28.6%" stop-color="#f5f03c"/><stop offset="29.6%" stop-color="#f4f242"/><stop offset="30.7%" stop-color="#f3f243"/><stop offset="31.8%" stop-color="#f4f243"/><stop offset="32.9%" stop-color="#f5f13e"/><stop offset="34.0%" stop-color="#f4f242"/><stop offset="35.1%" stop-color="#f5f13e"/><stop offset="36.2%" stop-color="#f4f141"/><stop offset="37.3%" stop-color="#f5f13e"/><stop offset="38.4%" stop-color="#f5f03d"/><stop offset="39.5%" stop-color="#f5f13f"/><stop offset="40.6%" stop-color="#f4f142"/><stop offset="41.7%" stop-color="#f4f13f"/><stop offset="42.8%" stop-color="#f6f03a"/><stop offset="43.9%" stop-color="#f4f141"/><stop offset="45.0%" stop-color="#f6ef39"/><stop offset="46.1%" stop-color="#f7ee35"/><stop offset="47.2%" stop-color="#f6f03c"/><stop offset="48.3%" stop-color="#f7ef38"/><stop offset="49.4%" stop-color="#f7ef38"/><stop offset="50.5%" stop-color="#f8ee34"/><stop offset="51.6%" stop-color="#f7ef36"/><stop offset="52.7%" stop-color="#f9ed31"/><stop offset="53.8%" stop-color="#fcea24"/><stop offset="54.9%" stop-color="#fceb26"/><stop offset="56.0%" stop-color="#fceb26"/><stop offset="57.1%" stop-color="#ffc807"/><stop offset="58.2%" stop-color="#fd8f00"/><stop offset="59.3%" stop-color="#ffad00"/><stop offset="60.4%" stop-color="#ffe518"/><stop offset="61.5%" stop-color="#f8ee31"/><stop offset="62.6%" stop-color="#fceb26"/><stop offset="63.7%" stop-color="#f8ee31"/><stop offset="64.8%" stop-color="#f9ed30"/><stop offset="65.9%" stop-color="#f7ef36"/><stop offset="67.0%" stop-color="#f6f03b"/><stop offset="68.1%" stop-color="#f6f03a"/><stop offset="69.2%" stop-color="#f8ee32"/><stop offset="70.3%" stop-color="#f8ee32"/><stop offset="71.4%" stop-color="#f6f03a"/><stop offset="72.5%" stop-color="#f5f13f"/><stop offset="73.6%" stop-color="#f8ee33"/><stop offset="74.7%" stop-color="#f5f03d"/><stop offset="75.8%" stop-color="#f7ef35"/><stop offset="76.9%" stop-color="#f8ee31"/><stop offset="78.0%" stop-color="#f5f03d"/><stop offset="79.1%" stop-color="#f7ef37"/><stop offset="80.2%" stop-color="#f6f03b"/><stop offset="81.3%" stop-color="#f4f141"/><stop offset="82.4%" stop-color="#f5f13f"/><stop offset="83.5%" stop-color="#f5f13f"/><stop offset="84.6%" stop-color="#f6ef39"/><stop offset="85.7%" stop-color="#f3f244"/><stop offset="86.7%" stop-color="#f5f13e"/><stop offset="87.8%" stop-color="#f3f243"/><stop offset="88.9%" stop-color="#f6f03b"/><stop offset="90.0%" stop-color="#f6f03b"/><stop offset="91.1%" stop-color="#f5f13f"/><stop offset="92.2%" stop-color="#f3f244"/><stop offset="93.3%" stop-color="#f6f03a"/><stop offset="94.4%" stop-color="#f5f03c"/><stop offset="95.5%" stop-color="#f3f243"/><stop offset="96.6%" stop-color="#f6ef39"/><stop offset="97.7%" stop-color="#f3f244"/><stop offset="98.8%" stop-color="#f7ef37"/><stop offset="99.9%" stop-color="#f5f03c"/><stop offset="100.0%" stop-color="#f4f141"/></linearGradient>
<linearGradient id="b17"><stop offset="0.0%" stop-color="#f2f349"/><stop offset="1.1%" stop-color="#f1f44b"/><stop offset="2.2%" stop-color="#f1f44d"/><stop offset="3.3%" stop-color="#f1f44d"/><stop offset="4.4%" stop-color="#f2f346"/><stop offset="5.5%" stop-color="#f1f44b"/><stop offset="6.6%" stop-color="#f2f348"/><stop offset="7.7%" stop-color="#f3f243"/><stop offset="8.8%" stop-color="#f1f44b"/><stop offset="9.9%" stop-color="#f2f349"/><stop offset="11.0%" stop-color="#f1f44c"/><stop offset="12.1%" stop-color="#f2f348"/><stop offset="13.2%" stop-color="#f3f246"/><stop offset="14.3%" stop-color="#f5f03d"/><stop offset="15.4%" stop-color="#f3f245"/><stop offset="16.5%" stop-color="#f3f245"/><stop offset="17.6%" stop-color="#f3f244"/><stop offset="18.7%" stop-color="#f3f243"/><stop offset="19.8%" stop-color="#f2f34a"/><stop offset="20.9%" stop-color="#f1f44b"/><stop offset="22.0%" stop-color="#f1f44d"/><stop offset="23.1%" stop-color="#f3f346"/><stop offset="24.2%" stop-color="#f4f243"/><stop offset="25.3%" stop-color="#f3f244"/><stop offset="26.4%" stop-color="#f1f44d"/><stop offset="27.5%" stop-color="#f3f245"/><stop offset="28.6%" stop-color="#f2f349"/><stop offset="29.6%" stop-color="#f0f44e"/><stop offset="30.7%" stop-color="#f2f34a"/><stop offset="31.8%" stop-color="#f3f245"/><stop offset="32.9%" stop-color="#f0f550"/><stop offset="34.0%" stop-color="#f3f244"/><stop offset="35.1%" stop-color="#f0f54f"/><stop offset="36.2%" stop-color="#f2f347"/><stop offset="37.3%" stop-color="#f2f349"/><stop offset="38.4%" stop-color="#f3f244"/><stop offset="39.5%" stop-color="#f1f44c"/><stop offset="40.6%" stop-color="#f2f347"/><stop offset="41.7%" stop-color="#f2f349"/><stop offset="42.8%" stop-color="#f4f140"/><stop offset="43.9%" stop-color="#f2f349"/><stop offset="45.0%" stop-color="#f3f245"/><stop offset="46.1%" stop-color="#f2f34a"/><stop offset="47.2%" stop-color="#f2f348"/><stop offset="48.3%" stop-color="#f6f03a"/><stop offset="49.4%" stop-color="#f4f242"/><stop offset="50.5%" stop-color="#f4f140"/><stop offset="51.6%" stop-color="#f4f140"/><stop offset="52.7%" stop-color="#f6ef39"/><stop offset="53.8%" stop-color="#f4f141"/><stop offset="54.9%" stop-color="#f9ed2e"/><stop offset="56.0%" stop-color="#f9ed2f"/><stop offset="57.1%" stop-color="#ffcd09"/><stop offset="58.2%" stop-color="#fe9400"/><stop offset="59.3%" stop-color="#ffaf00"/><stop offset="60.4%" stop-color="#fbeb26"/><stop offset="61.5%" stop-color="#f7ef36"/><stop offset="62.6%" stop-color="#f6f039"/><stop offset="63.7%" stop-color="#f5f13e"/><stop offset="64.8%" stop-color="#f5f03c"/><stop offset="65.9%" stop-color="#f6f03b"/><stop offset="67.0%" stop-color="#f4f141"/><stop offset="68.1%" stop-color="#f4f140"/><stop offset="69.2%" stop-color="#f3f245"/><stop offset="70.3%" stop-color="#f2f347"/><stop offset="71.4%" stop-color="#f3f246"/><stop offset="72.5%" stop-color="#f3f246"/><stop offset="73.6%" stop-color="#f2f348"/><stop offset="74.7%" stop-color="#f4f242"/><stop offset="75.8%" stop-color="#f4f140"/><stop offset="76.9%" stop-color="#f4f140"/><stop offset="78.0%" stop-color="#f2f348"/><stop offset="79.1%" stop-color="#f2f349"/><stop offset="80.2%" stop-color="#f3f246"/><stop offset="81.3%" stop-color="#f1f44a"/><stop offset="82.4%" stop-color="#f3f245"/><stop offset="83.5%" stop-color="#f3f246"/><stop offset="84.6%" stop-color="#f4f140"/><stop offset="85.7%" stop-color="#f1f44e"/><stop offset="86.7%" stop-color="#f2f349"/><stop offset="87.8%" stop-color="#f0f550"/><stop offset="88.9%" stop-color="#f4f242"/><stop offset="90.0%" stop-color="#f3f346"/><stop offset="91.1%" stop-color="#f1f44c"/><stop offset="92.2%" stop-color="#f3f244"/><stop offset="93.3%" stop-color="#f2f347"/><stop offset="94.4%" stop-color="#f1f44d"/><stop offset="95.5%" stop-color="#f1f44d"/><stop offset="96.6%" stop-color="#f0f550"/><stop offset="97.7%" stop-color="#eff551"/><stop offset="98.8%" stop-color="#f3f244"/><stop offset="99.9%" stop-color="#eff552"/><stop offset="100.0%" stop-color="#f1f44a"/></linearGradient>
<linearGradient id="b18"><stop offset="0.0%" stop-color="#f0f550"/><stop offset="1.1%" stop-color="#f0f54f"/><stop offset="2.2%" stop-color="#f2f349"/><stop offset="3.3%" stop-color="#f0f44e"/><stop offset="4.4%" stop-color="#f0f44e"/><stop offset="5.5%" stop-color="#f2f348"/><stop offset="6.6%" stop-color="#f2f34a"/><stop offset="7.7%" stop-color="#f1f44a"/><stop offset="8.8%" stop-color="#f0f54f"/><stop offset="9.9%" stop-color="#f2f348"/><stop offset="11.0%" stop-color="#f0f54f"/><stop offset="12.1%" stop-color="#f1f44b"/><stop offset="13.2%" stop-color="#f1f44c"/><stop offset="14.3%" stop-color="#f2f348"/><stop offset="15.4%" stop-color="#f3f245"/><stop offset="16.5%" stop-color="#f1f44b"/><stop offset="17.6%" stop-color="#f1f44b"/><stop offset="18.7%" stop-color="#f0f550"/><stop offset="19.8%" stop-color="#f1f44b"/><stop offset="20.9%" stop-color="#f1f44b"/><stop offset="22.0%" stop-color="#eff653"/><stop offset="23.1%" stop-color="#eff654"/><stop offset="24.2%" stop-color="#f1f44b"/><stop offset="25.3%" stop-color="#f1f44b"/><stop offset="26.4%" stop-color="#f2f347"/><stop offset="27.5%" stop-color="#eff552"/><stop offset="28.6%" stop-color="#f2f349"/><stop offset="29.6%" stop-color="#eef656"/><stop offset="30.7%" stop-color="#f3f346"/><stop offset="31.8%" stop-color="#f1f44c"/><stop offset="32.9%" stop-color="#f2f349"/><stop offset="34.0%" stop-color="#f1f44b"/><stop offset="35.1%" stop-color="#f0f550"/><stop offset="36.2%" stop-color="#f2f348"/><stop offset="37.3%" stop-color="#f0f54f"/><stop offset="38.4%" stop-color="#f1f44c"/><stop offset="39.5%" stop-color="#f1f44c"/><stop offset="40.6%" stop-color="#eff552"/><stop offset="41.7%" stop-color="#f1f44b"/><stop offset="42.8%" stop-color="#f3f346"/><stop offset="43.9%" stop-color="#f0f44e"/><stop offset="45.0%" stop-color="#f1f44c"/><stop offset="46.1%" stop-color="#f3f244"/><stop offset="47.2%" stop-color="#f2f349"/><stop offset="48.3%" stop-color="#f4f242"/><stop offset="49.4%" stop-color="#f3f245"/><stop offset="50.5%" stop-color="#f4f243"/><stop offset="51.6%" stop-color="#f5f13e"/><stop offset="52.7%" stop-color="#f4f243"/><stop offset="53.8%" stop-color="#f5f13f"/><stop offset="54.9%" stop-color="#f4f140"/><stop offset="56.0%" stop-color="#f7ef37"/><stop offset="57.1%" stop-color="#ffd10c"/><stop offset="58.2%" stop-color="#fe9600"/><stop offset="59.3%" stop-color="#ffb200"/><stop offset="60.4%" stop-color="#faec2b"/><stop offset="61.5%" stop-color="#f6f03b"/><stop offset="62.6%" stop-color="#f4f13f"/><stop offset="63.7%" stop-color="#f5f13f"/><stop offset="64.8%" stop-color="#f2f347"/><stop offset="65.9%" stop-color="#f4f141"/><stop offset="67.0%" stop-color="#f4f242"/><stop offset="68.1%" stop-color="#f3f346"/><stop offset="69.2%" stop-color="#f1f44b"/><stop offset="70.3%" stop-color="#f0f54f"/><stop offset="71.4%" stop-color="#f2f347"/><stop offset="72.5%" stop-color="#f0f54e"/><stop offset="73.6%" stop-color="#f2f347"/><stop offset="74.7%" stop-color="#f2f349"/><stop offset="75.8%" stop-color="#f3f244"/><stop offset="76.9%" stop-color="#f1f44c"/><stop offset="78.0%" stop-color="#eef656"/><stop offset="79.1%" stop-color="#f1f44c"/><stop offset="80.2%" stop-color="#f0f44e"/><stop offset="81.3%" stop-color="#f3f243"/><stop offset="82.4%" stop-color="#f1f44b"/><stop offset="83.5%" stop-color="#f4f242"/><stop offset="84.6%" stop-color="#f2f348"/><stop offset="85.7%" stop-color="#f0f550"/><stop offset="86.7%" stop-color="#eff654"/><stop offset="87.8%" stop-color="#eff552"/><stop offset="88.9%" stop-color="#f3f346"/><stop offset="90.0%" stop-color="#f1f44c"/><stop offset="91.1%" stop-color="#f1f44c"/><stop offset="92.2%" stop-color="#f0f54f"/><stop offset="93.3%" stop-color="#eff653"/><stop offset="94.4%" stop-color="#f1f44a"/><stop offset="95.5%" stop-color="#f0f551"/><stop offset="96.6%" stop-color="#f0f44e"/><stop offset="97.7%" stop-color="#f2f349"/><stop offset="98.8%" stop-color="#f0f550"/><stop offset="99.9%" stop-color="#f0f54f"/><stop offset="100.0%" stop-color="#f0f54f"/></linearGradient>
<linearGradient id="b19"><stop offset="0.0%" stop-color="#f3f246"/><stop offset="1.1%" stop-color="#f0f44e"/><stop offset="2.2%" stop-color="#eff653"/><stop offset="3.3%" stop-color="#f2f34a"/><stop offset="4.4%" stop-color="#f1f44c"/><stop offset="5.5%" stop-color="#eff654"/><stop offset="6.6%" stop-color="#f2f349"/><stop offset="7.7%" stop-color="#eff654"/><stop offset="8.8%" stop-color="#eef656"/><stop offset="9.9%" stop-color="#f1f44b"/><stop offset="11.0%" stop-color="#eff653"/><stop offset="12.1%" stop-color="#eff654"/><stop offset="13.2%" stop-color="#f4f243"/><stop offset="14.3%" stop-color="#f0f44e"/><stop offset="15.4%" stop-color="#f3f346"/><stop offset="16.5%" stop-color="#f1f44b"/><stop offset="17.6%" stop-color="#f4f243"/><stop offset="18.7%" stop-color="#f0f44e"/><stop offset="19.8%" stop-color="#f2f347"/><stop offset="20.9%" stop-color="#eff652"/><stop offset="22.0%" stop-color="#f0f550"/><stop offset="23.1%" stop-color="#f1f44d"/><stop offset="24.2%" stop-color="#f0f54e"/><stop offset="25.3%" stop-color="#f1f44d"/><stop offset="26.4%" stop-color="#f3f243"/><stop offset="27.5%" stop-color="#f3f245"/><stop offset="28.6%" stop-color="#f1f44c"/><stop offset="29.6%" stop-color="#eef757"/><stop offset="30.7%" stop-color="#f1f44d"/><stop offset="31.8%" stop-color="#f2f348"/><stop offset="32.9%" stop-color="#f1f44b"/><stop offset="34.0%" stop-color="#f1f44b"/><stop offset="35.1%" stop-color="#f0f550"/><stop offset="36.2%" stop-color="#f0f54e"/><stop offset="37.3%" stop-color="#f1f44a"/><stop offset="38.4%" stop-color="#f1f44b"/><stop offset="39.5%" stop-color="#f3f246"/><stop offset="40.6%" stop-color="#eff551"/><stop offset="41.7%" stop-color="#f1f44b"/><stop offset="42.8%" stop-color="#f3f244"/><stop offset="43.9%" stop-color="#f3f346"/><stop offset="45.0%" stop-color="#f4f141"/><stop offset="46.1%" stop-color="#f1f44a"/><stop offset="47.2%" stop-color="#f0f54f"/><stop offset="48.3%" stop-color="#f3f244"/><stop offset="49.4%" stop-color="#f2f348"/><stop offset="50.5%" stop-color="#f1f44b"/><stop offset="51.6%" stop-color="#f5f03d"/><stop offset="52.7%" stop-color="#f5f13e"/><stop offset="53.8%" stop-color="#f6f03a"/><stop offset="54.9%" stop-color="#f6ef39"/><stop offset="56.0%" stop-color="#f9ed30"/><stop offset="57.1%" stop-color="#ffcf0b"/><stop offset="58.2%" stop-color="#fe9500"/><stop offset="59.3%" stop-color="#ffb100"/><stop offset="60.4%" stop-color="#faed2d"/><stop offset="61.5%" stop-color="#f6f03b"/><stop offset="62.6%" stop-color="#f3f244"/><stop offset="63.7%" stop-color="#f7ef37"/><stop offset="64.8%" stop-color="#f4f141"/><stop offset="65.9%" stop-color="#f2f347"/><stop offset="67.0%" stop-color="#f1f44b"/><stop offset="68.1%" stop-color="#f3f243"/><stop offset="69.2%" stop-color="#f4f141"/><stop offset="70.3%" stop-color="#f3f246"/><stop offset="71.4%" stop-color="#f1f44c"/><stop offset="72.5%" stop-color="#eff552"/><stop offset="73.6%" stop-color="#f5f03d"/><stop offset="74.7%" stop-color="#f1f44b"/><stop offset="75.8%" stop-color="#f1f44c"/><stop offset="76.9%" stop-color="#f2f348"/><stop offset="78.0%" stop-color="#f1f44d"/><stop offset="79.1%" stop-color="#f3f246"/><stop offset="80.2%" stop-color="#f1f44c"/><stop offset="81.3%" stop-color="#f1f44d"/><stop offset="82.4%" stop-color="#f2f348"/><stop offset="83.5%" stop-color="#f1f44b"/><stop offset="84.6%" stop-color="#f2f348"/><stop offset="85.7%" stop-color="#f0f44e"/><stop offset="86.7%" stop-color="#f2f34a"/><stop offset="87.8%" stop-color="#eff654"/><stop offset="88.9%" stop-color="#f1f44b"/><stop offset="90.0%" stop-color="#f1f44b"/><stop offset="91.1%" stop-color="#f1f44b"/><stop offset="92.2%" stop-color="#eef656"/><stop offset="93.3%" stop-color="#f0f550"/><stop offset="94.4%" stop-color="#f1f44b"/><stop offset="95.5%" stop-color="#f0f54f"/><stop offset="96.6%" stop-color="#f3f244"/><stop offset="97.7%" stop-color="#f1f44b"/><stop offset="98.8%" stop-color="#f4f243"/><stop offset="99.9%" stop-color="#f0f44e"/><stop offset="100.0%" stop-color="#f0f54f"/></linearGradient>
<linearGradient id="b20"><stop offset="0.0%" stop-color="#f3f245"/><stop offset="1.1%" stop-color="#f3f346"/><stop offset="2.2%" stop-color="#f1f44d"/><stop offset="3.3%" stop-color="#f4f242"/><stop offset="4.4%" stop-color="#f1f44d"/><stop offset="5.5%" stop-color="#f3f245"/><stop offset="6.6%" stop-color="#f3f244"/><stop offset="7.7%" stop-color="#f1f44a"/><stop offset="8.8%" stop-color="#f4f242"/><stop offset="9.9%" stop-color="#f4f13f"/><stop offset="11.0%" stop-color="#f1f44c"/><stop offset="12.1%" stop-color="#f1f44b"/><stop offset="13.2%" stop-color="#f4f242"/><stop offset="14.3%" stop-color="#f2f348"/><stop offset="15.4%" stop-color="#f4f141"/><stop offset="16.5%" stop-color="#f1f44e"/><stop offset="17.6%" stop-color="#f2f347"/><stop offset="18.7%" stop-color="#f1f44c"/><stop offset="19.8%" stop-color="#f1f44a"/><stop offset="20.9%" stop-color="#f3f244"/><stop offset="22.0%" stop-color="#f3f245"/><stop offset="23.1%" stop-color="#f2f34a"/><stop offset="24.2%" stop-color="#f2f348"/><stop offset="25.3%" stop-color="#eff552"/><stop offset="26.4%" stop-color="#f3f246"/><stop offset="27.5%" stop-color="#f3f245"/><stop offset="28.6%" stop-color="#f0f44e"/><stop offset="29.6%" stop-color="#eff552"/><stop offset="30.7%" stop-color="#f3f244"/><stop offset="31.8%" stop-color="#f2f349"/><stop offset="32.9%" stop-color="#f2f348"/><stop offset="34.0%" stop-color="#f3f243"/><stop offset="35.1%" stop-color="#f2f34a"/><stop offset="36.2%" stop-color="#f3f244"/><stop offset="37.3%" stop-color="#f4f141"/><stop offset="38.4%" stop-color="#f3f246"/><stop offset="39.5%" stop-color="#f3f245"/><stop offset="40.6%" stop-color="#f1f44b"/><stop offset="41.7%" stop-color="#f0f44e"/><stop offset="42.8%" stop-color="#f4f13f"/><stop offset="43.9%" stop-color="#f0f550"/><stop offset="45.0%" stop-color="#f3f244"/><stop offset="46.1%" stop-color="#f2f347"/><stop offset="47.2%" stop-color="#f2f34a"/><stop offset="48.3%" stop-color="#f3f246"/><stop offset="49.4%" stop-color="#f4f242"/><stop offset="50.5%" stop-color="#f5f03c"/><stop offset="51.6%" stop-color="#f6f03a"/><stop offset="52.7%" stop-color="#f3f244"/><stop offset="53.8%" stop-color="#f6ef39"/><stop offset="54.9%" stop-color="#f7ef37"/><stop offset="56.0%" stop-color="#f8ee34"/><stop offset="57.1%" stop-color="#ffce0a"/><stop offset="58.2%" stop-color="#fe9400"/><stop offset="59.3%" stop-color="#ffb200"/><stop offset="60.4%" stop-color="#fceb25"/><stop offset="61.5%" stop-color="#f9ed30"/><stop offset="62.6%" stop-color="#f6f039"/><stop offset="63.7%" stop-color="#f7ef38"/><stop offset="64.8%" stop-color="#f4f140"/><stop offset="65.9%" stop-color="#f6f03a"/><stop offset="67.0%" stop-color="#f4f242"/><stop offset="68.1%" stop-color="#f5f13f"/><stop offset="69.2%" stop-color="#f2f348"/><stop offset="70.3%" stop-color="#f3f244"/><stop offset="71.4%" stop-color="#f3f245"/><stop offset="72.5%" stop-color="#f1f44b"/><stop offset="73.6%" stop-color="#f2f34a"/><stop offset="74.7%" stop-color="#f3f346"/><stop offset="75.8%" stop-color="#f4f243"/><stop offset="76.9%" stop-color="#f4f242"/><stop offset="78.0%" stop-color="#f3f245"/><stop offset="79.1%" stop-color="#f4f141"/><stop offset="80.2%" stop-color="#f2f34a"/><stop offset="81.3%" stop-color="#f2f349"/><stop offset="82.4%" stop-color="#f3f244"/><stop offset="83.5%" stop-color="#f2f347"/><stop offset="84.6%" stop-color="#f4f141"/><stop offset="85.7%" stop-color="#f2f347"/><stop offset="86.7%" stop-color="#f1f44d"/><stop offset="87.8%" stop-color="#f2f34a"/><stop offset="88.9%" stop-color="#f5f13e"/><stop offset="90.0%" stop-color="#f2f347"/><stop offset="91.1%" stop-color="#f2f34a"/><stop offset="92.2%" stop-color="#f1f44c"/><stop offset="93.3%" stop-color="#f2f347"/><stop offset="94.4%" stop-color="#f1f44a"/><stop offset="95.5%" stop-color="#f2f348"/><stop offset="96.6%" stop-color="#f1f44a"/><stop offset="97.7%" stop-color="#f1f44d"/><stop offset="98.8%" stop-color="#f2f347"/><stop offset="99.9%" stop-color="#f2f347"/><stop offset="100.0%" stop-color="#f0f54f"/></linearGradient>
<linearGradient id="b21"><stop offset="0.0%" stop-color="#f6ef39"/><stop offset="1.1%" stop-color="#f3f246"/><stop offset="2.2%" stop-color="#f4f141"/><stop offset="3.3%" stop-color="#f5f03c"/><stop offset="4.4%" stop-color="#f5f03d"/><stop offset="5.5%" stop-color="#f6ef39"/><stop offset="6.6%" stop-color="#f7ef37"/><stop offset="7.7%" stop-color="#f6f03b"/><stop offset="8.8%" stop-color="#f5f13d"/><stop offset="9.9%" stop-color="#f6f03c"/><stop offset="11.0%" stop-color="#f3f244"/><stop offset="12.1%" stop-color="#f5f13f"/><stop offset="13.2%" stop-color="#f6ef39"/><stop offset="14.3%" stop-color="#f7ef35"/><stop offset="15.4%" stop-color="#f7ef36"/><stop offset="16.5%" stop-color="#f5f03d"/><stop offset="17.6%" stop-color="#f6ef38"/><stop offset="18.7%" stop-color="#f5f13e"/><stop offset="19.8%" stop-color="#f5f03d"/><stop offset="20.9%" stop-color="#f5f13f"/><stop offset="22.0%" stop-color="#f5f13f"/><stop offset="23.1%" stop-color="#f5f03d"/><stop offset="24.2%" stop-color="#f4f140"/><stop offset="25.3%" stop-color="#f4f141"/><stop offset="26.4%" stop-color="#f5f13e"/><stop offset="27.5%" stop-color="#f7ef37"/><stop offset="28.6%" stop-color="#f6f039"/><stop offset="29.6%" stop-color="#f3f245"/><stop offset="30.7%" stop-color="#f5f03d"/><stop offset="31.8%" stop-color="#f6f03b"/><stop offset="32.9%" stop-color="#f3f243"/><stop offset="34.0%" stop-color="#f6ef39"/><stop offset="35.1%" stop-color="#f4f140"/><stop offset="36.2%" stop-color="#f5f03d"/><stop offset="37.3%" stop-color="#f6ef39"/><stop offset="38.4%" stop-color="#f7ef36"/><stop offset="39.5%" stop-color="#f6f03b"/><stop offset="40.6%" stop-color="#f6f03b"/><stop offset="41.7%" stop-color="#f3f246"/><stop offset="42.8%" stop-color="#f5f03d"/><stop offset="43.9%" stop-color="#f4f242"/><stop offset="45.0%" stop-color="#f4f13f"/><stop offset="46.1%" stop-color="#f8ee33"/><stop offset="47.2%" stop-color="#f8ee31"/><stop offset="48.3%" stop-color="#f6f03a"/><stop offset="49.4%" stop-color="#f7ef37"/><stop offset="50.5%" stop-color="#f9ed2e"/><stop offset="51.6%" stop-color="#f7ee35"/><stop offset="52.7%" stop-color="#f9ed31"/><stop offset="53.8%" stop-color="#f8ee32"/><stop offset="54.9%" stop-color="#fbec29"/><stop offset="56.0%" stop-color="#fbec29"/><stop offset="57.1%" stop-color="#ffc806"/><stop offset="58.2%" stop-color="#fd8f00"/><stop offset="59.3%" stop-color="#ffae00"/><stop offset="60.4%" stop-color="#fee91c"/><stop offset="61.5%" stop-color="#f9ed2e"/><stop offset="62.6%" stop-color="#faec2d"/><stop offset="63.7%" stop-color="#f8ee31"/><stop offset="64.8%" stop-color="#f8ee34"/><stop offset="65.9%" stop-color="#f6f03b"/><stop offset="67.0%" stop-color="#f7ef37"/><stop offset="68.1%" stop-color="#f8ee33"/><stop offset="69.2%" stop-color="#f7ef36"/><stop offset="70.3%" stop-color="#f5f03d"/><stop offset="71.4%" stop-color="#f6f03c"/><stop offset="72.5%" stop-color="#f7ef36"/><stop offset="73.6%" stop-color="#f8ee35"/><stop offset="74.7%" stop-color="#f5f13e"/><stop offset="75.8%" stop-color="#f6ef39"/><stop offset="76.9%" stop-color="#f4f140"/><stop offset="78.0%" stop-color="#f4f140"/><stop offset="79.1%" stop-color="#f7ef37"/><stop offset="80.2%" stop-color="#f6ef39"/><stop offset="81.3%" stop-color="#f5f13f"/><stop offset="82.4%" stop-color="#f6f03b"/><stop offset="83.5%" stop-color="#f6f03b"/><stop offset="84.6%" stop-color="#f6ef39"/><stop offset="85.7%" stop-color="#f4f142"/><stop offset="86.7%" stop-color="#f6f03c"/><stop offset="87.8%" stop-color="#f5f03d"/><stop offset="88.9%" stop-color="#f7ef37"/><stop offset="90.0%" stop-color="#f6f03c"/><stop offset="91.1%" stop-color="#f6f03c"/><stop offset="92.2%" stop-color="#f5f03d"/><stop offset="93.3%" stop-color="#f4f13f"/><stop offset="94.4%" stop-color="#f5f03c"/><stop offset="95.5%" stop-color="#f5f13e"/><stop offset="96.6%" stop-color="#f6ef39"/><stop offset="97.7%" stop-color="#f5f13e"/><stop offset="98.8%" stop-color="#f7ef36"/><stop offset="99.9%" stop-color="#f4f140"/><stop offset="100.0%" stop-color="#f3f246"/></linearGradient>
<linearGradient id="b22"><stop offset="0.0%" stop-color="#ffba00"/><stop offset="1.1%" stop-color="#ffbb00"/><stop offset="2.2%" stop-color="#ffbf01"/><stop offset="3.3%" stop-color="#ffbd00"/><stop offset="4.4%" stop-color="#ffbd00"/><stop offset="5.5%" stop-color="#ffba00"/><stop offset="6.6%" stop-color="#ffb700"/><stop offset="7.7%" stop-color="#ffbb00"/><stop offset="8.8%" stop-color="#ffbe00"/><stop offset="9.9%" stop-color="#ffb900"/><stop offset="11.0%" stop-color="#ffb300"/><stop offset="12.1%" stop-color="#ffbb00"/><stop offset="13.2%" stop-color="#ffb700"/><stop offset="14.3%" stop-color="#ffb700"/><stop offset="15.4%" stop-color="#ffbb00"/><stop offset="16.5%" stop-color="#ffb800"/><stop offset="17.6%" stop-color="#ffba00"/><stop offset="18.7%" stop-color="#ffbe01"/><stop offset="19.8%" stop-color="#ffb900"/><stop offset="20.9%" stop-color="#ffbe01"/><stop offset="22.0%" stop-color="#ffbd00"/><stop offset="23.1%" stop-color="#ffbf01"/><stop offset="24.2%" stop-color="#ffba00"/><stop offset="25.3%" stop-color="#ffbb00"/><stop offset="26.4%" stop-color="#ffbb00"/><stop offset="27.5%" stop-color="#ffc103"/><stop offset="28.6%" stop-color="#ffc002"/><stop offset="29.6%" stop-color="#ffbe00"/><stop offset="30.7%" stop-color="#ffbe01"/><stop offset="31.8%" stop-color="#ffbe01"/><stop offset="32.9%" stop-color="#ffb900"/><stop offset="34.0%" stop-color="#ffbb00"/><stop offset="35.1%" stop-color="#ffbd00"/><stop offset="36.2%" stop-color="#ffbb00"/><stop offset="37.3%" stop-color="#ffba00"/><stop offset="38.4%" stop-color="#ffb800"/><stop offset="39.5%" stop-color="#ffb900"/><stop offset="40.6%" stop-color="#ffc505"/><stop offset="41.7%" stop-color="#ffbc00"/><stop offset="42.8%" stop-color="#ffc002"/><stop offset="43.9%" stop-color="#ffb900"/><stop offset="45.0%" stop-color="#ffbb00"/><stop offset="46.1%" stop-color="#ffb700"/><stop offset="47.2%" stop-color="#ffbb00"/><stop offset="48.3%" stop-color="#ffbb00"/><stop offset="49.4%" stop-color="#ffb600"/><stop offset="50.5%" stop-color="#ffb800"/><stop offset="51.6%" stop-color="#ffb400"/><stop offset="52.7%" stop-color="#ffb700"/><stop offset="53.8%" stop-color="#ffb700"/><stop offset="54.9%" stop-color="#ffae00"/><stop offset="56.0%" stop-color="#ffb200"/><stop offset="57.1%" stop-color="#ffac00"/><stop offset="58.2%" stop-color="#fe9800"/><stop offset="59.3%" stop-color="#ff9b00"/><stop offset="60.4%" stop-color="#ffb300"/><stop offset="61.5%" stop-color="#ffb500"/><stop offset="62.6%" stop-color="#ffb900"/><stop offset="63.7%" stop-color="#ffb900"/><stop offset="64.8%" stop-color="#ffbb00"/><stop offset="65.9%" stop-color="#ffb600"/><stop offset="67.0%" stop-color="#ffba00"/><stop offset="68.1%" stop-color="#ffb500"/><stop offset="69.2%" stop-color="#ffc404"/><stop offset="70.3%" stop-color="#ffb700"/><stop offset="71.4%" stop-color="#ffba00"/><stop offset="72.5%" stop-color="#ffc505"/><stop offset="73.6%" stop-color="#ffbd00"/><stop offset="74.7%" stop-color="#ffb800"/><stop offset="75.8%" stop-color="#ffb300"/><stop offset="76.9%" stop-color="#ffc203"/><stop offset="78.0%" stop-color="#ffc404"/><stop offset="79.1%" stop-color="#ffba00"/><stop offset="80.2%" stop-color="#ffc002"/><stop offset="81.3%" stop-color="#ffbb00"/><stop offset="82.4%" stop-color="#ffbd00"/><stop offset="83.5%" stop-color="#ffb700"/><stop offset="84.6%" stop-color="#ffbd00"/><stop offset="85.7%" stop-color="#ffbe01"/><stop offset="86.7%" stop-color="#ffbf01"/><stop offset="87.8%" stop-color="#ffbf01"/><stop offset="88.9%" stop-color="#ffb800"/><stop offset="90.0%" stop-color="#ffb800"/><stop offset="91.1%" stop-color="#ffba00"/><stop offset="92.2%" stop-color="#ffb800"/><stop offset="93.3%" stop-color="#ffc203"/><stop offset="94.4%" stop-color="#ffbb00"/><stop offset="95.5%" stop-color="#ffb900"/><stop offset="96.6%" stop-color="#ffbb00"/><stop offset="97.7%" stop-color="#ffc706"/><stop offset="98.8%" stop-color="#ffb700"/><stop offset="99.9%" stop-color="#ffbe00"/><stop offset="100.0%" stop-color="#ffb600"/></linearGradient>
<linearGradient id="b23"><stop offset="0.0%" stop-color="#ffb700"/><stop offset="1.1%" stop-color="#ffb800"/><stop offset="2.2%" stop-color="#ffbf01"/><stop offset="3.3%" stop-color="#ffb700"/><stop offset="4.4%" stop-color="#ffc404"/><stop offset="5.5%" stop-color="#ffbc00"/><stop offset="6.6%" stop-color="#ffb700"/><stop offset="7.7%" stop-color="#ffbe01"/><stop offset="8.8%" stop-color="#ffb600"/><stop offset="9.9%" stop-color="#ffb500"/><stop offset="11.0%" stop-color="#ffb600"/><stop offset="12.1%" stop-color="#ffbc00"/><stop offset="13.2%" stop-color="#ffb900"/><stop offset="14.3%" stop-color="#ffb400"/><stop offset="15.4%" stop-color="#ffb600"/><stop offset="16.5%" stop-color="#ffb700"/><stop offset="17.6%" stop-color="#ffb600"/><stop offset="18.7%" stop-color="#ffbb00"/><stop offset="19.8%" stop-color="#ffb900"/><stop offset="20.9%" stop-color="#ffb800"/><stop offset="22.0%" stop-color="#ffba00"/><stop offset="23.1%" stop-color="#ffb900"/><stop offset="24.2%" stop-color="#ffb900"/><stop offset="25.3%" stop-color="#ffbb00"/><stop offset="26.4%" stop-color="#ffb400"/><stop offset="27.5%" stop-color="#ffb300"/><stop offset="28.6%" stop-color="#ffbf01"/><stop offset="29.6%" stop-color="#ffc203"/><stop offset="30.7%" stop-color="#ffb700"/><stop offset="31.8%" stop-color="#ffb300"/><stop offset="32.9%" stop-color="#ffbc00"/><stop offset="34.0%" stop-color="#ffb200"/><stop offset="35.1%" stop-color="#ffb400"/><stop offset="36.2%" stop-color="#ffc002"/><stop offset="37.3%" stop-color="#ffb700"/><stop offset="38.4%" stop-color="#ffb600"/><stop offset="39.5%" stop-color="#ffb900"/><stop offset="40.6%" stop-color="#ffc203"/><stop offset="41.7%" stop-color="#ffba00"/><stop offset="42.8%" stop-color="#ffb900"/><stop offset="43.9%" stop-color="#ffb800"/><stop offset="45.0%" stop-color="#ffb600"/><stop offset="46.1%" stop-color="#ffba00"/><stop offset="47.2%" stop-color="#ffb500"/><stop offset="48.3%" stop-color="#ffb200"/><stop offset="49.4%" stop-color="#ffb400"/><stop offset="50.5%" stop-color="#ffb700"/><stop offset="51.6%" stop-color="#ffb600"/><stop offset="52.7%" stop-color="#ffb800"/><stop offset="53.8%" stop-color="#ffb900"/><stop offset="54.9%" stop-color="#ffba00"/><stop offset="56.0%" stop-color="#ffb600"/><stop offset="57.1%" stop-color="#ffbb00"/><stop offset="58.2%" stop-color="#ffb200"/><stop offset="59.3%" stop-color="#ffb800"/><stop offset="60.4%" stop-color="#ffb800"/><stop offset="61.5%" stop-color="#ffb900"/><stop offset="62.6%" stop-color="#ffbb00"/><stop offset="63.7%" stop-color="#ffb900"/><stop offset="64.8%" stop-color="#ffb900"/><stop offset="65.9%" stop-color="#ffb300"/><stop offset="67.0%" stop-color="#ffb700"/><stop offset="68.1%" stop-color="#ffb700"/><stop offset="69.2%" stop-color="#ffb700"/><stop offset="70.3%" stop-color="#ffbc00"/><stop offset="71.4%" stop-color="#ffba00"/><stop offset="72.5%" stop-color="#ffbb00"/><stop offset="73.6%" stop-color="#ffb400"/><stop offset="74.7%" stop-color="#ffb800"/><stop offset="75.8%" stop-color="#ffb400"/><stop offset="76.9%" stop-color="#ffb600"/><stop offset="78.0%" stop-color="#ffbc00"/><stop offset="79.1%" stop-color="#ffb500"/><stop offset="80.2%" stop-color="#ffb600"/><stop offset="81.3%" stop-color="#ffba00"/><stop offset="82.4%" stop-color="#ffbb00"/><stop offset="83.5%" stop-color="#ffb500"/><stop offset="84.6%" stop-color="#ffb900"/><stop offset="85.7%" stop-color="#ffbb00"/><stop offset="86.7%" stop-color="#ffb700"/><stop offset="87.8%" stop-color="#ffbc00"/><stop offset="88.9%" stop-color="#ffb500"/><stop offset="90.0%" stop-color="#ffba00"/><stop offset="91.1%" stop-color="#ffbb00"/><stop offset="92.2%" stop-color="#ffbf01"/><stop offset="93.3%" stop-color="#ffb500"/><stop offset="94.4%" stop-color="#ffba00"/><stop offset="95.5%" stop-color="#ffb900"/><stop offset="96.6%" stop-color="#ffb900"/><stop offset="97.7%" stop-color="#ffb800"/><stop offset="98.8%" stop-color="#ffb600"/><stop offset="99.9%" stop-color="#ffbf01"/><stop offset="100.0%" stop-color="#ffb500"/></linearGradient>
<linearGradient id="b24"><stop offset="0.0%" stop-color="#ffba00"/><stop offset="1.1%" stop-color="#ffb800"/><stop offset="2.2%" stop-color="#ffbf01"/><stop offset="3.3%" stop-color="#ffb700"/><stop offset="4.4%" stop-color="#ffbd00"/><stop offset="5.5%" stop-color="#ffb400"/><stop offset="6.6%" stop-color="#ffb500"/><stop offset="7.7%" stop-color="#ffbe01"/><stop offset="8.8%" stop-color="#ffb300"/><stop offset="9.9%" stop-color="#ffba00"/><stop offset="11.0%" stop-color="#ffbc00"/><stop offset="12.1%" stop-color="#ffb500"/><stop offset="13.2%" stop-color="#ffb800"/><stop offset="14.3%" stop-color="#ffb200"/><stop offset="15.4%" stop-color="#ffb500"/><stop offset="16.5%" stop-color="#ffbc00"/><stop offset="17.6%" stop-color="#ffb400"/><stop offset="18.7%" stop-color="#ffb900"/><stop offset="19.8%" stop-color="#ffbb00"/><stop offset="20.9%" stop-color="#ffb700"/><stop offset="22.0%" stop-color="#ffbc00"/><stop offset="23.1%" stop-color="#ffbc00"/><stop offset="24.2%" stop-color="#ffba00"/><stop offset="25.3%" stop-color="#ffb300"/><stop offset="26.4%" stop-color="#ffb000"/><stop offset="27.5%" stop-color="#ffbf01"/><stop offset="28.6%" stop-color="#ffb800"/><stop offset="29.6%" stop-color="#ffb900"/><stop offset="30.7%" stop-color="#ffb800"/><stop offset="31.8%" stop-color="#ffb500"/><stop offset="32.9%" stop-color="#ffbc00"/><stop offset="34.0%" stop-color="#ffba00"/><stop offset="35.1%" stop-color="#ffb800"/><stop offset="36.2%" stop-color="#ffb800"/><stop offset="37.3%" stop-color="#ffb900"/><stop offset="38.4%" stop-color="#ffb800"/><stop offset="39.5%" stop-color="#ffbc00"/><stop offset="40.6%" stop-color="#ffbf01"/><stop offset="41.7%" stop-color="#ffbd00"/><stop offset="42.8%" stop-color="#ffb800"/><stop offset="43.9%" stop-color="#ffbf01"/><stop offset="45.0%" stop-color="#ffb200"/><stop offset="46.1%" stop-color="#ffbc00"/><stop offset="47.2%" stop-color="#ffbf01"/><stop offset="48.3%" stop-color="#ffb900"/><stop offset="49.4%" stop-color="#ffb700"/><stop offset="50.5%" stop-color="#ffbc00"/><stop offset="51.6%" stop-color="#ffb900"/><stop offset="52.7%" stop-color="#ffbb00"/><stop offset="53.8%" stop-color="#ffba00"/><stop offset="54.9%" stop-color="#ffb400"/><stop offset="56.0%" stop-color="#ffb400"/><stop offset="57.1%" stop-color="#ffb200"/><stop offset="58.2%" stop-color="#ffb800"/><stop offset="59.3%" stop-color="#ffb100"/><stop offset="60.4%" stop-color="#ffb600"/><stop offset="61.5%" stop-color="#ffb700"/><stop offset="62.6%" stop-color="#ffb600"/><stop offset="63.7%" stop-color="#ffb600"/><stop offset="64.8%" stop-color="#ffb800"/><stop offset="65.9%" stop-color="#ffb500"/><stop offset="67.0%" stop-color="#ffb300"/><stop offset="68.1%" stop-color="#ffb700"/><stop offset="69.2%" stop-color="#ffb900"/><stop offset="70.3%" stop-color="#ffb500"/><stop offset="71.4%" stop-color="#ffba00"/><stop offset="72.5%" stop-color="#ffb400"/><stop offset="73.6%" stop-color="#ffb600"/><stop offset="74.7%" stop-color="#ffb200"/><stop offset="75.8%" stop-color="#ffb600"/><stop offset="76.9%" stop-color="#ffb900"/><stop offset="78.0%" stop-color="#ffbc00"/><stop offset="79.1%" stop-color="#ffb700"/><stop offset="80.2%" stop-color="#ffbb00"/><stop offset="81.3%" stop-color="#ffb400"/><stop offset="82.4%" stop-color="#ffb700"/><stop offset="83.5%" stop-color="#ffb800"/><stop offset="84.6%" stop-color="#ffb500"/><stop offset="85.7%" stop-color="#ffbb00"/><stop offset="86.7%" stop-color="#ffb900"/><stop offset="87.8%" stop-color="#ffbd00"/><stop offset="88.9%" stop-color="#ffb800"/><stop offset="90.0%" stop-color="#ffbc00"/><stop offset="91.1%" stop-color="#ffb800"/><stop offset="92.2%" stop-color="#ffbb00"/><stop offset="93.3%" stop-color="#ffb800"/><stop offset="94.4%" stop-color="#ffba00"/><stop offset="95.5%" stop-color="#ffb800"/><stop offset="96.6%" stop-color="#ffb700"/><stop offset="97.7%" stop-color="#ffbd00"/><stop offset="98.8%" stop-color="#ffb400"/><stop offset="99.9%" stop-color="#ffb300"/><stop offset="100.0%" stop-color="#ffbd00"/></linearGradient>
<linearGradient id="b25"><stop offset="0.0%" stop-color="#ffb600"/><stop offset="1.1%" stop-color="#ffb900"/><stop offset="2.2%" stop-color="#ffbc00"/><stop offset="3.3%" stop-color="#ffb500"/><stop offset="4.4%" stop-color="#ffb900"/><stop offset="5.5%" stop-color="#ffb800"/><stop offset="6.6%" stop-color="#ffb700"/><stop offset="7.7%" stop-color="#ffb600"/><stop offset="8.8%" stop-color="#ffb700"/><stop offset="9.9%" stop-color="#ffb500"/><stop offset="11.0%" stop-color="#ffbb00"/><stop offset="12.1%" stop-color="#ffb200"/><stop offset="13.2%" stop-color="#ffb500"/><stop offset="14.3%" stop-color="#ffb400"/><stop offset="15.4%" stop-color="#ffaf00"/><stop offset="16.5%" stop-color="#ffb900"/><stop offset="17.6%" stop-color="#ffb300"/><stop offset="18.7%" stop-color="#ffbb00"/><stop offset="19.8%" stop-color="#ffb600"/><stop offset="20.9%" stop-color="#ffc002"/><stop offset="22.0%" stop-color="#ffba00"/><stop offset="23.1%" stop-color="#ffb800"/><stop offset="24.2%" stop-color="#ffb800"/><stop offset="25.3%" stop-color="#ffb600"/><stop offset="26.4%" stop-color="#ffb400"/><stop offset="27.5%" stop-color="#ffb600"/><stop offset="28.6%" stop-color="#ffb500"/><stop offset="29.6%" stop-color="#ffba00"/><stop offset="30.7%" stop-color="#ffb400"/><stop offset="31.8%" stop-color="#ffb600"/><stop offset="32.9%" stop-color="#ffb200"/><stop offset="34.0%" stop-color="#ffb500"/><stop offset="35.1%" stop-color="#ffbc00"/><stop offset="36.2%" stop-color="#ffb900"/><stop offset="37.3%" stop-color="#ffba00"/><stop offset="38.4%" stop-color="#ffb900"/><stop offset="39.5%" stop-color="#ffb300"/><stop offset="40.6%" stop-color="#ffb900"/><stop offset="41.7%" stop-color="#ffb700"/><stop offset="42.8%" stop-color="#ffb900"/><stop offset="43.9%" stop-color="#ffbd00"/><stop offset="45.0%" stop-color="#ffb300"/><stop offset="46.1%" stop-color="#ffbc00"/><stop offset="47.2%" stop-color="#ffbd00"/><stop offset="48.3%" stop-color="#ffbc00"/><stop offset="49.4%" stop-color="#ffb900"/><stop offset="50.5%" stop-color="#ffaf00"/><stop offset="51.6%" stop-color="#ffbb00"/><stop offset="52.7%" stop-color="#ffb400"/><stop offset="53.8%" stop-color="#ffb100"/><stop offset="54.9%" stop-color="#ffb600"/><stop offset="56.0%" stop-color="#ffb800"/><stop offset="57.1%" stop-color="#ffb300"/><stop offset="58.2%" stop-color="#ffb200"/><stop offset="59.3%" stop-color="#ffb800"/><stop offset="60.4%" stop-color="#ffba00"/><stop offset="61.5%" stop-color="#ffb200"/><stop offset="62.6%" stop-color="#ffb900"/><stop offset="63.7%" stop-color="#ffb400"/><stop offset="64.8%" stop-color="#ffb300"/><stop offset="65.9%" stop-color="#ffb800"/><stop offset="67.0%" stop-color="#ffb800"/><stop offset="68.1%" stop-color="#ffb600"/><stop offset="69.2%" stop-color="#ffbb00"/><stop offset="70.3%" stop-color="#ffb900"/><stop offset="71.4%" stop-color="#ffba00"/><stop offset="72.5%" stop-color="#ffb900"/><stop offset="73.6%" stop-color="#ffb600"/><stop offset="74.7%" stop-color="#ffb400"/><stop offset="75.8%" stop-color="#ffb500"/><stop offset="76.9%" stop-color="#ffb700"/><stop offset="78.0%" stop-color="#ffb500"/><stop offset="79.1%" stop-color="#ffb700"/><stop offset="80.2%" stop-color="#ffb700"/><stop offset="81.3%" stop-color="#ffb700"/><stop offset="82.4%" stop-color="#ffb700"/><stop offset="83.5%" stop-color="#ffb700"/><stop offset="84.6%" stop-color="#ffb700"/><stop offset="85.7%" stop-color="#ffbc00"/><stop offset="86.7%" stop-color="#ffbc00"/><stop offset="87.8%" stop-color="#ffbc00"/><stop offset="88.9%" stop-color="#ffb800"/><stop offset="90.0%" stop-color="#ffb200"/><stop offset="91.1%" stop-color="#ffbb00"/><stop offset="92.2%" stop-color="#ffb500"/><stop offset="93.3%" stop-color="#ffb700"/><stop offset="94.4%" stop-color="#ffb400"/><stop offset="95.5%" stop-color="#ffb400"/><stop offset="96.6%" stop-color="#ffbd00"/><stop offset="97.7%" stop-color="#ffb400"/><stop offset="98.8%" stop-color="#ffb200"/><stop offset="99.9%" stop-color="#ffba00"/><stop offset="100.0%" stop-color="#ffbc00"/></linearGradient>
<filter id="nzAu" x="0" y="0" width="1" height="1" color-interpolation-filters="sRGB">
<feTurbulence type="fractalNoise" baseFrequency="0.9 0.05" numOctaves="1" seed="5"/>
<feColorMatrix type="matrix" values="0 0 0 0 1  0 0 0 0 0.62  0 0 0 0 0  0.4 0 0 0 -0.22"/>
</filter>
<filter id="nzBu" x="0" y="0" width="1" height="1" color-interpolation-filters="sRGB">
<feTurbulence type="fractalNoise" baseFrequency="0.9 0.05" numOctaves="1" seed="6"/>
<feColorMatrix type="matrix" values="0 0 0 0 0.95  0 0 0 0 1  0 0 0 0 0.45  0 1.0 0 0 -0.5"/>
</filter>
<filter id="nzAd" x="0" y="0" width="1" height="1" color-interpolation-filters="sRGB">
<feTurbulence type="fractalNoise" baseFrequency="0.5 0.04" numOctaves="1" seed="9"/>
<feColorMatrix type="matrix" values="0 0 0 0 1  0 0 0 0 0.62  0 0 0 0 0  2.0 0 0 0 -0.9"/>
</filter>
<filter id="nzBd" x="0" y="0" width="1" height="1" color-interpolation-filters="sRGB">
<feTurbulence type="fractalNoise" baseFrequency="0.5 0.04" numOctaves="1" seed="10"/>
<feColorMatrix type="matrix" values="0 0 0 0 0.95  0 0 0 0 1  0 0 0 0 0.45  0 1.1 0 0 -0.56"/>
</filter>
</defs>
<g clip-path="url(#ca)"><g filter="url(#vb)"><rect x="18.0" y="3.60" width="273.0" height="13.36" fill="url(#a0)"/>
<rect x="18.0" y="16.91" width="273.0" height="7.36" fill="url(#a1)"/>
<rect x="18.0" y="24.22" width="273.0" height="7.36" fill="url(#a2)"/>
<rect x="18.0" y="31.52" width="273.0" height="7.36" fill="url(#a3)"/>
<rect x="18.0" y="38.83" width="273.0" height="7.36" fill="url(#a4)"/>
<rect x="18.0" y="46.14" width="273.0" height="7.36" fill="url(#a5)"/>
<rect x="18.0" y="53.45" width="273.0" height="7.36" fill="url(#a6)"/>
<rect x="18.0" y="60.75" width="273.0" height="7.36" fill="url(#a7)"/>
<rect x="18.0" y="68.06" width="273.0" height="7.36" fill="url(#a8)"/>
<rect x="18.0" y="75.37" width="273.0" height="7.36" fill="url(#a9)"/>
<rect x="18.0" y="82.68" width="273.0" height="7.36" fill="url(#a10)"/>
<rect x="18.0" y="89.98" width="273.0" height="7.36" fill="url(#a11)"/>
<rect x="18.0" y="97.29" width="273.0" height="7.36" fill="url(#a12)"/>
<rect x="18.0" y="104.60" width="273.0" height="7.36" fill="url(#a13)"/>
<rect x="18.0" y="111.91" width="273.0" height="7.36" fill="url(#a14)"/>
<rect x="18.0" y="119.22" width="273.0" height="7.36" fill="url(#a15)"/>
<rect x="18.0" y="126.52" width="273.0" height="7.36" fill="url(#a16)"/>
<rect x="18.0" y="133.83" width="273.0" height="7.36" fill="url(#a17)"/>
<rect x="18.0" y="141.14" width="273.0" height="7.36" fill="url(#a18)"/>
<rect x="18.0" y="148.45" width="273.0" height="7.36" fill="url(#a19)"/>
<rect x="18.0" y="155.75" width="273.0" height="7.36" fill="url(#a20)"/>
<rect x="18.0" y="163.06" width="273.0" height="7.36" fill="url(#a21)"/>
<rect x="18.0" y="170.37" width="273.0" height="7.36" fill="url(#a22)"/>
<rect x="18.0" y="177.68" width="273.0" height="7.36" fill="url(#a23)"/>
<rect x="18.0" y="184.98" width="273.0" height="7.36" fill="url(#a24)"/>
<rect x="18.0" y="192.29" width="273.0" height="13.36" fill="url(#a25)"/></g><rect x="18.0" y="9.6" width="273.0" height="190.0" filter="url(#nzAu)"/><rect x="18.0" y="9.6" width="273.0" height="190.0" filter="url(#nzBu)"/><g mask="url(#bm)"><rect x="18.0" y="169.4" width="273.0" height="30.2" filter="url(#nzAd)"/><rect x="18.0" y="169.4" width="273.0" height="30.2" filter="url(#nzBd)"/></g><ellipse cx="149" cy="148.6" rx="7.2" ry="13" transform="rotate(11 149 148.6)" fill="url(#bl)" opacity="0.95"/>
<ellipse cx="16.5" cy="35.2" rx="7.5" ry="7.5" fill="url(#bl)" opacity="0.6"/>
<ellipse cx="150.4" cy="144" rx="5.5" ry="5.5" fill="url(#bl)" opacity="0.5"/>
<ellipse cx="147.8" cy="153" rx="5.5" ry="5.5" fill="url(#bl)" opacity="0.5"/>
<ellipse cx="63.0" cy="13.3" rx="10.6" ry="8.1" fill="url(#bl)" opacity="0.38"/>
<ellipse cx="225.0" cy="13.3" rx="10.6" ry="8.1" fill="url(#bl)" opacity="0.50"/>
<ellipse cx="245.0" cy="20.6" rx="7.7" ry="8.1" fill="url(#bl)" opacity="0.85"/>
<ellipse cx="265.5" cy="27.9" rx="7.7" ry="8.1" fill="url(#bl)" opacity="0.90"/>
<ellipse cx="15.5" cy="35.2" rx="7.7" ry="8.1" fill="url(#bl)" opacity="0.85"/>
<ellipse cx="288.5" cy="35.2" rx="7.7" ry="8.1" fill="url(#bl)" opacity="0.85"/>
<ellipse cx="40.5" cy="42.5" rx="7.7" ry="8.1" fill="url(#bl)" opacity="1.00"/>
<ellipse cx="69.5" cy="49.8" rx="7.7" ry="8.1" fill="url(#bl)" opacity="1.00"/>
<ellipse cx="101.0" cy="57.1" rx="7.7" ry="8.1" fill="url(#bl)" opacity="1.00"/>
<ellipse cx="137.0" cy="64.4" rx="7.7" ry="8.1" fill="url(#bl)" opacity="1.00"/>
<ellipse cx="177.5" cy="71.7" rx="7.7" ry="8.1" fill="url(#bl)" opacity="1.00"/>
<ellipse cx="224.0" cy="79.0" rx="7.7" ry="8.1" fill="url(#bl)" opacity="1.00"/>
<ellipse cx="277.0" cy="86.3" rx="7.7" ry="8.1" fill="url(#bl)" opacity="1.00"/>
<ellipse cx="65.5" cy="93.6" rx="7.7" ry="8.1" fill="url(#bl)" opacity="1.00"/>
<ellipse cx="137.0" cy="100.9" rx="7.7" ry="8.1" fill="url(#bl)" opacity="1.00"/>
<ellipse cx="220.6" cy="108.3" rx="7.7" ry="8.1" fill="url(#bl)" opacity="1.00"/>
<ellipse cx="46.4" cy="115.6" rx="7.7" ry="8.1" fill="url(#bl)" opacity="1.00"/>
<ellipse cx="164.4" cy="122.9" rx="7.7" ry="8.1" fill="url(#bl)" opacity="1.00"/>
<ellipse cx="33.6" cy="130.2" rx="7.7" ry="8.1" fill="url(#bl)" opacity="1.00"/>
<ellipse cx="207.4" cy="137.5" rx="7.7" ry="8.1" fill="url(#bl)" opacity="1.00"/>
<ellipse cx="224.0" cy="159.4" rx="7.7" ry="8.1" fill="url(#bl)" opacity="1.00"/>
<ellipse cx="136.4" cy="166.7" rx="7.7" ry="8.1" fill="url(#bl)" opacity="0.80"/>
<ellipse cx="210.0" cy="174.0" rx="7.7" ry="8.1" fill="url(#bl)" opacity="0.75"/></g>
<g clip-path="url(#cb)"><g filter="url(#vb)"><rect x="348.0" y="3.60" width="273.2" height="13.36" fill="url(#b0)"/>
<rect x="348.0" y="16.91" width="273.2" height="7.36" fill="url(#b1)"/>
<rect x="348.0" y="24.22" width="273.2" height="7.36" fill="url(#b2)"/>
<rect x="348.0" y="31.52" width="273.2" height="7.36" fill="url(#b3)"/>
<rect x="348.0" y="38.83" width="273.2" height="7.36" fill="url(#b4)"/>
<rect x="348.0" y="46.14" width="273.2" height="7.36" fill="url(#b5)"/>
<rect x="348.0" y="53.45" width="273.2" height="7.36" fill="url(#b6)"/>
<rect x="348.0" y="60.75" width="273.2" height="7.36" fill="url(#b7)"/>
<rect x="348.0" y="68.06" width="273.2" height="7.36" fill="url(#b8)"/>
<rect x="348.0" y="75.37" width="273.2" height="7.36" fill="url(#b9)"/>
<rect x="348.0" y="82.68" width="273.2" height="7.36" fill="url(#b10)"/>
<rect x="348.0" y="89.98" width="273.2" height="7.36" fill="url(#b11)"/>
<rect x="348.0" y="97.29" width="273.2" height="7.36" fill="url(#b12)"/>
<rect x="348.0" y="104.60" width="273.2" height="7.36" fill="url(#b13)"/>
<rect x="348.0" y="111.91" width="273.2" height="7.36" fill="url(#b14)"/>
<rect x="348.0" y="119.22" width="273.2" height="7.36" fill="url(#b15)"/>
<rect x="348.0" y="126.52" width="273.2" height="7.36" fill="url(#b16)"/>
<rect x="348.0" y="133.83" width="273.2" height="7.36" fill="url(#b17)"/>
<rect x="348.0" y="141.14" width="273.2" height="7.36" fill="url(#b18)"/>
<rect x="348.0" y="148.45" width="273.2" height="7.36" fill="url(#b19)"/>
<rect x="348.0" y="155.75" width="273.2" height="7.36" fill="url(#b20)"/>
<rect x="348.0" y="163.06" width="273.2" height="7.36" fill="url(#b21)"/>
<rect x="348.0" y="170.37" width="273.2" height="7.36" fill="url(#b22)"/>
<rect x="348.0" y="177.68" width="273.2" height="7.36" fill="url(#b23)"/>
<rect x="348.0" y="184.98" width="273.2" height="7.36" fill="url(#b24)"/>
<rect x="348.0" y="192.29" width="273.2" height="13.36" fill="url(#b25)"/></g><rect x="348.0" y="9.6" width="273.2" height="190.0" filter="url(#nzAu)"/><rect x="348.0" y="9.6" width="273.2" height="190.0" filter="url(#nzBu)"/><g mask="url(#bm)"><rect x="348.0" y="169.4" width="273.2" height="30.2" filter="url(#nzAd)"/><rect x="348.0" y="169.4" width="273.2" height="30.2" filter="url(#nzBd)"/></g><g filter="url(#vb)"><rect x="500.6" y="3.60" width="14" height="13.36" fill="url(#ln)" opacity="0.86"/><rect x="500.6" y="16.91" width="14" height="7.36" fill="url(#ln)" opacity="0.92"/><rect x="500.6" y="24.22" width="14" height="7.36" fill="url(#ln)" opacity="0.94"/><rect x="500.6" y="31.52" width="14" height="7.36" fill="url(#ln)" opacity="0.84"/><rect x="500.6" y="38.83" width="14" height="7.36" fill="url(#ln)" opacity="0.86"/><rect x="500.6" y="46.14" width="14" height="7.36" fill="url(#ln)" opacity="0.99"/><rect x="500.6" y="53.45" width="14" height="7.36" fill="url(#ln)" opacity="0.85"/><rect x="500.6" y="60.75" width="14" height="7.36" fill="url(#ln)" opacity="0.86"/><rect x="500.6" y="68.06" width="14" height="7.36" fill="url(#ln)" opacity="0.99"/><rect x="500.6" y="75.37" width="14" height="7.36" fill="url(#ln)" opacity="0.94"/><rect x="500.6" y="82.68" width="14" height="7.36" fill="url(#ln)" opacity="0.90"/><rect x="500.6" y="89.98" width="14" height="7.36" fill="url(#ln)" opacity="0.92"/><rect x="500.6" y="97.29" width="14" height="7.36" fill="url(#ln)" opacity="0.95"/><rect x="500.6" y="104.60" width="14" height="7.36" fill="url(#ln)" opacity="0.88"/><rect x="500.6" y="111.91" width="14" height="7.36" fill="url(#ln)" opacity="0.86"/><rect x="500.6" y="119.22" width="14" height="7.36" fill="url(#ln)" opacity="0.97"/><rect x="500.6" y="126.52" width="14" height="7.36" fill="url(#ln)" opacity="0.95"/><rect x="500.6" y="133.83" width="14" height="7.36" fill="url(#ln)" opacity="0.92"/><rect x="500.6" y="141.14" width="14" height="7.36" fill="url(#ln)" opacity="0.97"/><rect x="500.6" y="148.45" width="14" height="7.36" fill="url(#ln)" opacity="0.93"/><rect x="500.6" y="155.75" width="14" height="7.36" fill="url(#ln)" opacity="1.00"/><rect x="500.6" y="163.06" width="14" height="7.36" fill="url(#ln)" opacity="0.87"/><rect x="500.6" y="170.37" width="14" height="7.36" fill="url(#ln)" opacity="0.55"/><rect x="500.6" y="177.68" width="14" height="7.36" fill="url(#ln)" opacity="0.12"/></g><ellipse cx="615.5" cy="12.5" rx="7" ry="6" fill="url(#bl)" opacity="0.38"/></g>
<rect x="18.30" y="9.70" width="272.40" height="189.70" fill="none" stroke="#5a5a60" stroke-width="0.6"/>
<rect x="348.30" y="9.70" width="272.60" height="189.70" fill="none" stroke="#5a5a60" stroke-width="0.6"/>
</svg>
<svg class="tx" width="637" height="250" viewBox="0 0 637 250">
<text class="b" transform="translate(154.30,6.80)" text-anchor="middle" font-size="9.30" textLength="78.60" lengthAdjust="spacing">Frequency-Phase</text>
<line x1="16.5" y1="13.5" x2="18.0" y2="13.5"/>
<text class="s" transform="translate(13.40,11.90) rotate(-90)" text-anchor="end" font-size="5.40" textLength="12.20" lengthAdjust="spacing">4032</text>
<line x1="16.5" y1="49.9" x2="18.0" y2="49.9"/>
<text class="s" transform="translate(13.40,48.30) rotate(-90)" text-anchor="end" font-size="5.40" textLength="12.20" lengthAdjust="spacing">3366</text>
<line x1="16.5" y1="86.3" x2="18.0" y2="86.3"/>
<text class="s" transform="translate(13.40,84.70) rotate(-90)" text-anchor="end" font-size="5.40" textLength="12.20" lengthAdjust="spacing">2700</text>
<line x1="16.5" y1="122.7" x2="18.0" y2="122.7"/>
<text class="s" transform="translate(13.40,121.10) rotate(-90)" text-anchor="end" font-size="5.40" textLength="12.20" lengthAdjust="spacing">2035</text>
<line x1="16.5" y1="159.1" x2="18.0" y2="159.1"/>
<text class="s" transform="translate(13.40,157.50) rotate(-90)" text-anchor="end" font-size="5.40" textLength="12.20" lengthAdjust="spacing">1369</text>
<line x1="16.5" y1="195.5" x2="18.0" y2="195.5"/>
<text class="s" transform="translate(13.40,193.90) rotate(-90)" text-anchor="end" font-size="5.40" textLength="9.15" lengthAdjust="spacing">704</text>
<text class="c" transform="translate(6.60,104.90) rotate(-90)" text-anchor="middle" font-size="8.20" textLength="67.80" lengthAdjust="spacing">Frequency (MHz)</text>
<line x1="291.0" y1="199.6" x2="292.5" y2="199.6"/>
<text class="s" transform="translate(297.80,198.00) rotate(-90)" text-anchor="end" font-size="5.40">0</text>
<line x1="291.0" y1="161.6" x2="292.5" y2="161.6"/>
<text class="s" transform="translate(297.80,160.00) rotate(-90)" text-anchor="end" font-size="5.40">5</text>
<line x1="291.0" y1="123.6" x2="292.5" y2="123.6"/>
<text class="s" transform="translate(297.80,122.00) rotate(-90)" text-anchor="end" font-size="5.40" textLength="6.10" lengthAdjust="spacing">10</text>
<line x1="291.0" y1="85.6" x2="292.5" y2="85.6"/>
<text class="s" transform="translate(297.80,84.00) rotate(-90)" text-anchor="end" font-size="5.40" textLength="6.10" lengthAdjust="spacing">15</text>
<line x1="291.0" y1="47.6" x2="292.5" y2="47.6"/>
<text class="s" transform="translate(297.80,46.00) rotate(-90)" text-anchor="end" font-size="5.40" textLength="6.10" lengthAdjust="spacing">20</text>
<line x1="291.0" y1="9.6" x2="292.5" y2="9.6"/>
<text class="s" transform="translate(297.80,8.00) rotate(-90)" text-anchor="end" font-size="5.40" textLength="6.10" lengthAdjust="spacing">25</text>
<text class="b" transform="translate(306.60,104.80) rotate(-90)" text-anchor="middle" font-size="8.10" textLength="22.80" lengthAdjust="spacing">Index</text>
<line x1="18.0" y1="199.6" x2="18.0" y2="201.1"/>
<text class="s" transform="translate(18.00,207.20)" text-anchor="middle" font-size="5.40">0</text>
<line x1="86.2" y1="199.6" x2="86.2" y2="201.1"/>
<text class="s" transform="translate(86.25,207.20)" text-anchor="middle" font-size="5.40" textLength="12.20" lengthAdjust="spacing">0.25</text>
<line x1="154.5" y1="199.6" x2="154.5" y2="201.1"/>
<text class="s" transform="translate(154.50,207.20)" text-anchor="middle" font-size="5.40" textLength="9.15" lengthAdjust="spacing">0.5</text>
<line x1="222.8" y1="199.6" x2="222.8" y2="201.1"/>
<text class="s" transform="translate(222.75,207.20)" text-anchor="middle" font-size="5.40" textLength="12.20" lengthAdjust="spacing">0.75</text>
<line x1="291.0" y1="199.6" x2="291.0" y2="201.1"/>
<text class="s" transform="translate(291.00,207.20)" text-anchor="middle" font-size="5.40">1</text>
<text class="b" transform="translate(154.00,215.90)" text-anchor="middle" font-size="7.50" textLength="48.20" lengthAdjust="spacing">Pulse Phase</text>
<text class="b" transform="translate(484.40,6.80)" text-anchor="middle" font-size="9.30" textLength="78.60" lengthAdjust="spacing">Frequency-Phase</text>
<line x1="346.5" y1="13.5" x2="348.0" y2="13.5"/>
<text class="s" transform="translate(343.40,11.90) rotate(-90)" text-anchor="end" font-size="5.40" textLength="12.20" lengthAdjust="spacing">4032</text>
<line x1="346.5" y1="49.9" x2="348.0" y2="49.9"/>
<text class="s" transform="translate(343.40,48.30) rotate(-90)" text-anchor="end" font-size="5.40" textLength="12.20" lengthAdjust="spacing">3366</text>
<line x1="346.5" y1="86.3" x2="348.0" y2="86.3"/>
<text class="s" transform="translate(343.40,84.70) rotate(-90)" text-anchor="end" font-size="5.40" textLength="12.20" lengthAdjust="spacing">2700</text>
<line x1="346.5" y1="122.7" x2="348.0" y2="122.7"/>
<text class="s" transform="translate(343.40,121.10) rotate(-90)" text-anchor="end" font-size="5.40" textLength="12.20" lengthAdjust="spacing">2035</text>
<line x1="346.5" y1="159.1" x2="348.0" y2="159.1"/>
<text class="s" transform="translate(343.40,157.50) rotate(-90)" text-anchor="end" font-size="5.40" textLength="12.20" lengthAdjust="spacing">1369</text>
<line x1="346.5" y1="195.5" x2="348.0" y2="195.5"/>
<text class="s" transform="translate(343.40,193.90) rotate(-90)" text-anchor="end" font-size="5.40" textLength="9.15" lengthAdjust="spacing">704</text>
<text class="c" transform="translate(336.60,104.90) rotate(-90)" text-anchor="middle" font-size="8.20" textLength="67.80" lengthAdjust="spacing">Frequency (MHz)</text>
<line x1="621.2" y1="199.6" x2="622.7" y2="199.6"/>
<text class="s" transform="translate(628.00,198.00) rotate(-90)" text-anchor="end" font-size="5.40">0</text>
<line x1="621.2" y1="161.6" x2="622.7" y2="161.6"/>
<text class="s" transform="translate(628.00,160.00) rotate(-90)" text-anchor="end" font-size="5.40">5</text>
<line x1="621.2" y1="123.6" x2="622.7" y2="123.6"/>
<text class="s" transform="translate(628.00,122.00) rotate(-90)" text-anchor="end" font-size="5.40" textLength="6.10" lengthAdjust="spacing">10</text>
<line x1="621.2" y1="85.6" x2="622.7" y2="85.6"/>
<text class="s" transform="translate(628.00,84.00) rotate(-90)" text-anchor="end" font-size="5.40" textLength="6.10" lengthAdjust="spacing">15</text>
<line x1="621.2" y1="47.6" x2="622.7" y2="47.6"/>
<text class="s" transform="translate(628.00,46.00) rotate(-90)" text-anchor="end" font-size="5.40" textLength="6.10" lengthAdjust="spacing">20</text>
<line x1="621.2" y1="9.6" x2="622.7" y2="9.6"/>
<text class="s" transform="translate(628.00,8.00) rotate(-90)" text-anchor="end" font-size="5.40" textLength="6.10" lengthAdjust="spacing">25</text>
<text class="b" transform="translate(636.80,104.80) rotate(-90)" text-anchor="middle" font-size="8.10" textLength="22.80" lengthAdjust="spacing">Index</text>
<line x1="348.0" y1="199.6" x2="348.0" y2="201.1"/>
<text class="s" transform="translate(348.00,207.20)" text-anchor="middle" font-size="5.40">0</text>
<line x1="416.3" y1="199.6" x2="416.3" y2="201.1"/>
<text class="s" transform="translate(416.30,207.20)" text-anchor="middle" font-size="5.40" textLength="12.20" lengthAdjust="spacing">0.25</text>
<line x1="484.6" y1="199.6" x2="484.6" y2="201.1"/>
<text class="s" transform="translate(484.60,207.20)" text-anchor="middle" font-size="5.40" textLength="9.15" lengthAdjust="spacing">0.5</text>
<line x1="552.9" y1="199.6" x2="552.9" y2="201.1"/>
<text class="s" transform="translate(552.90,207.20)" text-anchor="middle" font-size="5.40" textLength="12.20" lengthAdjust="spacing">0.75</text>
<line x1="621.2" y1="199.6" x2="621.2" y2="201.1"/>
<text class="s" transform="translate(621.20,207.20)" text-anchor="middle" font-size="5.40">1</text>
<text class="b" transform="translate(484.10,215.90)" text-anchor="middle" font-size="7.50" textLength="48.20" lengthAdjust="spacing">Pulse Phase</text>
</svg>
<div class="cap" style="left:29.8px">(a) Subband pulse profile phase unaligned</div>
<div class="cap" style="left:367.3px">(b) Subband pulse profile phase aligned</div>
</body></html>
